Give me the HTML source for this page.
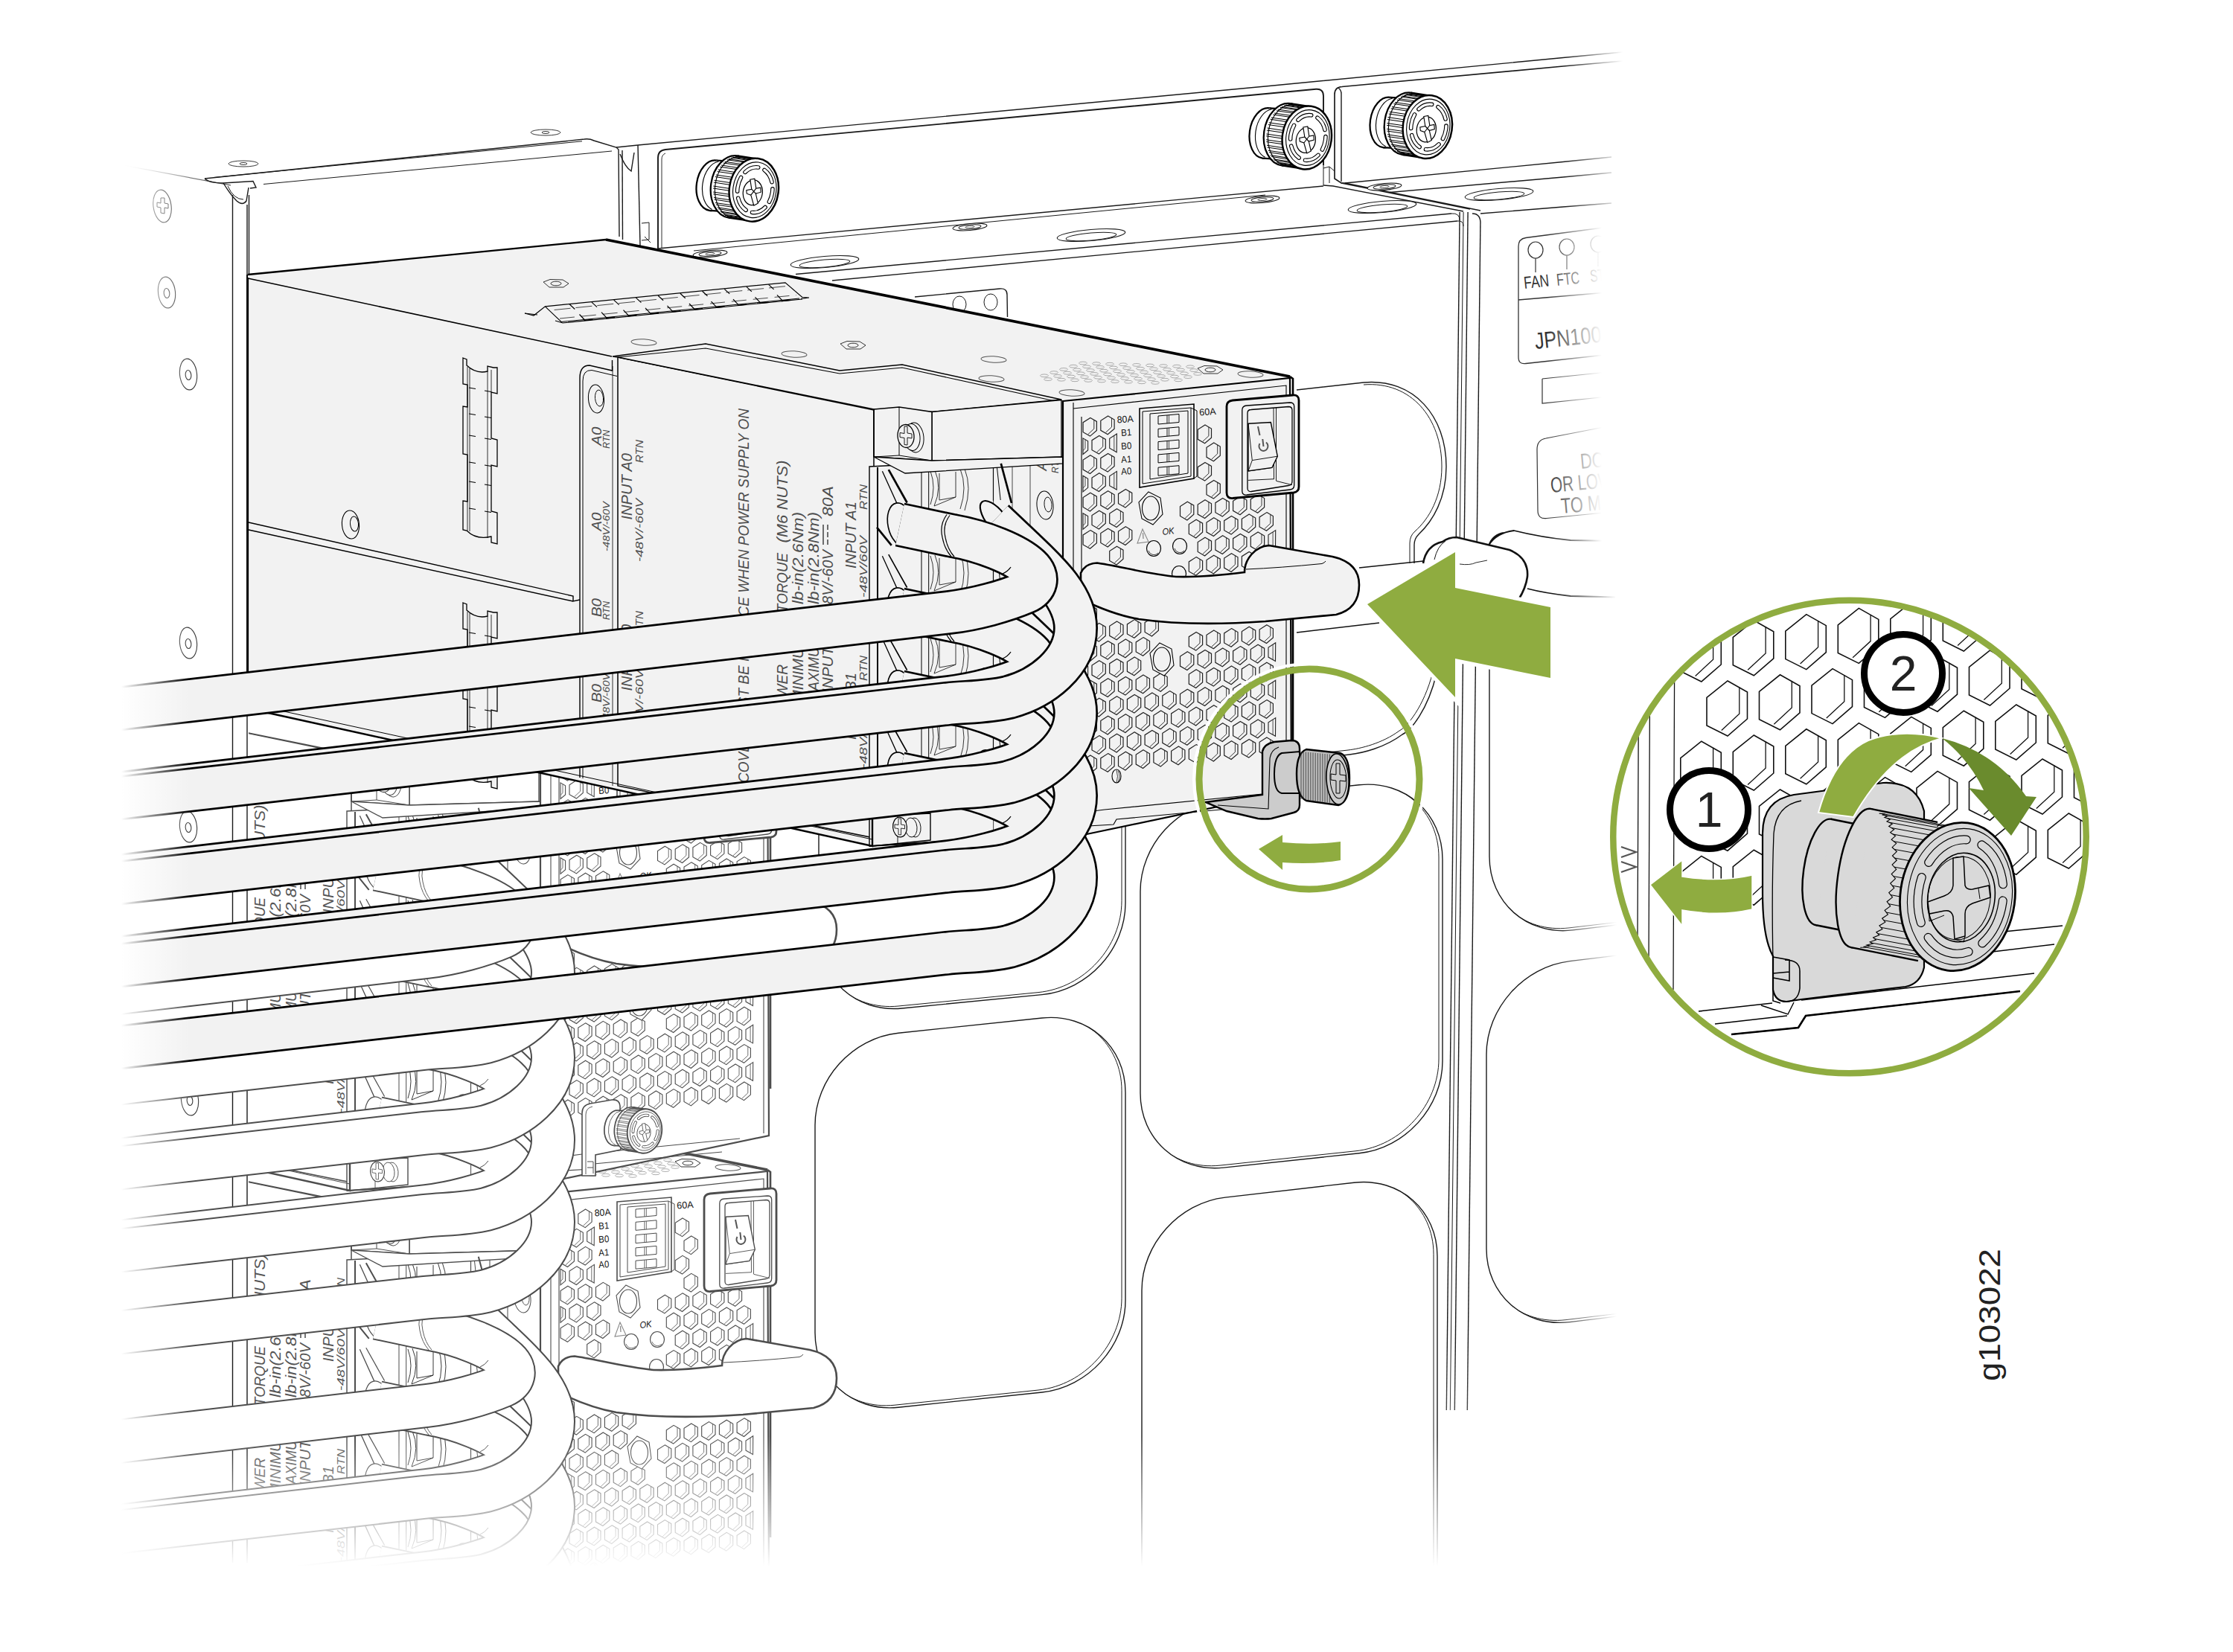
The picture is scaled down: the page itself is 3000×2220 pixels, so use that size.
<!DOCTYPE html>
<html><head><meta charset="utf-8"><title>g103022</title>
<style>html,body{margin:0;padding:0;background:#fff}svg{display:block}</style></head>
<body><svg width="3000" height="2220" viewBox="0 0 3000 2220">
<defs>
<linearGradient id="fadeR" gradientUnits="userSpaceOnUse" x1="2100" y1="0" x2="2180" y2="0"><stop offset="0" stop-color="#1a1a1a"/><stop offset="1" stop-color="#1a1a1a" stop-opacity="0"/></linearGradient>
<linearGradient id="fadeL2" gradientUnits="userSpaceOnUse" x1="160" y1="0" x2="310" y2="0"><stop offset="0" stop-color="#333" stop-opacity="0"/><stop offset="1" stop-color="#333"/></linearGradient>
<linearGradient id="fadeB2" gradientUnits="userSpaceOnUse" x1="0" y1="1800" x2="0" y2="1895"><stop offset="0" stop-color="#1a1a1a"/><stop offset="1" stop-color="#1a1a1a" stop-opacity="0.8"/></linearGradient>
<linearGradient id="wL" gradientUnits="userSpaceOnUse" x1="163" y1="0" x2="256" y2="0"><stop offset="0" stop-color="#fff"/><stop offset="1" stop-color="#fff" stop-opacity="0"/></linearGradient>
<linearGradient id="wR" gradientUnits="userSpaceOnUse" x1="2085" y1="0" x2="2172" y2="0"><stop offset="0" stop-color="#fff" stop-opacity="0"/><stop offset="1" stop-color="#fff"/></linearGradient>
<linearGradient id="wR2" gradientUnits="userSpaceOnUse" x1="2078" y1="0" x2="2152" y2="0"><stop offset="0" stop-color="#fff" stop-opacity="0"/><stop offset="1" stop-color="#fff"/></linearGradient>
<linearGradient id="wB" gradientUnits="userSpaceOnUse" x1="0" y1="1930" x2="0" y2="2105"><stop offset="0" stop-color="#fff" stop-opacity="0"/><stop offset="1" stop-color="#fff"/></linearGradient>
</defs>
<rect width="3000" height="2220" fill="#fff"/>
<g id="hxR"><path d="M2.6,-11.3 L9.2,-7.4 L9.2,4.7 L2.6,10.3 Z" fill="#f2f2f2" stroke="#222" stroke-width="1.1"/><path d="M5.6,-9.5 L5.6,2.4 L2.6,5.2" fill="none" stroke="#222" stroke-width="0.8"/></g><g id="hxL"><path d="M0.6,-12.4 L-9.1,-6.1 L-9.1,6.9 L0.4,12.3 Z" fill="#f2f2f2" stroke="#222" stroke-width="1.1"/><path d="M-3,-10 L-3,10.2" fill="none" stroke="#222" stroke-width="0.8"/></g><g id="hxRg"><path d="M2.6,-11.3 L9.2,-7.4 L9.2,4.7 L2.6,10.3 Z" fill="#fff" stroke="#4d4d4d" stroke-width="1.1"/><path d="M5.6,-9.5 L5.6,2.4 L2.6,5.2" fill="none" stroke="#4d4d4d" stroke-width="0.8"/></g><g id="hxLg"><path d="M0.6,-12.4 L-9.1,-6.1 L-9.1,6.9 L0.4,12.3 Z" fill="#fff" stroke="#4d4d4d" stroke-width="1.1"/><path d="M-3,-10 L-3,10.2" fill="none" stroke="#4d4d4d" stroke-width="0.8"/></g><g id="hx"><path d="M0.7,-12.4 L9.2,-7.4 L9.2,4.7 L0.3,12.3 L-9.1,6.9 L-9.1,-6.1 Z" fill="#f2f2f2" stroke="#222" stroke-width="1.2"/><path d="M5.6,-9.5 L5.6,2.4 L-2.4,9.8" fill="none" stroke="#222" stroke-width="0.9"/></g><g id="hxg"><path d="M0.7,-12.4 L9.2,-7.4 L9.2,4.7 L0.3,12.3 L-9.1,6.9 L-9.1,-6.1 Z" fill="#fff" stroke="#4d4d4d" stroke-width="1.1"/><path d="M5.6,-9.5 L5.6,2.4 L-2.4,9.8" fill="none" stroke="#4d4d4d" stroke-width="0.8"/></g>
<path d="M160,221 L310,249" stroke="url(#fadeL2)" stroke-width="1.2" fill="none"/>
<path d="M312.5,262.0L312.5,2100.0" fill="none" stroke="#1a1a1a" stroke-width="1.4" />
<path d="M332.0,275.0L332.0,2100.0" fill="none" stroke="#1a1a1a" stroke-width="1.4" />
<path d="M334.5,262.0L334.5,372.0" fill="none" stroke="#1a1a1a" stroke-width="1.4" />
<ellipse cx="218.0" cy="277.0" rx="12.0" ry="22.0" fill="#fff" stroke="#3a3a3a" stroke-width="1.1" transform="rotate(-8 218.0 277.0)" />
<path d="M216,266 l5,0 l0,7 l5,1 l0,6 l-5,-1 l0,8 l-5,-1 l0,-7 l-5,-1 l0,-6 l5,1 z" fill="none" stroke="#3a3a3a" stroke-width="1"/>
<ellipse cx="224.0" cy="393.0" rx="11.5" ry="21.0" fill="#fff" stroke="#3a3a3a" stroke-width="1.1" transform="rotate(-6 224.0 393.0)" />
<ellipse cx="224.0" cy="394.0" rx="3.8" ry="6.5" fill="#fff" stroke="#3a3a3a" stroke-width="1.1" transform="rotate(-6 224.0 394.0)" />
<ellipse cx="253.0" cy="503.0" rx="11.5" ry="21.0" fill="#fff" stroke="#3a3a3a" stroke-width="1.1" transform="rotate(-6 253.0 503.0)" />
<ellipse cx="253.0" cy="504.0" rx="3.8" ry="6.5" fill="#fff" stroke="#3a3a3a" stroke-width="1.1" transform="rotate(-6 253.0 504.0)" />
<ellipse cx="253.0" cy="864.0" rx="11.5" ry="21.0" fill="#fff" stroke="#3a3a3a" stroke-width="1.1" transform="rotate(-6 253.0 864.0)" />
<ellipse cx="253.0" cy="865.0" rx="3.8" ry="6.5" fill="#fff" stroke="#3a3a3a" stroke-width="1.1" transform="rotate(-6 253.0 865.0)" />
<ellipse cx="253.0" cy="1111.0" rx="11.5" ry="21.0" fill="#fff" stroke="#3a3a3a" stroke-width="1.1" transform="rotate(-6 253.0 1111.0)" />
<ellipse cx="253.0" cy="1112.0" rx="3.8" ry="6.5" fill="#fff" stroke="#3a3a3a" stroke-width="1.1" transform="rotate(-6 253.0 1112.0)" />
<ellipse cx="255.0" cy="1478.0" rx="11.5" ry="21.0" fill="#fff" stroke="#3a3a3a" stroke-width="1.1" transform="rotate(-6 255.0 1478.0)" />
<ellipse cx="255.0" cy="1479.0" rx="3.8" ry="6.5" fill="#fff" stroke="#3a3a3a" stroke-width="1.1" transform="rotate(-6 255.0 1479.0)" />
<path d="M275,240 L785,187 Q792,186 798,189 L828,198 L831,201 L832,318" fill="none" stroke="#1a1a1a" stroke-width="1.4" />
<path d="M287,238.5 L782,189.8" fill="none" stroke="#1a1a1a" stroke-width="1" />
<path d="M354,247.5 L822,203" fill="none" stroke="#1a1a1a" stroke-width="1" />
<path d="M275,240 Q281,246 300,246 L340,243.5 L344,252 L336,253" fill="none" stroke="#1a1a1a" stroke-width="1.4" />
<path d="M300,246 Q310,262 318,270 Q326,277 331,270 L334,252" fill="none" stroke="#1a1a1a" stroke-width="1.4" />
<path d="M306,250 Q314,268 327,268" fill="none" stroke="#1a1a1a" stroke-width="1" />
<ellipse cx="327.0" cy="220.0" rx="20.0" ry="4.0" fill="#fff" stroke="#3a3a3a" stroke-width="1" />
<ellipse cx="327.0" cy="220.0" rx="5.0" ry="1.5" fill="#fff" stroke="#3a3a3a" stroke-width="1" />
<ellipse cx="733.0" cy="178.0" rx="20.0" ry="4.0" fill="#fff" stroke="#3a3a3a" stroke-width="1" />
<ellipse cx="733.0" cy="178.0" rx="5.0" ry="1.5" fill="#fff" stroke="#3a3a3a" stroke-width="1" />
<path d="M828,198 L857,195" fill="none" stroke="#1a1a1a" stroke-width="1.4" />
<path d="M833,207 Q840,225 848,230 L852,205" fill="none" stroke="#1a1a1a" stroke-width="1.4" />
<path d="M836,202 L836.5,322" fill="none" stroke="#1a1a1a" stroke-width="1.4" />
<path d="M857,195 L860,330" fill="none" stroke="#1a1a1a" stroke-width="1.4" />
<path d="M857,195 L1700,116 L2100,77.5" fill="none" stroke="#1a1a1a" stroke-width="1.4" />
<path d="M2100,77.5 L2180,70" fill="none" stroke="url(#fadeR)" stroke-width="1.4" />
<path d="M884,334 L884,212 Q884,202 894,201 L1768,119.8 Q1778,119 1778,129 L1778,222" fill="none" stroke="#1a1a1a" stroke-width="1.9" />
<path d="M889,333 L889,214 Q889,208 894,206" fill="none" stroke="#1a1a1a" stroke-width="0.9" />
<path d="M884,334 L1778,250" fill="none" stroke="#1a1a1a" stroke-width="1.4" />
<path d="M862,300 L872,299 L872,322 L862,323 M866,318 l8,8" fill="none" stroke="#1a1a1a" stroke-width="1" />
<path d="M1807,246 L1802,246 L1793,240 L1793,127 Q1793,117 1803,116.5 L2100,89" fill="none" stroke="#1a1a1a" stroke-width="1.68" />
<path d="M2100,89 L2180,82" fill="none" stroke="url(#fadeR)" stroke-width="1.4" />
<path d="M1802,244 L1802,126 Q1802,121 1798,118" fill="none" stroke="#1a1a1a" stroke-width="1.4" />
<path d="M1807,246 L2100,217.5" fill="none" stroke="#1a1a1a" stroke-width="1.4" />
<path d="M2100,217.5 L2165,211" fill="none" stroke="url(#fadeR)" stroke-width="1.4" />
<path d="M1778,222 L1778,249 M1778,226 L1786,224 L1793,230 M1786,224 L1786,246" fill="none" stroke="#1a1a1a" stroke-width="1" />
<path d="M932,337 L1700,262" fill="none" stroke="#1a1a1a" stroke-width="1" />
<path d="M1069,368.5 L1950,287" fill="none" stroke="#1a1a1a" stroke-width="1.4" />
<path d="M1118,377 L1958,297" fill="none" stroke="#1a1a1a" stroke-width="1.4" />
<path d="M1778,249 L1791,250 L1966,284 M1802,246 L1975,281 M1807,246 L1989,283" fill="none" stroke="#1a1a1a" stroke-width="1.4" />
<path d="M1867,258.5 L2100,238" fill="none" stroke="#1a1a1a" stroke-width="1.4" />
<path d="M2100,238 L2165,232" fill="none" stroke="url(#fadeR)" stroke-width="1.4" />
<path d="M1989,287 L2100,278" fill="none" stroke="#1a1a1a" stroke-width="1.4" />
<path d="M2100,278 L2165,273" fill="none" stroke="url(#fadeR)" stroke-width="1.4" />
<ellipse cx="1108.0" cy="352.0" rx="46.0" ry="7.5" fill="#fff" stroke="#1a1a1a" stroke-width="1.1" transform="rotate(-5 1108.0 352.0)" />
<ellipse cx="1108.0" cy="354.0" rx="34.0" ry="5.0" fill="#fff" stroke="#1a1a1a" stroke-width="1" transform="rotate(-5 1108.0 354.0)" />
<ellipse cx="1466.0" cy="316.0" rx="46.0" ry="7.5" fill="#fff" stroke="#1a1a1a" stroke-width="1.1" transform="rotate(-5 1466.0 316.0)" />
<ellipse cx="1466.0" cy="318.0" rx="34.0" ry="5.0" fill="#fff" stroke="#1a1a1a" stroke-width="1" transform="rotate(-5 1466.0 318.0)" />
<ellipse cx="1857.0" cy="278.0" rx="46.0" ry="7.5" fill="#fff" stroke="#1a1a1a" stroke-width="1.1" transform="rotate(-5 1857.0 278.0)" />
<ellipse cx="1857.0" cy="280.0" rx="34.0" ry="5.0" fill="#fff" stroke="#1a1a1a" stroke-width="1" transform="rotate(-5 1857.0 280.0)" />
<ellipse cx="2014.0" cy="261.0" rx="46.0" ry="7.5" fill="#fff" stroke="#1a1a1a" stroke-width="1.1" transform="rotate(-5 2014.0 261.0)" />
<ellipse cx="2014.0" cy="263.0" rx="34.0" ry="5.0" fill="#fff" stroke="#1a1a1a" stroke-width="1" transform="rotate(-5 2014.0 263.0)" />
<ellipse cx="954.0" cy="341.0" rx="23.0" ry="4.5" fill="#fff" stroke="#1a1a1a" stroke-width="1.1" transform="rotate(-5 954.0 341.0)" />
<ellipse cx="954.0" cy="341.0" rx="15.0" ry="3.0" fill="#fff" stroke="#1a1a1a" stroke-width="1" transform="rotate(-5 954.0 341.0)" />
<ellipse cx="954.0" cy="341.0" rx="6.0" ry="1.5" fill="#fff" stroke="#1a1a1a" stroke-width="0.8" transform="rotate(-5 954.0 341.0)" />
<ellipse cx="1303.0" cy="305.0" rx="23.0" ry="4.5" fill="#fff" stroke="#1a1a1a" stroke-width="1.1" transform="rotate(-5 1303.0 305.0)" />
<ellipse cx="1303.0" cy="305.0" rx="15.0" ry="3.0" fill="#fff" stroke="#1a1a1a" stroke-width="1" transform="rotate(-5 1303.0 305.0)" />
<ellipse cx="1303.0" cy="305.0" rx="6.0" ry="1.5" fill="#fff" stroke="#1a1a1a" stroke-width="0.8" transform="rotate(-5 1303.0 305.0)" />
<ellipse cx="1696.0" cy="268.0" rx="23.0" ry="4.5" fill="#fff" stroke="#1a1a1a" stroke-width="1.1" transform="rotate(-5 1696.0 268.0)" />
<ellipse cx="1696.0" cy="268.0" rx="15.0" ry="3.0" fill="#fff" stroke="#1a1a1a" stroke-width="1" transform="rotate(-5 1696.0 268.0)" />
<ellipse cx="1696.0" cy="268.0" rx="6.0" ry="1.5" fill="#fff" stroke="#1a1a1a" stroke-width="0.8" transform="rotate(-5 1696.0 268.0)" />
<ellipse cx="1860.0" cy="251.0" rx="23.0" ry="4.5" fill="#fff" stroke="#1a1a1a" stroke-width="1.1" transform="rotate(-5 1860.0 251.0)" />
<ellipse cx="1860.0" cy="251.0" rx="15.0" ry="3.0" fill="#fff" stroke="#1a1a1a" stroke-width="1" transform="rotate(-5 1860.0 251.0)" />
<ellipse cx="1860.0" cy="251.0" rx="6.0" ry="1.5" fill="#fff" stroke="#1a1a1a" stroke-width="0.8" transform="rotate(-5 1860.0 251.0)" />
<path d="M1229,399 L1343,388 Q1353,387 1353,396 L1353.5,426" fill="none" stroke="#1a1a1a" stroke-width="1.4" />
<ellipse cx="1289.0" cy="409.0" rx="9.0" ry="11.0" fill="#fff" stroke="#1a1a1a" stroke-width="1" />
<ellipse cx="1331.0" cy="406.0" rx="9.0" ry="11.0" fill="#fff" stroke="#1a1a1a" stroke-width="1" />
<g transform="translate(1012.8,255.2) scale(1.0)"><ellipse cx="-55.0" cy="-6.0" rx="22.0" ry="34.0" fill="#fff" stroke="#000" stroke-width="2.25" transform="rotate(8 -55.0 -6.0)" /><path d="M-50.3,-39.7 L-25.3,-38.2 L-34.7,29.2 L-59.7,27.7Z" fill="#fff" stroke="none" stroke-width="0" /><path d="M-50.3,-39.7 L-25.3,-38.2" fill="none" stroke="#000" stroke-width="2.25" /><path d="M-59.7,27.7 L-34.7,29.2" fill="none" stroke="#000" stroke-width="2.25" /><path d="M-47.1,-38.2 A21,33 8 0 0 -56.1,26.2" fill="none" stroke="#000" stroke-width="1.125"/><ellipse cx="-27.8" cy="-4.2" rx="30.0" ry="42.0" fill="#fff" stroke="#000" stroke-width="2.25" transform="rotate(8 -27.8 -4.2)" /><path d="M-22.0,-45.8 L3.8,-41.9 L-7.8,41.3 L-33.6,37.4Z" fill="#fff" stroke="none" stroke-width="0" /><path d="M-22.0,-45.8 L3.8,-41.9" fill="none" stroke="#000" stroke-width="2.25" /><path d="M-33.6,37.4 L-7.8,41.3" fill="none" stroke="#000" stroke-width="2.25" /><path d="M-18.8,-44.3 A29,41 8 0 0 -30.2,36.8" fill="none" stroke="#000" stroke-width="1.125"/><path d="M-22.8,-44.7 L11.2,-39.6" fill="none" stroke="#000" stroke-width="1.0125" /><path d="M-24.9,-44.6 L9.1,-39.5" fill="none" stroke="#000" stroke-width="1.0125" /><path d="M-28.4,-43.9 L5.6,-38.8" fill="none" stroke="#000" stroke-width="1.0125" /><path d="M-30.5,-43.3 L3.5,-38.2" fill="none" stroke="#000" stroke-width="1.0125" /><path d="M-33.9,-41.6 L0.1,-36.5" fill="none" stroke="#000" stroke-width="1.0125" /><path d="M-35.9,-40.5 L-1.9,-35.4" fill="none" stroke="#000" stroke-width="1.0125" /><path d="M-39.1,-38.0 L-5.1,-32.9" fill="none" stroke="#000" stroke-width="1.0125" /><path d="M-40.9,-36.3 L-6.9,-31.2" fill="none" stroke="#000" stroke-width="1.0125" /><path d="M-43.8,-33.1 L-9.8,-28.0" fill="none" stroke="#000" stroke-width="1.0125" /><path d="M-45.4,-31.0 L-11.4,-25.9" fill="none" stroke="#000" stroke-width="1.0125" /><path d="M-47.9,-27.1 L-13.9,-22.0" fill="none" stroke="#000" stroke-width="1.0125" /><path d="M-49.1,-24.7 L-15.1,-19.6" fill="none" stroke="#000" stroke-width="1.0125" /><path d="M-51.0,-20.3 L-17.0,-15.2" fill="none" stroke="#000" stroke-width="1.0125" /><path d="M-52.0,-17.6 L-18.0,-12.5" fill="none" stroke="#000" stroke-width="1.0125" /><path d="M-53.3,-12.9 L-19.3,-7.8" fill="none" stroke="#000" stroke-width="1.0125" /><path d="M-53.9,-10.1 L-19.9,-5.0" fill="none" stroke="#000" stroke-width="1.0125" /><path d="M-54.5,-5.1 L-20.5,0.0" fill="none" stroke="#000" stroke-width="1.0125" /><path d="M-54.7,-2.2 L-20.7,2.9" fill="none" stroke="#000" stroke-width="1.0125" /><path d="M-54.7,2.7 L-20.7,7.8" fill="none" stroke="#000" stroke-width="1.0125" /><path d="M-54.5,5.5 L-20.5,10.6" fill="none" stroke="#000" stroke-width="1.0125" /><path d="M-53.8,10.3 L-19.8,15.4" fill="none" stroke="#000" stroke-width="1.0125" /><path d="M-53.2,12.9 L-19.2,18.0" fill="none" stroke="#000" stroke-width="1.0125" /><path d="M-51.9,17.3 L-17.9,22.4" fill="none" stroke="#000" stroke-width="1.0125" /><path d="M-50.9,19.7 L-16.9,24.8" fill="none" stroke="#000" stroke-width="1.0125" /><path d="M-49.0,23.6 L-15.0,28.7" fill="none" stroke="#000" stroke-width="1.0125" /><path d="M-47.7,25.6 L-13.7,30.7" fill="none" stroke="#000" stroke-width="1.0125" /><path d="M-45.2,28.8 L-11.2,33.9" fill="none" stroke="#000" stroke-width="1.0125" /><path d="M-43.6,30.4 L-9.6,35.5" fill="none" stroke="#000" stroke-width="1.0125" /><path d="M-40.7,32.9 L-6.7,38.0" fill="none" stroke="#000" stroke-width="1.0125" /><path d="M-38.9,34.0 L-4.9,39.1" fill="none" stroke="#000" stroke-width="1.0125" /><path d="M-35.6,35.6 L-1.6,40.7" fill="none" stroke="#000" stroke-width="1.0125" /><path d="M-33.7,36.2 L0.3,41.3" fill="none" stroke="#000" stroke-width="1.0125" /><ellipse cx="0.0" cy="0.0" rx="33.0" ry="42.6" fill="#fff" stroke="#000" stroke-width="2.475" transform="rotate(8 0.0 0.0)" /><ellipse cx="1.0" cy="0.0" rx="29.0" ry="37.5" fill="none" stroke="#000" stroke-width="1.125" transform="rotate(8 1.0 0.0)" /><ellipse cx="1.5" cy="0" rx="23.5" ry="30.5" fill="none" stroke="#000" stroke-width="5.6" stroke-dasharray="19.5 9" stroke-dashoffset="6" stroke-linecap="round" transform="rotate(8 1.5 0)"/><ellipse cx="1.5" cy="0" rx="23.5" ry="30.5" fill="none" stroke="#fff" stroke-width="3.3499999999999996" stroke-dasharray="19.5 9" stroke-dashoffset="6" stroke-linecap="round" transform="rotate(8 1.5 0)"/><ellipse cx="-1.5" cy="3.5" rx="13.0" ry="17.0" fill="#fff" stroke="#000" stroke-width="1.2375" transform="rotate(8 -1.5 3.5)" /><path d="M-5,-14 L1,-15 L3,-2 L9,-3 L9.5,3 L2.5,5 L5.5,18 L0,21 L-4,7 L-9.5,5 L-10,0.5 L-3,-1 Z M-3,-1 L2.5,5 M3,-2 L-4,7" fill="#fff" stroke="#000" stroke-width="1.125"/></g>
<g transform="translate(1755.8,185) scale(1.0)"><ellipse cx="-55.0" cy="-6.0" rx="22.0" ry="34.0" fill="#fff" stroke="#000" stroke-width="2.25" transform="rotate(8 -55.0 -6.0)" /><path d="M-50.3,-39.7 L-25.3,-38.2 L-34.7,29.2 L-59.7,27.7Z" fill="#fff" stroke="none" stroke-width="0" /><path d="M-50.3,-39.7 L-25.3,-38.2" fill="none" stroke="#000" stroke-width="2.25" /><path d="M-59.7,27.7 L-34.7,29.2" fill="none" stroke="#000" stroke-width="2.25" /><path d="M-47.1,-38.2 A21,33 8 0 0 -56.1,26.2" fill="none" stroke="#000" stroke-width="1.125"/><ellipse cx="-27.8" cy="-4.2" rx="30.0" ry="42.0" fill="#fff" stroke="#000" stroke-width="2.25" transform="rotate(8 -27.8 -4.2)" /><path d="M-22.0,-45.8 L3.8,-41.9 L-7.8,41.3 L-33.6,37.4Z" fill="#fff" stroke="none" stroke-width="0" /><path d="M-22.0,-45.8 L3.8,-41.9" fill="none" stroke="#000" stroke-width="2.25" /><path d="M-33.6,37.4 L-7.8,41.3" fill="none" stroke="#000" stroke-width="2.25" /><path d="M-18.8,-44.3 A29,41 8 0 0 -30.2,36.8" fill="none" stroke="#000" stroke-width="1.125"/><path d="M-22.8,-44.7 L11.2,-39.6" fill="none" stroke="#000" stroke-width="1.0125" /><path d="M-24.9,-44.6 L9.1,-39.5" fill="none" stroke="#000" stroke-width="1.0125" /><path d="M-28.4,-43.9 L5.6,-38.8" fill="none" stroke="#000" stroke-width="1.0125" /><path d="M-30.5,-43.3 L3.5,-38.2" fill="none" stroke="#000" stroke-width="1.0125" /><path d="M-33.9,-41.6 L0.1,-36.5" fill="none" stroke="#000" stroke-width="1.0125" /><path d="M-35.9,-40.5 L-1.9,-35.4" fill="none" stroke="#000" stroke-width="1.0125" /><path d="M-39.1,-38.0 L-5.1,-32.9" fill="none" stroke="#000" stroke-width="1.0125" /><path d="M-40.9,-36.3 L-6.9,-31.2" fill="none" stroke="#000" stroke-width="1.0125" /><path d="M-43.8,-33.1 L-9.8,-28.0" fill="none" stroke="#000" stroke-width="1.0125" /><path d="M-45.4,-31.0 L-11.4,-25.9" fill="none" stroke="#000" stroke-width="1.0125" /><path d="M-47.9,-27.1 L-13.9,-22.0" fill="none" stroke="#000" stroke-width="1.0125" /><path d="M-49.1,-24.7 L-15.1,-19.6" fill="none" stroke="#000" stroke-width="1.0125" /><path d="M-51.0,-20.3 L-17.0,-15.2" fill="none" stroke="#000" stroke-width="1.0125" /><path d="M-52.0,-17.6 L-18.0,-12.5" fill="none" stroke="#000" stroke-width="1.0125" /><path d="M-53.3,-12.9 L-19.3,-7.8" fill="none" stroke="#000" stroke-width="1.0125" /><path d="M-53.9,-10.1 L-19.9,-5.0" fill="none" stroke="#000" stroke-width="1.0125" /><path d="M-54.5,-5.1 L-20.5,0.0" fill="none" stroke="#000" stroke-width="1.0125" /><path d="M-54.7,-2.2 L-20.7,2.9" fill="none" stroke="#000" stroke-width="1.0125" /><path d="M-54.7,2.7 L-20.7,7.8" fill="none" stroke="#000" stroke-width="1.0125" /><path d="M-54.5,5.5 L-20.5,10.6" fill="none" stroke="#000" stroke-width="1.0125" /><path d="M-53.8,10.3 L-19.8,15.4" fill="none" stroke="#000" stroke-width="1.0125" /><path d="M-53.2,12.9 L-19.2,18.0" fill="none" stroke="#000" stroke-width="1.0125" /><path d="M-51.9,17.3 L-17.9,22.4" fill="none" stroke="#000" stroke-width="1.0125" /><path d="M-50.9,19.7 L-16.9,24.8" fill="none" stroke="#000" stroke-width="1.0125" /><path d="M-49.0,23.6 L-15.0,28.7" fill="none" stroke="#000" stroke-width="1.0125" /><path d="M-47.7,25.6 L-13.7,30.7" fill="none" stroke="#000" stroke-width="1.0125" /><path d="M-45.2,28.8 L-11.2,33.9" fill="none" stroke="#000" stroke-width="1.0125" /><path d="M-43.6,30.4 L-9.6,35.5" fill="none" stroke="#000" stroke-width="1.0125" /><path d="M-40.7,32.9 L-6.7,38.0" fill="none" stroke="#000" stroke-width="1.0125" /><path d="M-38.9,34.0 L-4.9,39.1" fill="none" stroke="#000" stroke-width="1.0125" /><path d="M-35.6,35.6 L-1.6,40.7" fill="none" stroke="#000" stroke-width="1.0125" /><path d="M-33.7,36.2 L0.3,41.3" fill="none" stroke="#000" stroke-width="1.0125" /><ellipse cx="0.0" cy="0.0" rx="33.0" ry="42.6" fill="#fff" stroke="#000" stroke-width="2.475" transform="rotate(8 0.0 0.0)" /><ellipse cx="1.0" cy="0.0" rx="29.0" ry="37.5" fill="none" stroke="#000" stroke-width="1.125" transform="rotate(8 1.0 0.0)" /><ellipse cx="1.5" cy="0" rx="23.5" ry="30.5" fill="none" stroke="#000" stroke-width="5.6" stroke-dasharray="19.5 9" stroke-dashoffset="6" stroke-linecap="round" transform="rotate(8 1.5 0)"/><ellipse cx="1.5" cy="0" rx="23.5" ry="30.5" fill="none" stroke="#fff" stroke-width="3.3499999999999996" stroke-dasharray="19.5 9" stroke-dashoffset="6" stroke-linecap="round" transform="rotate(8 1.5 0)"/><ellipse cx="-1.5" cy="3.5" rx="13.0" ry="17.0" fill="#fff" stroke="#000" stroke-width="1.2375" transform="rotate(8 -1.5 3.5)" /><path d="M-5,-14 L1,-15 L3,-2 L9,-3 L9.5,3 L2.5,5 L5.5,18 L0,21 L-4,7 L-9.5,5 L-10,0.5 L-3,-1 Z M-3,-1 L2.5,5 M3,-2 L-4,7" fill="#fff" stroke="#000" stroke-width="1.125"/></g>
<g transform="translate(1917.8,170.5) scale(1.0)"><ellipse cx="-55.0" cy="-6.0" rx="22.0" ry="34.0" fill="#fff" stroke="#000" stroke-width="2.25" transform="rotate(8 -55.0 -6.0)" /><path d="M-50.3,-39.7 L-25.3,-38.2 L-34.7,29.2 L-59.7,27.7Z" fill="#fff" stroke="none" stroke-width="0" /><path d="M-50.3,-39.7 L-25.3,-38.2" fill="none" stroke="#000" stroke-width="2.25" /><path d="M-59.7,27.7 L-34.7,29.2" fill="none" stroke="#000" stroke-width="2.25" /><path d="M-47.1,-38.2 A21,33 8 0 0 -56.1,26.2" fill="none" stroke="#000" stroke-width="1.125"/><ellipse cx="-27.8" cy="-4.2" rx="30.0" ry="42.0" fill="#fff" stroke="#000" stroke-width="2.25" transform="rotate(8 -27.8 -4.2)" /><path d="M-22.0,-45.8 L3.8,-41.9 L-7.8,41.3 L-33.6,37.4Z" fill="#fff" stroke="none" stroke-width="0" /><path d="M-22.0,-45.8 L3.8,-41.9" fill="none" stroke="#000" stroke-width="2.25" /><path d="M-33.6,37.4 L-7.8,41.3" fill="none" stroke="#000" stroke-width="2.25" /><path d="M-18.8,-44.3 A29,41 8 0 0 -30.2,36.8" fill="none" stroke="#000" stroke-width="1.125"/><path d="M-22.8,-44.7 L11.2,-39.6" fill="none" stroke="#000" stroke-width="1.0125" /><path d="M-24.9,-44.6 L9.1,-39.5" fill="none" stroke="#000" stroke-width="1.0125" /><path d="M-28.4,-43.9 L5.6,-38.8" fill="none" stroke="#000" stroke-width="1.0125" /><path d="M-30.5,-43.3 L3.5,-38.2" fill="none" stroke="#000" stroke-width="1.0125" /><path d="M-33.9,-41.6 L0.1,-36.5" fill="none" stroke="#000" stroke-width="1.0125" /><path d="M-35.9,-40.5 L-1.9,-35.4" fill="none" stroke="#000" stroke-width="1.0125" /><path d="M-39.1,-38.0 L-5.1,-32.9" fill="none" stroke="#000" stroke-width="1.0125" /><path d="M-40.9,-36.3 L-6.9,-31.2" fill="none" stroke="#000" stroke-width="1.0125" /><path d="M-43.8,-33.1 L-9.8,-28.0" fill="none" stroke="#000" stroke-width="1.0125" /><path d="M-45.4,-31.0 L-11.4,-25.9" fill="none" stroke="#000" stroke-width="1.0125" /><path d="M-47.9,-27.1 L-13.9,-22.0" fill="none" stroke="#000" stroke-width="1.0125" /><path d="M-49.1,-24.7 L-15.1,-19.6" fill="none" stroke="#000" stroke-width="1.0125" /><path d="M-51.0,-20.3 L-17.0,-15.2" fill="none" stroke="#000" stroke-width="1.0125" /><path d="M-52.0,-17.6 L-18.0,-12.5" fill="none" stroke="#000" stroke-width="1.0125" /><path d="M-53.3,-12.9 L-19.3,-7.8" fill="none" stroke="#000" stroke-width="1.0125" /><path d="M-53.9,-10.1 L-19.9,-5.0" fill="none" stroke="#000" stroke-width="1.0125" /><path d="M-54.5,-5.1 L-20.5,0.0" fill="none" stroke="#000" stroke-width="1.0125" /><path d="M-54.7,-2.2 L-20.7,2.9" fill="none" stroke="#000" stroke-width="1.0125" /><path d="M-54.7,2.7 L-20.7,7.8" fill="none" stroke="#000" stroke-width="1.0125" /><path d="M-54.5,5.5 L-20.5,10.6" fill="none" stroke="#000" stroke-width="1.0125" /><path d="M-53.8,10.3 L-19.8,15.4" fill="none" stroke="#000" stroke-width="1.0125" /><path d="M-53.2,12.9 L-19.2,18.0" fill="none" stroke="#000" stroke-width="1.0125" /><path d="M-51.9,17.3 L-17.9,22.4" fill="none" stroke="#000" stroke-width="1.0125" /><path d="M-50.9,19.7 L-16.9,24.8" fill="none" stroke="#000" stroke-width="1.0125" /><path d="M-49.0,23.6 L-15.0,28.7" fill="none" stroke="#000" stroke-width="1.0125" /><path d="M-47.7,25.6 L-13.7,30.7" fill="none" stroke="#000" stroke-width="1.0125" /><path d="M-45.2,28.8 L-11.2,33.9" fill="none" stroke="#000" stroke-width="1.0125" /><path d="M-43.6,30.4 L-9.6,35.5" fill="none" stroke="#000" stroke-width="1.0125" /><path d="M-40.7,32.9 L-6.7,38.0" fill="none" stroke="#000" stroke-width="1.0125" /><path d="M-38.9,34.0 L-4.9,39.1" fill="none" stroke="#000" stroke-width="1.0125" /><path d="M-35.6,35.6 L-1.6,40.7" fill="none" stroke="#000" stroke-width="1.0125" /><path d="M-33.7,36.2 L0.3,41.3" fill="none" stroke="#000" stroke-width="1.0125" /><ellipse cx="0.0" cy="0.0" rx="33.0" ry="42.6" fill="#fff" stroke="#000" stroke-width="2.475" transform="rotate(8 0.0 0.0)" /><ellipse cx="1.0" cy="0.0" rx="29.0" ry="37.5" fill="none" stroke="#000" stroke-width="1.125" transform="rotate(8 1.0 0.0)" /><ellipse cx="1.5" cy="0" rx="23.5" ry="30.5" fill="none" stroke="#000" stroke-width="5.6" stroke-dasharray="19.5 9" stroke-dashoffset="6" stroke-linecap="round" transform="rotate(8 1.5 0)"/><ellipse cx="1.5" cy="0" rx="23.5" ry="30.5" fill="none" stroke="#fff" stroke-width="3.3499999999999996" stroke-dasharray="19.5 9" stroke-dashoffset="6" stroke-linecap="round" transform="rotate(8 1.5 0)"/><ellipse cx="-1.5" cy="3.5" rx="13.0" ry="17.0" fill="#fff" stroke="#000" stroke-width="1.2375" transform="rotate(8 -1.5 3.5)" /><path d="M-5,-14 L1,-15 L3,-2 L9,-3 L9.5,3 L2.5,5 L5.5,18 L0,21 L-4,7 L-9.5,5 L-10,0.5 L-3,-1 Z M-3,-1 L2.5,5 M3,-2 L-4,7" fill="#fff" stroke="#000" stroke-width="1.125"/></g>
<path d="M1961.1,285.0L1944.4,1800.0" fill="none" stroke="#1a1a1a" stroke-width="1.4" />
<path d="M1944.4,1800 L1943.3,1895" stroke="url(#fadeB2)" stroke-width="1.4" fill="none"/>
<path d="M1966.1,285.0L1949.4,1800.0" fill="none" stroke="#1a1a1a" stroke-width="1" />
<path d="M1949.4,1800 L1948.3,1895" stroke="url(#fadeB2)" stroke-width="1" fill="none"/>
<path d="M1972.1,285.0L1955.4,1800.0" fill="none" stroke="#1a1a1a" stroke-width="1.4" />
<path d="M1955.4,1800 L1954.3,1895" stroke="url(#fadeB2)" stroke-width="1.4" fill="none"/>
<path d="M1988.9,300.0L1972.4,1800.0" fill="none" stroke="#1a1a1a" stroke-width="1.4" />
<path d="M1972.4,1800 L1971.3,1895" stroke="url(#fadeB2)" stroke-width="1.4" fill="none"/>
<path d="M1978,287 Q1989,287 1989,300" fill="none" stroke="#1a1a1a" stroke-width="1.4" />
<path d="M1950,287 Q1961,286 1961,296 M1958,297 Q1966,296 1966,304" fill="none" stroke="#1a1a1a" stroke-width="1" />
<clipPath id="clA"><path d="M1532,1198.0 C1532,1136.1 1582.1,1080.7 1644,1074.1 L1826,1054.8 C1887.9,1048.3 1938,1093.1 1938,1155.0 L1938,1426.0 C1938,1487.8 1887.9,1543.3 1826,1549.8 L1644,1569.1 C1582.1,1575.7 1532,1530.9 1532,1469.0 Z"/></clipPath>
<path d="M1532,1198.0 C1532,1136.1 1582.1,1080.7 1644,1074.1 L1826,1054.8 C1887.9,1048.3 1938,1093.1 1938,1155.0 L1938,1426.0 C1938,1487.8 1887.9,1543.3 1826,1549.8 L1644,1569.1 C1582.1,1575.7 1532,1530.9 1532,1469.0 Z" fill="none" stroke="#1a1a1a" stroke-width="1.4" />
<g clip-path="url(#clA)"><path d="M1532,1198.0 C1532,1136.1 1582.1,1080.7 1644,1074.1 L1826,1054.8 C1887.9,1048.3 1938,1093.1 1938,1155.0 L1938,1426.0 C1938,1487.8 1887.9,1543.3 1826,1549.8 L1644,1569.1 C1582.1,1575.7 1532,1530.9 1532,1469.0 Z" transform="translate(-5,-3)" fill="none" stroke="#1a1a1a" stroke-width="1"/></g>
<clipPath id="clB"><path d="M1534,1734.0 C1534,1672.1 1584.1,1616.2 1646,1609.1 L1819,1589.2 C1880.9,1582.1 1931,1626.5 1931,1688.3 L1931,2164.3 C1931,2226.2 1880.9,2282.1 1819,2289.2 L1646,2309.1 C1584.1,2316.2 1534,2271.9 1534,2210.0 Z"/></clipPath>
<path d="M1534,1734.0 C1534,1672.1 1584.1,1616.2 1646,1609.1 L1819,1589.2 C1880.9,1582.1 1931,1626.5 1931,1688.3 L1931,2164.3 C1931,2226.2 1880.9,2282.1 1819,2289.2 L1646,2309.1 C1584.1,2316.2 1534,2271.9 1534,2210.0 Z" fill="none" stroke="#1a1a1a" stroke-width="1.4" />
<g clip-path="url(#clB)"><path d="M1534,1734.0 C1534,1672.1 1584.1,1616.2 1646,1609.1 L1819,1589.2 C1880.9,1582.1 1931,1626.5 1931,1688.3 L1931,2164.3 C1931,2226.2 1880.9,2282.1 1819,2289.2 L1646,2309.1 C1584.1,2316.2 1534,2271.9 1534,2210.0 Z" transform="translate(-5,-3)" fill="none" stroke="#1a1a1a" stroke-width="1"/></g>
<clipPath id="clF"><path d="M1100,983.0 C1100,921.1 1150.1,866.1 1212,860.0 L1400,841.6 C1461.9,835.5 1512,880.8 1512,942.6 L1512,1213.6 C1512,1275.5 1461.9,1330.5 1400,1336.6 L1212,1355.0 C1150.1,1361.1 1100,1315.9 1100,1254.0 Z"/></clipPath>
<path d="M1100,983.0 C1100,921.1 1150.1,866.1 1212,860.0 L1400,841.6 C1461.9,835.5 1512,880.8 1512,942.6 L1512,1213.6 C1512,1275.5 1461.9,1330.5 1400,1336.6 L1212,1355.0 C1150.1,1361.1 1100,1315.9 1100,1254.0 Z" fill="none" stroke="#1a1a1a" stroke-width="1.4" />
<g clip-path="url(#clF)"><path d="M1100,983.0 C1100,921.1 1150.1,866.1 1212,860.0 L1400,841.6 C1461.9,835.5 1512,880.8 1512,942.6 L1512,1213.6 C1512,1275.5 1461.9,1330.5 1400,1336.6 L1212,1355.0 C1150.1,1361.1 1100,1315.9 1100,1254.0 Z" transform="translate(-5,-3)" fill="none" stroke="#1a1a1a" stroke-width="1"/></g>
<clipPath id="clE"><path d="M1095,1512.0 C1095,1450.1 1145.1,1394.7 1207,1388.2 L1400,1368.0 C1461.9,1361.5 1512,1406.4 1512,1468.2 L1512,1747.2 C1512,1809.1 1461.9,1864.5 1400,1871.0 L1207,1891.2 C1145.1,1897.7 1095,1852.9 1095,1791.0 Z"/></clipPath>
<path d="M1095,1512.0 C1095,1450.1 1145.1,1394.7 1207,1388.2 L1400,1368.0 C1461.9,1361.5 1512,1406.4 1512,1468.2 L1512,1747.2 C1512,1809.1 1461.9,1864.5 1400,1871.0 L1207,1891.2 C1145.1,1897.7 1095,1852.9 1095,1791.0 Z" fill="none" stroke="#1a1a1a" stroke-width="1.4" />
<g clip-path="url(#clE)"><path d="M1095,1512.0 C1095,1450.1 1145.1,1394.7 1207,1388.2 L1400,1368.0 C1461.9,1361.5 1512,1406.4 1512,1468.2 L1512,1747.2 C1512,1809.1 1461.9,1864.5 1400,1871.0 L1207,1891.2 C1145.1,1897.7 1095,1852.9 1095,1791.0 Z" transform="translate(-5,-3)" fill="none" stroke="#1a1a1a" stroke-width="1"/></g>
<clipPath id="clC"><path d="M2001,880.0 C2001,818.1 2051.1,762.1 2113,754.9 L2308,732.1 C2369.9,724.8 2420,769.1 2420,831.0 L2420,1102.0 C2420,1163.8 2369.9,1219.8 2308,1227.1 L2113,1249.9 C2051.1,1257.1 2001,1212.9 2001,1151.0 Z"/></clipPath>
<path d="M2001,880.0 C2001,818.1 2051.1,762.1 2113,754.9 L2308,732.1 C2369.9,724.8 2420,769.1 2420,831.0 L2420,1102.0 C2420,1163.8 2369.9,1219.8 2308,1227.1 L2113,1249.9 C2051.1,1257.1 2001,1212.9 2001,1151.0 Z" fill="none" stroke="#1a1a1a" stroke-width="1.4" />
<g clip-path="url(#clC)"><path d="M2001,880.0 C2001,818.1 2051.1,762.1 2113,754.9 L2308,732.1 C2369.9,724.8 2420,769.1 2420,831.0 L2420,1102.0 C2420,1163.8 2369.9,1219.8 2308,1227.1 L2113,1249.9 C2051.1,1257.1 2001,1212.9 2001,1151.0 Z" transform="translate(-5,-3)" fill="none" stroke="#1a1a1a" stroke-width="1"/></g>
<clipPath id="clD"><path d="M1997,1417.0 C1997,1355.1 2047.1,1299.0 2109,1291.6 L2308,1267.7 C2369.9,1260.3 2420,1304.4 2420,1366.2 L2420,1627.2 C2420,1689.1 2369.9,1745.3 2308,1752.7 L2109,1776.6 C2047.1,1784.0 1997,1739.9 1997,1678.0 Z"/></clipPath>
<path d="M1997,1417.0 C1997,1355.1 2047.1,1299.0 2109,1291.6 L2308,1267.7 C2369.9,1260.3 2420,1304.4 2420,1366.2 L2420,1627.2 C2420,1689.1 2369.9,1745.3 2308,1752.7 L2109,1776.6 C2047.1,1784.0 1997,1739.9 1997,1678.0 Z" fill="none" stroke="#1a1a1a" stroke-width="1.4" />
<g clip-path="url(#clD)"><path d="M1997,1417.0 C1997,1355.1 2047.1,1299.0 2109,1291.6 L2308,1267.7 C2369.9,1260.3 2420,1304.4 2420,1366.2 L2420,1627.2 C2420,1689.1 2369.9,1745.3 2308,1752.7 L2109,1776.6 C2047.1,1784.0 1997,1739.9 1997,1678.0 Z" transform="translate(-5,-3)" fill="none" stroke="#1a1a1a" stroke-width="1"/></g>
<path d="M1742,524 L1832,514 C1900,508 1943,560 1943,627 C1943,670 1925,700 1906,718 Q1900,724 1900,732 L1900,757" fill="none" stroke="#1a1a1a" stroke-width="1.4" />
<path d="M1832,517 C1896,512 1937,562 1937,627 C1937,668 1920,697 1901,714 Q1894,720 1894,730 L1894,757" fill="none" stroke="#1a1a1a" stroke-width="1" />
<path d="M1930,905 C1918,955 1895,982 1884,987 C1860,1005 1830,1012 1813,1014 L1740,1022" fill="none" stroke="#1a1a1a" stroke-width="1.4" />
<path d="M1925,903 C1913,950 1890,977 1880,982 C1857,999 1828,1006 1811,1008 L1740,1016" fill="none" stroke="#1a1a1a" stroke-width="1" />
<path d="M2040,480 L2040,331 Q2040,321 2050,319.5 L2165,304.5 M2040,480 Q2040,490 2050,488.5 L2165,476 M2040,403 L2165,392.5" fill="none" stroke="#333" stroke-width="1.3" />
<ellipse cx="2063.0" cy="336.0" rx="10.0" ry="11.0" fill="#fff" stroke="#333" stroke-width="1.2" />
<path d="M2063.0,347.0L2063.0,366.0" fill="none" stroke="#333" stroke-width="1.2" />
<ellipse cx="2105.0" cy="332.0" rx="10.0" ry="11.0" fill="#fff" stroke="#333" stroke-width="1.2" />
<path d="M2105.0,343.0L2105.0,362.0" fill="none" stroke="#333" stroke-width="1.2" />
<ellipse cx="2147.0" cy="328.0" rx="10.0" ry="11.0" fill="#fff" stroke="#333" stroke-width="1.2" />
<path d="M2147.0,339.0L2147.0,358.0" fill="none" stroke="#333" stroke-width="1.2" />
<text x="2048.0" y="388.0" font-family="Liberation Sans, sans-serif" font-size="23" fill="#333" text-anchor="start" font-weight="normal" transform="rotate(-6 2048.0 388.0)" textLength="34" lengthAdjust="spacingAndGlyphs">FAN</text>
<text x="2092.0" y="384.0" font-family="Liberation Sans, sans-serif" font-size="23" fill="#333" text-anchor="start" font-weight="normal" transform="rotate(-6 2092.0 384.0)" textLength="31" lengthAdjust="spacingAndGlyphs">FTC</text>
<text x="2137.0" y="379.0" font-family="Liberation Sans, sans-serif" font-size="23" fill="#333" text-anchor="start" font-weight="normal" transform="rotate(-6 2137.0 379.0)" textLength="30" lengthAdjust="spacingAndGlyphs">STS</text>
<text x="2063.0" y="469.0" font-family="Liberation Sans, sans-serif" font-size="31" fill="#333" text-anchor="start" font-weight="normal" transform="rotate(-6 2063.0 469.0)" textLength="118" lengthAdjust="spacingAndGlyphs">JPN10008</text>
<path d="M2072,509 L2165,499.5 M2072,509 L2072,542 L2165,532.5" fill="none" stroke="#333" stroke-width="1.2" />
<path d="M2165,572 L2077,589 Q2065,591 2065,604 L2066,686 Q2066,698 2078,696.5 L2165,688" fill="none" stroke="#333" stroke-width="1.2" />
<text x="2124.0" y="630.0" font-family="Liberation Sans, sans-serif" font-size="29" fill="#333" text-anchor="start" font-weight="normal" transform="rotate(-5 2124.0 630.0)" textLength="84" lengthAdjust="spacingAndGlyphs">DO NOT</text>
<text x="2084.0" y="662.0" font-family="Liberation Sans, sans-serif" font-size="29" fill="#333" text-anchor="start" font-weight="normal" transform="rotate(-5 2084.0 662.0)" textLength="112" lengthAdjust="spacingAndGlyphs">OR LOWER</text>
<text x="2098.0" y="690.0" font-family="Liberation Sans, sans-serif" font-size="29" fill="#333" text-anchor="start" font-weight="normal" transform="rotate(-5 2098.0 690.0)" textLength="100" lengthAdjust="spacingAndGlyphs">TO MOVE</text>
<path d="M1826,763 L1912,754 M1742,850 L1853,837" fill="none" stroke="#111" stroke-width="1.6" /><path d="M2000,733 Q2010,716 2034,713 Q2070,722 2110,726 L2175,727 L2175,803 L2110,801 Q2075,797 2052,791 L2040,760 Z" fill="#fff" stroke="none" stroke-width="0" /><path d="M2000,733 Q2006,718 2020,716 M2000,733 Q2010,716 2034,713 Q2070,722 2110,726 L2170,727 M2052,791 Q2075,797 2110,801 L2170,802.5" fill="none" stroke="#111" stroke-width="1.8" /><path d="M1912,757 Q1916,733 1938,728 Q1946,722 1957,722 L2028,739 Q2054,750 2052,775 Q2050,790 2040,806 L1930,800 Z" fill="#fff" stroke="none" stroke-width="0" /><path d="M1912,757 Q1916,733 1938,728 Q1946,722 1957,722 L2028,739 Q2054,750 2052,775 Q2050,790 2040,806" fill="none" stroke="#111" stroke-width="2.6" /><path d="M1927,752 Q1931,734 1942,727" fill="none" stroke="#111" stroke-width="1" /><path d="M1961,758 Q1975,760 1983,756 L1998,753" fill="none" stroke="#111" stroke-width="0.9" />
<clipPath id="rackclip"><rect x="334" y="0" width="2700" height="2220"/></clipPath>
<g clip-path="url(#rackclip)"><g transform="translate(-702,1066)"><path d="M333.0,373.0 L1174.0,553.0 L1174.0,1137.0 L333.0,952.0Z" fill="#fff" stroke="none" stroke-width="0" />
<path d="M332.6,369 L332.6,952" fill="none" stroke="#4d4d4d" stroke-width="3" />
<path d="M333.0,369.0 L814.0,322.0 L1733.0,506.0 L1428.0,539.0 L1174.0,553.0 L333.0,373.0Z" fill="#fff" stroke="none" stroke-width="0" />
<path d="M333,369 L814,322" fill="none" stroke="#4d4d4d" stroke-width="2.4" />
<path d="M814,322 L1733,506" fill="none" stroke="#4d4d4d" stroke-width="3.6" />
<path d="M333,374 L822,479" fill="none" stroke="#4d4d4d" stroke-width="1.6" />
<path d="M334,702 L770,801 L770,808 L779,806 M334,712 L770,808" fill="none" stroke="#4d4d4d" stroke-width="1.4" />
<path d="M622,481 L627,483 L627,491 Q640,503 655,499 L655,492 L663,494 L668,494 L668,529 L660,527 L660,589 L668,591 L668,627 L660,625 L660,687 L668,689 L668,731 L660,729 L660,721 Q640,726 627,713 L622,712 L622,673 L628,674 L628,611 L622,610 L622,546 L628,547 L628,517 L622,516 Z" fill="#fff" stroke="#4d4d4d" stroke-width="1.3" /><path d="M628,493 L628,713 M655,499 L655,723 M660,497 L660,527 M631,495 L631,714" fill="none" stroke="#4d4d4d" stroke-width="0.8" /><path d="M630,521 l9,1.5 M651,525 l9,1.5" fill="none" stroke="#4d4d4d" stroke-width="1.2" /><path d="M630,556 l9,1.5 M651,560 l9,1.5" fill="none" stroke="#4d4d4d" stroke-width="1.2" /><path d="M630,585 l9,1.5 M651,589 l9,1.5" fill="none" stroke="#4d4d4d" stroke-width="1.2" /><path d="M630,621 l9,1.5 M651,625 l9,1.5" fill="none" stroke="#4d4d4d" stroke-width="1.2" /><path d="M630,647 l9,1.5 M651,651 l9,1.5" fill="none" stroke="#4d4d4d" stroke-width="1.2" /><path d="M630,683 l9,1.5 M651,687 l9,1.5" fill="none" stroke="#4d4d4d" stroke-width="1.2" />
<path d="M622,810 L627,812 L627,820 Q640,832 655,828 L655,821 L663,823 L668,823 L668,858 L660,856 L660,918 L668,920 L668,956 L660,954 L660,1016 L668,1018 L668,1060 L660,1058 L660,1050 Q640,1055 627,1042 L622,1041 L622,1002 L628,1003 L628,940 L622,939 L622,875 L628,876 L628,846 L622,845 Z" fill="#fff" stroke="#4d4d4d" stroke-width="1.3" /><path d="M628,822 L628,1042 M655,828 L655,1052 M660,826 L660,856 M631,824 L631,1043" fill="none" stroke="#4d4d4d" stroke-width="0.8" /><path d="M630,850 l9,1.5 M651,854 l9,1.5" fill="none" stroke="#4d4d4d" stroke-width="1.2" /><path d="M630,885 l9,1.5 M651,889 l9,1.5" fill="none" stroke="#4d4d4d" stroke-width="1.2" /><path d="M630,914 l9,1.5 M651,918 l9,1.5" fill="none" stroke="#4d4d4d" stroke-width="1.2" /><path d="M630,950 l9,1.5 M651,954 l9,1.5" fill="none" stroke="#4d4d4d" stroke-width="1.2" /><path d="M630,976 l9,1.5 M651,980 l9,1.5" fill="none" stroke="#4d4d4d" stroke-width="1.2" /><path d="M630,1012 l9,1.5 M651,1016 l9,1.5" fill="none" stroke="#4d4d4d" stroke-width="1.2" />
<ellipse cx="471.0" cy="705.0" rx="11.5" ry="19.0" fill="#fff" stroke="#4d4d4d" stroke-width="1.1" transform="rotate(-5 471.0 705.0)" />
<ellipse cx="476.0" cy="704.0" rx="5.5" ry="10.0" fill="#fff" stroke="#4d4d4d" stroke-width="1" transform="rotate(-5 476.0 704.0)" />
<path d="M705,421 L717,424 L732.4,411.8 L1055,379.8 L1077.8,399.5 L1087,400 L1076,401.5" fill="none" stroke="#4d4d4d" stroke-width="1.2" />
<path d="M732.4,411.8 L754,432.5 L1074,401 M705,421 L722,423 M746,431 L756,434 L1078,402" fill="none" stroke="#4d4d4d" stroke-width="1.1" />
<path d="M744.6,416.5 L1057,384.5" fill="none" stroke="#4d4d4d" stroke-width="0.7" stroke-dasharray="22 7"/>
<path d="M752,428 L1070,396.5" fill="none" stroke="#4d4d4d" stroke-width="0.7" stroke-dasharray="20 9"/>
<path d="M765.3,409.0 l7,6.5" fill="none" stroke="#4d4d4d" stroke-width="1.2" />
<path d="M778.5,422.5 l7,7.5" fill="none" stroke="#4d4d4d" stroke-width="1.2" />
<path d="M784.5,430.5 l12,-1.2" fill="none" stroke="#4d4d4d" stroke-width="1.6" />
<path d="M795.0,406.1 l7,6.5" fill="none" stroke="#4d4d4d" stroke-width="1.2" />
<path d="M808.0,419.6 l7,7.5" fill="none" stroke="#4d4d4d" stroke-width="1.2" />
<path d="M814.0,427.6 l12,-1.2" fill="none" stroke="#4d4d4d" stroke-width="1.6" />
<path d="M824.7,403.1 l7,6.5" fill="none" stroke="#4d4d4d" stroke-width="1.2" />
<path d="M837.5,416.7 l7,7.5" fill="none" stroke="#4d4d4d" stroke-width="1.2" />
<path d="M843.5,424.7 l12,-1.2" fill="none" stroke="#4d4d4d" stroke-width="1.6" />
<path d="M854.4,400.1 l7,6.5" fill="none" stroke="#4d4d4d" stroke-width="1.2" />
<path d="M867.0,413.8 l7,7.5" fill="none" stroke="#4d4d4d" stroke-width="1.2" />
<path d="M873.0,421.8 l12,-1.2" fill="none" stroke="#4d4d4d" stroke-width="1.6" />
<path d="M884.1,397.2 l7,6.5" fill="none" stroke="#4d4d4d" stroke-width="1.2" />
<path d="M896.5,410.9 l7,7.5" fill="none" stroke="#4d4d4d" stroke-width="1.2" />
<path d="M902.5,418.9 l12,-1.2" fill="none" stroke="#4d4d4d" stroke-width="1.6" />
<path d="M913.8,394.2 l7,6.5" fill="none" stroke="#4d4d4d" stroke-width="1.2" />
<path d="M926.0,408.0 l7,7.5" fill="none" stroke="#4d4d4d" stroke-width="1.2" />
<path d="M932.0,416.0 l12,-1.2" fill="none" stroke="#4d4d4d" stroke-width="1.6" />
<path d="M943.5,391.3 l7,6.5" fill="none" stroke="#4d4d4d" stroke-width="1.2" />
<path d="M955.5,405.1 l7,7.5" fill="none" stroke="#4d4d4d" stroke-width="1.2" />
<path d="M961.5,413.1 l12,-1.2" fill="none" stroke="#4d4d4d" stroke-width="1.6" />
<path d="M973.2,388.4 l7,6.5" fill="none" stroke="#4d4d4d" stroke-width="1.2" />
<path d="M985.0,402.2 l7,7.5" fill="none" stroke="#4d4d4d" stroke-width="1.2" />
<path d="M991.0,410.2 l12,-1.2" fill="none" stroke="#4d4d4d" stroke-width="1.6" />
<path d="M1002.9,385.4 l7,6.5" fill="none" stroke="#4d4d4d" stroke-width="1.2" />
<path d="M1014.5,399.3 l7,7.5" fill="none" stroke="#4d4d4d" stroke-width="1.2" />
<path d="M1020.5,407.3 l12,-1.2" fill="none" stroke="#4d4d4d" stroke-width="1.6" />
<path d="M1032.6,382.4 l7,6.5" fill="none" stroke="#4d4d4d" stroke-width="1.2" />
<path d="M1044.0,396.4 l7,7.5" fill="none" stroke="#4d4d4d" stroke-width="1.2" />
<path d="M1050.0,404.4 l12,-1.2" fill="none" stroke="#4d4d4d" stroke-width="1.6" />
<path d="M730,379 L739,375.5 L756,376 L764,381 L757,386 L738,386 Z" fill="#fff" stroke="#333" stroke-width="1" />
<ellipse cx="747.0" cy="381.0" rx="7.0" ry="2.8" fill="#fff" stroke="#333" stroke-width="1" />
<path d="M1129,462 L1138,458.5 L1155,459 L1163,464 L1156,469 L1137,469 Z" fill="#fff" stroke="#333" stroke-width="1" />
<ellipse cx="1146.0" cy="464.0" rx="7.0" ry="2.8" fill="#fff" stroke="#333" stroke-width="1" />
<path d="M1609,495 L1618,491.5 L1635,492 L1643,497 L1636,502 L1617,502 Z" fill="#fff" stroke="#333" stroke-width="1" />
<ellipse cx="1626.0" cy="497.0" rx="7.0" ry="2.8" fill="#fff" stroke="#333" stroke-width="1" />
<ellipse cx="865.0" cy="460.0" rx="17.0" ry="4.2" fill="#fff" stroke="#555" stroke-width="1" transform="rotate(3 865.0 460.0)" />
<ellipse cx="1067.0" cy="476.0" rx="17.0" ry="4.2" fill="#fff" stroke="#555" stroke-width="1" transform="rotate(3 1067.0 476.0)" />
<ellipse cx="1332.0" cy="509.0" rx="17.0" ry="4.2" fill="#fff" stroke="#555" stroke-width="1" transform="rotate(3 1332.0 509.0)" />
<ellipse cx="1440.0" cy="528.0" rx="17.0" ry="4.2" fill="#fff" stroke="#555" stroke-width="1" transform="rotate(3 1440.0 528.0)" />
<ellipse cx="1335.0" cy="483.0" rx="17.0" ry="4.2" fill="#fff" stroke="#555" stroke-width="1" transform="rotate(3 1335.0 483.0)" />
<ellipse cx="1680.0" cy="503.0" rx="17.0" ry="4.2" fill="#fff" stroke="#555" stroke-width="1" transform="rotate(3 1680.0 503.0)" />
<ellipse cx="1408.0" cy="509.6" rx="5.5" ry="1.9" fill="#fff" stroke="#999" stroke-width="0.8" />
<ellipse cx="1426.0" cy="510.2" rx="5.5" ry="1.9" fill="#fff" stroke="#999" stroke-width="0.8" />
<ellipse cx="1444.0" cy="510.8" rx="5.5" ry="1.9" fill="#fff" stroke="#999" stroke-width="0.8" />
<ellipse cx="1462.0" cy="511.4" rx="5.5" ry="1.9" fill="#fff" stroke="#999" stroke-width="0.8" />
<ellipse cx="1480.0" cy="512.0" rx="5.5" ry="1.9" fill="#fff" stroke="#999" stroke-width="0.8" />
<ellipse cx="1498.0" cy="512.6" rx="5.5" ry="1.9" fill="#fff" stroke="#999" stroke-width="0.8" />
<ellipse cx="1516.0" cy="513.2" rx="5.5" ry="1.9" fill="#fff" stroke="#999" stroke-width="0.8" />
<ellipse cx="1534.0" cy="513.8" rx="5.5" ry="1.9" fill="#fff" stroke="#999" stroke-width="0.8" />
<ellipse cx="1552.0" cy="514.4" rx="5.5" ry="1.9" fill="#fff" stroke="#999" stroke-width="0.8" />
<ellipse cx="1403.0" cy="504.8" rx="5.5" ry="1.9" fill="#fff" stroke="#999" stroke-width="0.8" />
<ellipse cx="1421.0" cy="505.4" rx="5.5" ry="1.9" fill="#fff" stroke="#999" stroke-width="0.8" />
<ellipse cx="1439.0" cy="506.0" rx="5.5" ry="1.9" fill="#fff" stroke="#999" stroke-width="0.8" />
<ellipse cx="1457.0" cy="506.6" rx="5.5" ry="1.9" fill="#fff" stroke="#999" stroke-width="0.8" />
<ellipse cx="1475.0" cy="507.2" rx="5.5" ry="1.9" fill="#fff" stroke="#999" stroke-width="0.8" />
<ellipse cx="1493.0" cy="507.8" rx="5.5" ry="1.9" fill="#fff" stroke="#999" stroke-width="0.8" />
<ellipse cx="1511.0" cy="508.4" rx="5.5" ry="1.9" fill="#fff" stroke="#999" stroke-width="0.8" />
<ellipse cx="1529.0" cy="509.0" rx="5.5" ry="1.9" fill="#fff" stroke="#999" stroke-width="0.8" />
<ellipse cx="1547.0" cy="509.6" rx="5.5" ry="1.9" fill="#fff" stroke="#999" stroke-width="0.8" />
<ellipse cx="1565.0" cy="510.2" rx="5.5" ry="1.9" fill="#fff" stroke="#999" stroke-width="0.8" />
<ellipse cx="1583.0" cy="510.8" rx="5.5" ry="1.9" fill="#fff" stroke="#999" stroke-width="0.8" />
<ellipse cx="1416.0" cy="500.6" rx="5.5" ry="1.9" fill="#fff" stroke="#999" stroke-width="0.8" />
<ellipse cx="1434.0" cy="501.2" rx="5.5" ry="1.9" fill="#fff" stroke="#999" stroke-width="0.8" />
<ellipse cx="1452.0" cy="501.8" rx="5.5" ry="1.9" fill="#fff" stroke="#999" stroke-width="0.8" />
<ellipse cx="1470.0" cy="502.4" rx="5.5" ry="1.9" fill="#fff" stroke="#999" stroke-width="0.8" />
<ellipse cx="1488.0" cy="503.0" rx="5.5" ry="1.9" fill="#fff" stroke="#999" stroke-width="0.8" />
<ellipse cx="1506.0" cy="503.6" rx="5.5" ry="1.9" fill="#fff" stroke="#999" stroke-width="0.8" />
<ellipse cx="1524.0" cy="504.2" rx="5.5" ry="1.9" fill="#fff" stroke="#999" stroke-width="0.8" />
<ellipse cx="1542.0" cy="504.8" rx="5.5" ry="1.9" fill="#fff" stroke="#999" stroke-width="0.8" />
<ellipse cx="1560.0" cy="505.4" rx="5.5" ry="1.9" fill="#fff" stroke="#999" stroke-width="0.8" />
<ellipse cx="1578.0" cy="506.0" rx="5.5" ry="1.9" fill="#fff" stroke="#999" stroke-width="0.8" />
<ellipse cx="1596.0" cy="506.6" rx="5.5" ry="1.9" fill="#fff" stroke="#999" stroke-width="0.8" />
<ellipse cx="1429.0" cy="496.4" rx="5.5" ry="1.9" fill="#fff" stroke="#999" stroke-width="0.8" />
<ellipse cx="1447.0" cy="497.0" rx="5.5" ry="1.9" fill="#fff" stroke="#999" stroke-width="0.8" />
<ellipse cx="1465.0" cy="497.6" rx="5.5" ry="1.9" fill="#fff" stroke="#999" stroke-width="0.8" />
<ellipse cx="1483.0" cy="498.2" rx="5.5" ry="1.9" fill="#fff" stroke="#999" stroke-width="0.8" />
<ellipse cx="1501.0" cy="498.8" rx="5.5" ry="1.9" fill="#fff" stroke="#999" stroke-width="0.8" />
<ellipse cx="1519.0" cy="499.4" rx="5.5" ry="1.9" fill="#fff" stroke="#999" stroke-width="0.8" />
<ellipse cx="1537.0" cy="500.0" rx="5.5" ry="1.9" fill="#fff" stroke="#999" stroke-width="0.8" />
<ellipse cx="1555.0" cy="500.6" rx="5.5" ry="1.9" fill="#fff" stroke="#999" stroke-width="0.8" />
<ellipse cx="1573.0" cy="501.2" rx="5.5" ry="1.9" fill="#fff" stroke="#999" stroke-width="0.8" />
<ellipse cx="1591.0" cy="501.8" rx="5.5" ry="1.9" fill="#fff" stroke="#999" stroke-width="0.8" />
<ellipse cx="1609.0" cy="502.4" rx="5.5" ry="1.9" fill="#fff" stroke="#999" stroke-width="0.8" />
<ellipse cx="1442.0" cy="492.2" rx="5.5" ry="1.9" fill="#fff" stroke="#999" stroke-width="0.8" />
<ellipse cx="1460.0" cy="492.8" rx="5.5" ry="1.9" fill="#fff" stroke="#999" stroke-width="0.8" />
<ellipse cx="1478.0" cy="493.4" rx="5.5" ry="1.9" fill="#fff" stroke="#999" stroke-width="0.8" />
<ellipse cx="1496.0" cy="494.0" rx="5.5" ry="1.9" fill="#fff" stroke="#999" stroke-width="0.8" />
<ellipse cx="1514.0" cy="494.6" rx="5.5" ry="1.9" fill="#fff" stroke="#999" stroke-width="0.8" />
<ellipse cx="1532.0" cy="495.2" rx="5.5" ry="1.9" fill="#fff" stroke="#999" stroke-width="0.8" />
<ellipse cx="1550.0" cy="495.8" rx="5.5" ry="1.9" fill="#fff" stroke="#999" stroke-width="0.8" />
<ellipse cx="1568.0" cy="496.4" rx="5.5" ry="1.9" fill="#fff" stroke="#999" stroke-width="0.8" />
<ellipse cx="1586.0" cy="497.0" rx="5.5" ry="1.9" fill="#fff" stroke="#999" stroke-width="0.8" />
<ellipse cx="1604.0" cy="497.6" rx="5.5" ry="1.9" fill="#fff" stroke="#999" stroke-width="0.8" />
<ellipse cx="1455.0" cy="488.0" rx="5.5" ry="1.9" fill="#fff" stroke="#999" stroke-width="0.8" />
<ellipse cx="1473.0" cy="488.6" rx="5.5" ry="1.9" fill="#fff" stroke="#999" stroke-width="0.8" />
<ellipse cx="1491.0" cy="489.2" rx="5.5" ry="1.9" fill="#fff" stroke="#999" stroke-width="0.8" />
<ellipse cx="1509.0" cy="489.8" rx="5.5" ry="1.9" fill="#fff" stroke="#999" stroke-width="0.8" />
<ellipse cx="1527.0" cy="490.4" rx="5.5" ry="1.9" fill="#fff" stroke="#999" stroke-width="0.8" />
<ellipse cx="1545.0" cy="491.0" rx="5.5" ry="1.9" fill="#fff" stroke="#999" stroke-width="0.8" />
<ellipse cx="1563.0" cy="491.6" rx="5.5" ry="1.9" fill="#fff" stroke="#999" stroke-width="0.8" />
<ellipse cx="1581.0" cy="492.2" rx="5.5" ry="1.9" fill="#fff" stroke="#999" stroke-width="0.8" />
<ellipse cx="1599.0" cy="492.8" rx="5.5" ry="1.9" fill="#fff" stroke="#999" stroke-width="0.8" />
<path d="M779,1045 L779,508 Q779,491 792,491 L822.5,498 L822.5,484" fill="none" stroke="#4d4d4d" stroke-width="1.4" />
<path d="M783,1046 L783,512 Q783,497 795,497.5 L829,505.5" fill="none" stroke="#4d4d4d" stroke-width="1" />
<path d="M823.0,492.0L823.0,1056.0" fill="none" stroke="#4d4d4d" stroke-width="0.8" />
<ellipse cx="801.0" cy="536.0" rx="10.5" ry="19.0" fill="#fff" stroke="#4d4d4d" stroke-width="1" transform="rotate(-5 801.0 536.0)" />
<ellipse cx="805.0" cy="535.0" rx="5.5" ry="11.0" fill="#fff" stroke="#4d4d4d" stroke-width="0.9" transform="rotate(-5 805.0 535.0)" />
<text x="807.6" y="598.7" font-family="Liberation Sans, sans-serif" font-size="18.5" fill="#555" text-anchor="start" font-weight="normal" font-style="italic" transform="rotate(-90 807.6 598.7)" textLength="25" lengthAdjust="spacingAndGlyphs">A0</text>
<text x="819.3" y="602.7" font-family="Liberation Sans, sans-serif" font-size="12.3" fill="#555" text-anchor="start" font-weight="normal" font-style="italic" transform="rotate(-90 819.3 602.7)" textLength="25" lengthAdjust="spacingAndGlyphs">RTN</text>
<text x="807.6" y="713.5" font-family="Liberation Sans, sans-serif" font-size="18.5" fill="#555" text-anchor="start" font-weight="normal" font-style="italic" transform="rotate(-90 807.6 713.5)" textLength="25" lengthAdjust="spacingAndGlyphs">A0</text>
<text x="819.3" y="741.0" font-family="Liberation Sans, sans-serif" font-size="12.3" fill="#555" text-anchor="start" font-weight="normal" font-style="italic" transform="rotate(-90 819.3 741.0)" textLength="67" lengthAdjust="spacingAndGlyphs">-48V/-60V</text>
<text x="807.6" y="829.0" font-family="Liberation Sans, sans-serif" font-size="18.5" fill="#555" text-anchor="start" font-weight="normal" font-style="italic" transform="rotate(-90 807.6 829.0)" textLength="25" lengthAdjust="spacingAndGlyphs">B0</text>
<text x="819.3" y="833.0" font-family="Liberation Sans, sans-serif" font-size="12.3" fill="#555" text-anchor="start" font-weight="normal" font-style="italic" transform="rotate(-90 819.3 833.0)" textLength="25" lengthAdjust="spacingAndGlyphs">RTN</text>
<text x="807.6" y="944.0" font-family="Liberation Sans, sans-serif" font-size="18.5" fill="#555" text-anchor="start" font-weight="normal" font-style="italic" transform="rotate(-90 807.6 944.0)" textLength="25" lengthAdjust="spacingAndGlyphs">B0</text>
<text x="819.3" y="971.5" font-family="Liberation Sans, sans-serif" font-size="12.3" fill="#555" text-anchor="start" font-weight="normal" font-style="italic" transform="rotate(-90 819.3 971.5)" textLength="67" lengthAdjust="spacingAndGlyphs">-48V/-60V</text>
<path d="M830.0,480.0 L1174.0,551.0 L1174.0,1126.0 L830.0,1056.0Z" fill="#fff" stroke="#4d4d4d" stroke-width="1.5" />
<text x="849.0" y="698.5" font-family="Liberation Sans, sans-serif" font-size="20" fill="#555" text-anchor="start" font-weight="normal" font-style="italic" transform="rotate(-90 849.0 698.5)" textLength="89.5" lengthAdjust="spacingAndGlyphs">INPUT A0</text>
<text x="864.0" y="622.0" font-family="Liberation Sans, sans-serif" font-size="14.5" fill="#555" text-anchor="start" font-weight="normal" font-style="italic" transform="rotate(-90 864.0 622.0)" textLength="31" lengthAdjust="spacingAndGlyphs">RTN</text>
<text x="864.0" y="755.0" font-family="Liberation Sans, sans-serif" font-size="14.5" fill="#555" text-anchor="start" font-weight="normal" font-style="italic" transform="rotate(-90 864.0 755.0)" textLength="85" lengthAdjust="spacingAndGlyphs">-48V/-60V</text>
<text x="1150.0" y="764.0" font-family="Liberation Sans, sans-serif" font-size="20" fill="#555" text-anchor="start" font-weight="normal" font-style="italic" transform="rotate(-90 1150.0 764.0)" textLength="90" lengthAdjust="spacingAndGlyphs">INPUT A1</text>
<text x="1164.5" y="685.0" font-family="Liberation Sans, sans-serif" font-size="14.5" fill="#555" text-anchor="start" font-weight="normal" font-style="italic" transform="rotate(-90 1164.5 685.0)" textLength="34" lengthAdjust="spacingAndGlyphs">RTN</text>
<text x="1164.5" y="803.0" font-family="Liberation Sans, sans-serif" font-size="14.5" fill="#555" text-anchor="start" font-weight="normal" font-style="italic" transform="rotate(-90 1164.5 803.0)" textLength="83" lengthAdjust="spacingAndGlyphs">-48V/60V</text>
<text x="849.0" y="928.5" font-family="Liberation Sans, sans-serif" font-size="20" fill="#555" text-anchor="start" font-weight="normal" font-style="italic" transform="rotate(-90 849.0 928.5)" textLength="89.5" lengthAdjust="spacingAndGlyphs">INPUT B0</text>
<text x="864.0" y="852.0" font-family="Liberation Sans, sans-serif" font-size="14.5" fill="#555" text-anchor="start" font-weight="normal" font-style="italic" transform="rotate(-90 864.0 852.0)" textLength="31" lengthAdjust="spacingAndGlyphs">RTN</text>
<text x="864.0" y="985.0" font-family="Liberation Sans, sans-serif" font-size="14.5" fill="#555" text-anchor="start" font-weight="normal" font-style="italic" transform="rotate(-90 864.0 985.0)" textLength="85" lengthAdjust="spacingAndGlyphs">-48V/-60V</text>
<text x="1150.0" y="994.0" font-family="Liberation Sans, sans-serif" font-size="20" fill="#555" text-anchor="start" font-weight="normal" font-style="italic" transform="rotate(-90 1150.0 994.0)" textLength="90" lengthAdjust="spacingAndGlyphs">INPUT B1</text>
<text x="1164.5" y="915.0" font-family="Liberation Sans, sans-serif" font-size="14.5" fill="#555" text-anchor="start" font-weight="normal" font-style="italic" transform="rotate(-90 1164.5 915.0)" textLength="34" lengthAdjust="spacingAndGlyphs">RTN</text>
<text x="1164.5" y="1033.0" font-family="Liberation Sans, sans-serif" font-size="14.5" fill="#555" text-anchor="start" font-weight="normal" font-style="italic" transform="rotate(-90 1164.5 1033.0)" textLength="83" lengthAdjust="spacingAndGlyphs">-48V/60V</text>
<text x="1006.3" y="1052.0" font-family="Liberation Sans, sans-serif" font-size="20" fill="#555" text-anchor="start" font-weight="normal" font-style="italic" transform="rotate(-90 1006.3 1052.0)" textLength="503" lengthAdjust="spacingAndGlyphs">COVER MUST BE IN PLACE WHEN POWER SUPPLY ON</text>
<text x="1058.0" y="965.0" font-family="Liberation Sans, sans-serif" font-size="20" fill="#555" text-anchor="start" font-weight="normal" font-style="italic" transform="rotate(-90 1058.0 965.0)" textLength="72" lengthAdjust="spacingAndGlyphs">POWER</text>
<text x="1058.0" y="823.0" font-family="Liberation Sans, sans-serif" font-size="20" fill="#555" text-anchor="start" font-weight="normal" font-style="italic" transform="rotate(-90 1058.0 823.0)" textLength="80" lengthAdjust="spacingAndGlyphs">TORQUE</text>
<text x="1058.0" y="729.5" font-family="Liberation Sans, sans-serif" font-size="20" fill="#555" text-anchor="start" font-weight="normal" font-style="italic" transform="rotate(-90 1058.0 729.5)" textLength="111" lengthAdjust="spacingAndGlyphs">(M6 NUTS)</text>
<text x="1079.0" y="944.0" font-family="Liberation Sans, sans-serif" font-size="20" fill="#555" text-anchor="start" font-weight="normal" font-style="italic" transform="rotate(-90 1079.0 944.0)" textLength="90" lengthAdjust="spacingAndGlyphs">MINIMUM</text>
<text x="1079.0" y="812.0" font-family="Liberation Sans, sans-serif" font-size="20" fill="#555" text-anchor="start" font-weight="normal" font-style="italic" transform="rotate(-90 1079.0 812.0)" textLength="124" lengthAdjust="spacingAndGlyphs">lb-in(2.6Nm)</text>
<text x="1099.5" y="944.0" font-family="Liberation Sans, sans-serif" font-size="20" fill="#555" text-anchor="start" font-weight="normal" font-style="italic" transform="rotate(-90 1099.5 944.0)" textLength="90" lengthAdjust="spacingAndGlyphs">MAXIMUM</text>
<text x="1099.5" y="812.0" font-family="Liberation Sans, sans-serif" font-size="20" fill="#555" text-anchor="start" font-weight="normal" font-style="italic" transform="rotate(-90 1099.5 812.0)" textLength="124" lengthAdjust="spacingAndGlyphs">lb-in(2.8Nm)</text>
<text x="1119.0" y="931.0" font-family="Liberation Sans, sans-serif" font-size="20" fill="#555" text-anchor="start" font-weight="normal" font-style="italic" transform="rotate(-90 1119.0 931.0)" textLength="62" lengthAdjust="spacingAndGlyphs">INPUT</text>
<text x="1119.0" y="830.0" font-family="Liberation Sans, sans-serif" font-size="20" fill="#555" text-anchor="start" font-weight="normal" font-style="italic" transform="rotate(-90 1119.0 830.0)" textLength="91" lengthAdjust="spacingAndGlyphs">-48V/-60V</text>
<text x="1119.0" y="694.0" font-family="Liberation Sans, sans-serif" font-size="20" fill="#555" text-anchor="start" font-weight="normal" font-style="italic" transform="rotate(-90 1119.0 694.0)" textLength="41" lengthAdjust="spacingAndGlyphs">80A</text>
<path d="M1106,705 L1106,732 M1112,705 l0,7 m0,3 l0,7 m0,3 l0,7" fill="none" stroke="#555" stroke-width="1.6" />
<path d="M823.0,479.0 L948.0,462.0 L1128.0,498.0 L1212.0,490.0 L1426.0,537.0 L1252.0,553.5 L1174.0,550.0 L830.0,480.0Z" fill="#fff" stroke="#4d4d4d" stroke-width="1.5" />
<path d="M830,480 L948,468 L1128,502 L1212,494 L1422,540" fill="none" stroke="#4d4d4d" stroke-width="1.1" />
<path d="M1168.0,627.0 L1428.0,614.0 L1428.0,1121.0 L1168.0,1137.0Z" fill="#fff" stroke="#4d4d4d" stroke-width="1.4" />
<path d="M1179,628 L1179,1136" fill="none" stroke="#4d4d4d" stroke-width="2" />
<path d="M1238.0,624.0L1238.0,1130.0" fill="none" stroke="#4d4d4d" stroke-width="1" />
<path d="M1247.7,624.0L1247.7,1130.0" fill="none" stroke="#4d4d4d" stroke-width="1" />
<path d="M1334.6,618.0L1334.6,1124.0" fill="none" stroke="#333" stroke-width="0.9" />
<path d="M1360.0,618.0L1360.0,1124.0" fill="none" stroke="#333" stroke-width="0.9" />
<path d="M1384.0,618.0L1384.0,1124.0" fill="none" stroke="#333" stroke-width="0.9" />
<ellipse cx="1404.0" cy="679.0" rx="11.0" ry="19.0" fill="#fff" stroke="#4d4d4d" stroke-width="1" transform="rotate(-5 1404.0 679.0)" />
<ellipse cx="1408.0" cy="678.0" rx="5.0" ry="10.0" fill="#fff" stroke="#4d4d4d" stroke-width="0.9" transform="rotate(-5 1408.0 678.0)" />
<text x="1406.0" y="632.5" font-family="Liberation Sans, sans-serif" font-size="20" fill="#555" text-anchor="start" font-weight="normal" font-style="italic" transform="rotate(-90 1406.0 632.5)" textLength="24" lengthAdjust="spacingAndGlyphs">A1</text>
<text x="1421.6" y="636.0" font-family="Liberation Sans, sans-serif" font-size="12.3" fill="#555" text-anchor="start" font-weight="normal" font-style="italic" transform="rotate(-90 1421.6 636.0)" textLength="25" lengthAdjust="spacingAndGlyphs">RTN</text>
<path d="M1185.4,633.2 L1206,678.7 L1197.7,686.4" fill="none" stroke="#4d4d4d" stroke-width="1.3" />
<path d="M1250,633 Q1258,655 1250,678 M1256,632 Q1266,655 1255,680 L1284,668 L1284,634 M1262,636 L1262,672 L1284,668 M1290,630 Q1300,655 1290,684 M1296,630 Q1306,655 1296,686" fill="none" stroke="#222" stroke-width="0.9" />
<path d="M1334.4,624.7 L1334.4,672.9 M1339,624 L1344.2,672" fill="none" stroke="#4d4d4d" stroke-width="1" />
<path d="M1185.4,747.2 L1206,792.7 L1197.7,800.4" fill="none" stroke="#4d4d4d" stroke-width="1.3" />
<path d="M1250,747 Q1258,769 1250,792 M1256,746 Q1266,769 1255,794 L1284,782 L1284,748 M1262,750 L1262,786 L1284,782 M1290,744 Q1300,769 1290,798 M1296,744 Q1306,769 1296,800" fill="none" stroke="#222" stroke-width="0.9" />
<path d="M1334.4,738.7 L1334.4,786.9 M1339,738 L1344.2,786" fill="none" stroke="#4d4d4d" stroke-width="1" />
<path d="M1185.4,858.2 L1206,903.7 L1197.7,911.4" fill="none" stroke="#4d4d4d" stroke-width="1.3" />
<path d="M1250,858 Q1258,880 1250,903 M1256,857 Q1266,880 1255,905 L1284,893 L1284,859 M1262,861 L1262,897 L1284,893 M1290,855 Q1300,880 1290,909 M1296,855 Q1306,880 1296,911" fill="none" stroke="#222" stroke-width="0.9" />
<path d="M1334.4,849.7 L1334.4,897.9 M1339,849 L1344.2,897" fill="none" stroke="#4d4d4d" stroke-width="1" />
<path d="M1185.4,968.2 L1206,1013.7 L1197.7,1021.4" fill="none" stroke="#4d4d4d" stroke-width="1.3" />
<path d="M1250,968 Q1258,990 1250,1013 M1256,967 Q1266,990 1255,1015 L1284,1003 L1284,969 M1262,971 L1262,1007 L1284,1003 M1290,965 Q1300,990 1290,1019 M1296,965 Q1306,990 1296,1021" fill="none" stroke="#222" stroke-width="0.9" />
<path d="M1334.4,959.7 L1334.4,1007.9 M1339,959 L1344.2,1007" fill="none" stroke="#4d4d4d" stroke-width="1" />
<path d="M1252.0,553.5 L1426.0,537.5 L1426.0,614.0 L1252.0,619.0Z" fill="#fff" stroke="#4d4d4d" stroke-width="1.4" />
<path d="M1174.0,550.0 L1208.0,547.0 L1252.0,553.5 L1252.0,619.0 L1174.0,614.0Z" fill="#fff" stroke="#4d4d4d" stroke-width="1.5" />
<path d="M1208,547 L1208,612 L1174,614 M1208,612 L1252,619" fill="none" stroke="#4d4d4d" stroke-width="1" />
<path d="M1174.0,614.0 L1216.0,636.0 L1428.0,623.0 L1428.0,614.0 L1252.0,619.0Z" fill="#fff" stroke="#4d4d4d" stroke-width="1.3" />
<path d="M1174,614 L1174,550" fill="none" stroke="#4d4d4d" stroke-width="1.5" />
<ellipse cx="1229.0" cy="588.0" rx="12.0" ry="20.0" fill="#fff" stroke="#4d4d4d" stroke-width="1" transform="rotate(-5 1229.0 588.0)" />
<ellipse cx="1225.0" cy="587.5" rx="11.0" ry="18.0" fill="#fff" stroke="#4d4d4d" stroke-width="1" transform="rotate(-5 1225.0 587.5)" />
<ellipse cx="1217.0" cy="586.0" rx="11.0" ry="15.5" fill="#fff" stroke="#4d4d4d" stroke-width="1.3" transform="rotate(-5 1217.0 586.0)" />
<path d="M1215,573 l4,0 l0,9 l6,1 l0,6 l-6,-1 l0,10 l-4,-0.5 l0,-9 l-6,-1 l0,-6 l6,1 z" fill="none" stroke="#4d4d4d" stroke-width="0.9" />
<path d="M1172.0,1097.0 L1250.0,1093.0 L1250.0,1129.0 L1172.0,1137.0Z" fill="#fff" stroke="#4d4d4d" stroke-width="1.4" />
<path d="M1206,1095 L1206,1133" fill="none" stroke="#4d4d4d" stroke-width="0.9" />
<ellipse cx="1229.0" cy="1112.0" rx="8.0" ry="13.0" fill="#fff" stroke="#4d4d4d" stroke-width="0.9" transform="rotate(-5 1229.0 1112.0)" />
<ellipse cx="1224.0" cy="1112.0" rx="8.0" ry="13.0" fill="#fff" stroke="#4d4d4d" stroke-width="0.9" transform="rotate(-5 1224.0 1112.0)" />
<ellipse cx="1209.0" cy="1111.5" rx="9.4" ry="13.4" fill="#fff" stroke="#4d4d4d" stroke-width="1.2" transform="rotate(-5 1209.0 1111.5)" />
<path d="M1207,1100 l3.5,0 l0,8 l5,0.8 l0,5 l-5,-0.8 l0,9 l-3.5,-0.4 l0,-8 l-5,-0.8 l0,-5 l5,0.8 z" fill="none" stroke="#4d4d4d" stroke-width="0.8" />
<path d="M1428.0,539.0 L1733.0,508.0 L1735.0,1063.0 L1460.0,1121.0 L1428.0,1121.0Z" fill="#fff" stroke="#4d4d4d" stroke-width="2.2" /><path d="M1442,541 L1442,1118 M1453,560 L1453,1090" fill="none" stroke="#4d4d4d" stroke-width="1.1" /><path d="M1442,549 L1728,518 L1728,1060" fill="none" stroke="#4d4d4d" stroke-width="1.1" /><path d="M1484,1088 L1696,1067 M1453,1092 L1484,1088 M1462,1110 L1496,1108 L1500,1101 L1672,1085" fill="none" stroke="#4d4d4d" stroke-width="1.2" /><use href="#hxg" x="1464.2" y="573.8"/><use href="#hxg" x="1487.9" y="571.4"/><use href="#hxg" x="1476.1" y="597.8"/><use href="#hxg" x="1618.3" y="583.4"/><use href="#hxg" x="1464.2" y="624.2"/><use href="#hxg" x="1487.9" y="621.8"/><use href="#hxg" x="1630.1" y="607.4"/><use href="#hxg" x="1476.1" y="648.2"/><use href="#hxg" x="1618.3" y="633.8"/><use href="#hxg" x="1464.2" y="674.6"/><use href="#hxg" x="1487.9" y="672.2"/><use href="#hxg" x="1511.6" y="669.8"/><use href="#hxg" x="1630.1" y="657.8"/><use href="#hxg" x="1476.1" y="698.6"/><use href="#hxg" x="1499.8" y="696.2"/><use href="#hxg" x="1594.6" y="686.6"/><use href="#hxg" x="1618.3" y="684.2"/><use href="#hxg" x="1642.0" y="681.8"/><use href="#hxg" x="1665.7" y="679.4"/><use href="#hxg" x="1689.4" y="677.0"/><use href="#hxg" x="1464.2" y="725.0"/><use href="#hxg" x="1487.9" y="722.6"/><use href="#hxg" x="1511.6" y="720.2"/><use href="#hxg" x="1606.4" y="710.6"/><use href="#hxg" x="1630.1" y="708.2"/><use href="#hxg" x="1653.8" y="705.8"/><use href="#hxg" x="1677.5" y="703.4"/><use href="#hxg" x="1701.2" y="701.0"/><use href="#hxg" x="1499.8" y="746.6"/><use href="#hxg" x="1618.3" y="734.6"/><use href="#hxg" x="1642.0" y="732.2"/><use href="#hxg" x="1665.7" y="729.8"/><use href="#hxg" x="1689.4" y="727.4"/><use href="#hxg" x="1606.4" y="761.0"/><use href="#hxg" x="1630.1" y="758.6"/><use href="#hxg" x="1653.8" y="756.2"/><use href="#hxg" x="1677.5" y="753.8"/><use href="#hxg" x="1464.2" y="825.8"/><use href="#hxg" x="1476.1" y="849.8"/><use href="#hxg" x="1499.8" y="847.4"/><use href="#hxg" x="1523.5" y="845.0"/><use href="#hxg" x="1547.2" y="842.6"/><use href="#hxg" x="1464.2" y="876.2"/><use href="#hxg" x="1487.9" y="873.8"/><use href="#hxg" x="1511.6" y="871.4"/><use href="#hxg" x="1535.3" y="869.0"/><use href="#hxg" x="1606.4" y="861.8"/><use href="#hxg" x="1630.1" y="859.4"/><use href="#hxg" x="1653.8" y="857.0"/><use href="#hxg" x="1677.5" y="854.6"/><use href="#hxg" x="1701.2" y="852.2"/><use href="#hxg" x="1476.1" y="900.2"/><use href="#hxg" x="1499.8" y="897.8"/><use href="#hxg" x="1523.5" y="895.4"/><use href="#hxg" x="1594.6" y="888.2"/><use href="#hxg" x="1618.3" y="885.8"/><use href="#hxg" x="1642.0" y="883.4"/><use href="#hxg" x="1665.7" y="881.0"/><use href="#hxg" x="1689.4" y="878.6"/><use href="#hxg" x="1464.2" y="926.6"/><use href="#hxg" x="1487.9" y="924.2"/><use href="#hxg" x="1511.6" y="921.8"/><use href="#hxg" x="1535.3" y="919.4"/><use href="#hxg" x="1559.0" y="917.0"/><use href="#hxg" x="1606.4" y="912.2"/><use href="#hxg" x="1630.1" y="909.8"/><use href="#hxg" x="1653.8" y="907.4"/><use href="#hxg" x="1677.5" y="905.0"/><use href="#hxg" x="1701.2" y="902.6"/><use href="#hxg" x="1476.1" y="950.6"/><use href="#hxg" x="1499.8" y="948.2"/><use href="#hxg" x="1523.5" y="945.8"/><use href="#hxg" x="1547.2" y="943.4"/><use href="#hxg" x="1570.9" y="941.0"/><use href="#hxg" x="1594.6" y="938.6"/><use href="#hxg" x="1618.3" y="936.2"/><use href="#hxg" x="1642.0" y="933.8"/><use href="#hxg" x="1665.7" y="931.4"/><use href="#hxg" x="1689.4" y="929.0"/><use href="#hxg" x="1464.2" y="977.0"/><use href="#hxg" x="1487.9" y="974.6"/><use href="#hxg" x="1511.6" y="972.2"/><use href="#hxg" x="1535.3" y="969.8"/><use href="#hxg" x="1559.0" y="967.4"/><use href="#hxg" x="1582.7" y="965.0"/><use href="#hxg" x="1606.4" y="962.6"/><use href="#hxg" x="1630.1" y="960.2"/><use href="#hxg" x="1653.8" y="957.8"/><use href="#hxg" x="1677.5" y="955.4"/><use href="#hxg" x="1701.2" y="953.0"/><use href="#hxg" x="1476.1" y="1001.0"/><use href="#hxg" x="1499.8" y="998.6"/><use href="#hxg" x="1523.5" y="996.2"/><use href="#hxg" x="1547.2" y="993.8"/><use href="#hxg" x="1570.9" y="991.4"/><use href="#hxg" x="1594.6" y="989.0"/><use href="#hxg" x="1618.3" y="986.6"/><use href="#hxg" x="1642.0" y="984.2"/><use href="#hxg" x="1665.7" y="981.8"/><use href="#hxg" x="1689.4" y="979.4"/><use href="#hxg" x="1464.2" y="1027.4"/><use href="#hxg" x="1487.9" y="1025.0"/><use href="#hxg" x="1511.6" y="1022.6"/><use href="#hxg" x="1535.3" y="1020.2"/><use href="#hxg" x="1559.0" y="1017.8"/><use href="#hxg" x="1582.7" y="1015.4"/><use href="#hxg" x="1606.4" y="1013.0"/><use href="#hxg" x="1630.1" y="1010.6"/><use href="#hxg" x="1653.8" y="1008.2"/><use href="#hxg" x="1677.5" y="1005.8"/><use href="#hxg" x="1701.2" y="1003.4"/><use href="#hxRg" x="1452.4" y="600.2"/><use href="#hxLg" x="1499.8" y="595.4"/><use href="#hxRg" x="1452.4" y="650.6"/><use href="#hxLg" x="1499.8" y="645.8"/><use href="#hxRg" x="1452.4" y="701.0"/><use href="#hxLg" x="1713.1" y="725.0"/><use href="#hxRg" x="1452.4" y="852.2"/><use href="#hxRg" x="1452.4" y="902.6"/><use href="#hxLg" x="1713.1" y="876.2"/><use href="#hxRg" x="1452.4" y="953.0"/><use href="#hxLg" x="1713.1" y="926.6"/><use href="#hxRg" x="1452.4" y="1003.4"/><use href="#hxLg" x="1713.1" y="977.0"/><path d="M1531.0,549.0 L1604.0,543.0 L1604.0,643.0 L1531.0,655.0Z" fill="#fff" stroke="#4d4d4d" stroke-width="1.6" /><path d="M1535.0,553.0 L1600.0,548.0 L1600.0,640.0 L1535.0,650.0Z" fill="#fff" stroke="#4d4d4d" stroke-width="1" /><path d="M1545.0,556.0 L1596.0,552.0 L1596.0,636.0 L1545.0,644.0Z" fill="#fff" stroke="#4d4d4d" stroke-width="1" /><path d="M1600,548 L1608,552 L1608,640 L1604,643" fill="none" stroke="#4d4d4d" stroke-width="1" /><path d="M1556.0,559.0 L1584.0,556.5 L1584.0,567.5 L1556.0,570.0Z" fill="#fff" stroke="#4d4d4d" stroke-width="1" /><path d="M1568.0,558.0L1568.0,569.0" fill="none" stroke="#4d4d4d" stroke-width="0.9" /><path d="M1570.5,557.8L1570.5,568.8" fill="none" stroke="#4d4d4d" stroke-width="0.7" /><path d="M1556.0,576.3 L1584.0,573.8 L1584.0,584.8 L1556.0,587.3Z" fill="#fff" stroke="#4d4d4d" stroke-width="1" /><path d="M1568.0,575.3L1568.0,586.3" fill="none" stroke="#4d4d4d" stroke-width="0.9" /><path d="M1570.5,575.1L1570.5,586.1" fill="none" stroke="#4d4d4d" stroke-width="0.7" /><path d="M1556.0,593.6 L1584.0,591.1 L1584.0,602.1 L1556.0,604.6Z" fill="#fff" stroke="#4d4d4d" stroke-width="1" /><path d="M1568.0,592.6L1568.0,603.6" fill="none" stroke="#4d4d4d" stroke-width="0.9" /><path d="M1570.5,592.4L1570.5,603.4" fill="none" stroke="#4d4d4d" stroke-width="0.7" /><path d="M1556.0,610.9 L1584.0,608.4 L1584.0,619.4 L1556.0,621.9Z" fill="#fff" stroke="#4d4d4d" stroke-width="1" /><path d="M1568.0,609.9L1568.0,620.9" fill="none" stroke="#4d4d4d" stroke-width="0.9" /><path d="M1570.5,609.7L1570.5,620.7" fill="none" stroke="#4d4d4d" stroke-width="0.7" /><path d="M1556.0,628.2 L1584.0,625.7 L1584.0,636.7 L1556.0,639.2Z" fill="#fff" stroke="#4d4d4d" stroke-width="1" /><path d="M1568.0,627.2L1568.0,638.2" fill="none" stroke="#4d4d4d" stroke-width="0.9" /><path d="M1570.5,627.0L1570.5,638.0" fill="none" stroke="#4d4d4d" stroke-width="0.7" /><text x="1501.0" y="568.4" font-family="Liberation Sans, sans-serif" font-size="12.8" fill="#111" text-anchor="start" font-weight="normal" transform="rotate(-4 1501.0 568.4)" textLength="22" lengthAdjust="spacingAndGlyphs">80A</text><text x="1506.6" y="586.0" font-family="Liberation Sans, sans-serif" font-size="12.8" fill="#111" text-anchor="start" font-weight="normal" transform="rotate(-4 1506.6 586.0)" textLength="14" lengthAdjust="spacingAndGlyphs">B1</text><text x="1506.6" y="604.0" font-family="Liberation Sans, sans-serif" font-size="12.8" fill="#111" text-anchor="start" font-weight="normal" transform="rotate(-4 1506.6 604.0)" textLength="14" lengthAdjust="spacingAndGlyphs">B0</text><text x="1506.6" y="622.0" font-family="Liberation Sans, sans-serif" font-size="12.8" fill="#111" text-anchor="start" font-weight="normal" transform="rotate(-4 1506.6 622.0)" textLength="14" lengthAdjust="spacingAndGlyphs">A1</text><text x="1506.6" y="638.0" font-family="Liberation Sans, sans-serif" font-size="12.8" fill="#111" text-anchor="start" font-weight="normal" transform="rotate(-4 1506.6 638.0)" textLength="14" lengthAdjust="spacingAndGlyphs">A0</text><text x="1611.5" y="558.5" font-family="Liberation Sans, sans-serif" font-size="12.8" fill="#111" text-anchor="start" font-weight="normal" transform="rotate(-4 1611.5 558.5)" textLength="22.5" lengthAdjust="spacingAndGlyphs">60A</text><path d="M1733,506 L1737,509 L1737,1000" fill="none" stroke="#4d4d4d" stroke-width="2.6" /><path d="M1656,538 L1737,531 Q1745,530.5 1745,538 L1745,654 Q1745,661 1738,662 L1656,669.5 Q1648,670 1648,662 L1648,546 Q1648,539 1656,538 Z" fill="#fff" stroke="#4d4d4d" stroke-width="2.8" /><path d="M1675,545 L1733,541 Q1738.7,541 1738.7,546 L1738.7,652 Q1738.7,657.5 1733,658 L1675,665 Q1668.8,665.5 1668.8,660 L1668.8,551 Q1668.8,545.5 1675,545Z" fill="#fff" stroke="#4d4d4d" stroke-width="1.3" /><path d="M1681,550.5 L1731,546.5 Q1736,546.5 1736,551 L1736,647 Q1736,652 1731,652.5 L1681,660.5 Q1676,661 1676,656 L1676,555 Q1676,550.5 1681,550.5Z" fill="#fff" stroke="#4d4d4d" stroke-width="1.3" /><path d="M1711,548 L1711.5,643.7 M1714.5,548 L1714.5,646 M1677,645.4 L1711.8,643.7 M1714.5,646.3 L1736,651.7 M1677,633 L1709,628.4" fill="none" stroke="#4d4d4d" stroke-width="0.9" /><path d="M1677.0,569.3 L1707.3,567.5 L1716.3,613.2 L1709.0,628.4 L1677.0,633.0Z" fill="#fff" stroke="#4d4d4d" stroke-width="1.4" /><path d="M1677,569.3 L1682.3,618.6 L1716.3,613.2 M1682.3,618.6 L1677,633" fill="none" stroke="#4d4d4d" stroke-width="0.9" /><path d="M1690,573 L1692.5,585" fill="none" stroke="#555" stroke-width="2" /><path d="M1692.5,596 A6,6.3 0 1 0 1701,594.5 M1696.3,590 L1697.5,600" fill="none" stroke="#555" stroke-width="2"/><path d="M1543,661 L1559,669 L1562,691 L1549,705 L1534,697 L1530,675 Z" fill="#fff" stroke="#4d4d4d" stroke-width="1.1" /><ellipse cx="1546.0" cy="683.0" rx="11.5" ry="16.0" fill="#fff" stroke="#4d4d4d" stroke-width="1.1" /><path d="M1558,864 L1574,872 L1577,894 L1564,908 L1549,900 L1545,878 Z" fill="#fff" stroke="#4d4d4d" stroke-width="1.1" /><ellipse cx="1561.0" cy="886.0" rx="11.5" ry="16.0" fill="#fff" stroke="#4d4d4d" stroke-width="1.1" /><path d="M1535,711 L1543,728 L1528,730 Z" fill="none" stroke="#888" stroke-width="1.1" /><path d="M1535.5,716.0L1536.0,724.0" fill="none" stroke="#888" stroke-width="1.2" /><text x="1562.0" y="719.0" font-family="Liberation Sans, sans-serif" font-size="12.5" fill="#111" text-anchor="start" font-weight="normal" font-style="italic" transform="rotate(-6 1562.0 719.0)" textLength="16" lengthAdjust="spacingAndGlyphs">OK</text><ellipse cx="1550.0" cy="737.0" rx="9.5" ry="10.5" fill="#fff" stroke="#4d4d4d" stroke-width="1.2" /><path d="M1543,740 A8,9 0 0 0 1556,743" fill="none" stroke="#4d4d4d" stroke-width="0.8" /><ellipse cx="1585.0" cy="734.0" rx="9.5" ry="10.5" fill="#fff" stroke="#4d4d4d" stroke-width="1.2" /><path d="M1578,737 A8,9 0 0 0 1591,740" fill="none" stroke="#4d4d4d" stroke-width="0.8" /><ellipse cx="1584.0" cy="771.0" rx="9.5" ry="10.5" fill="#fff" stroke="#4d4d4d" stroke-width="1.2" /><ellipse cx="1500.0" cy="1043.0" rx="6.0" ry="9.0" fill="#fff" stroke="#4d4d4d" stroke-width="1.1" /><path d="M1502,1036 Q1506,1043 1502,1051 M1500,1035 Q1503,1043 1500,1052" fill="none" stroke="#4d4d4d" stroke-width="0.7" /><path d="M1452,770 Q1458,757 1474,756.5 C1500,760 1540,771 1580,775 C1610,776 1640,773 1672,769 C1672,752 1686,734 1705,733 L1790,748 Q1826,756 1826,786 Q1826,818 1795,826 L1700,835 Q1600,842 1530,832 Q1495,826 1452,805 Z" fill="#fff" stroke="#4d4d4d" stroke-width="2.6" /><path d="M1674,765 Q1720,763 1776,757.5 Q1780,756 1781,754" fill="none" stroke="#4d4d4d" stroke-width="1" />
<path d="M345,948 L1172,1128" fill="none" stroke="#4d4d4d" stroke-width="1" />
<path d="M333,952 L1172,1137 L1172,1091" fill="none" stroke="#4d4d4d" stroke-width="2.4" />
<path d="M1168,1137 L1428,1121" fill="none" stroke="#4d4d4d" stroke-width="2" /></g></g>
<g transform="translate(-702,1066)"><g transform="translate(0,335)"><ellipse cx="1338.0" cy="698.0" rx="13.0" ry="30.0" fill="#fff" stroke="#4d4d4d" stroke-width="1.6" transform="rotate(-38 1338.0 698.0)" /><path d="M1335,700 L1372,735 C1400,762 1445,800 1445,844 C1445,890 1400,925 1355,937 C1325,944 1298,943 1271,946 L120,1077" fill="none" stroke="#4d4d4d" stroke-width="60" stroke-linecap="butt" stroke-linejoin="round"/><path d="M1335,700 L1372,735 C1400,762 1445,800 1445,844 C1445,890 1400,925 1355,937 C1325,944 1298,943 1271,946 L120,1077" fill="none" stroke="#fff" stroke-width="56.0" stroke-linecap="butt" stroke-linejoin="round"/><ellipse cx="1210.0" cy="705.0" rx="17.0" ry="29.5" fill="#fff" stroke="#4d4d4d" stroke-width="1.2" transform="rotate(-12 1210.0 705.0)" /><path d="M1193.8,631.2 L1218.6,675.5" fill="none" stroke="#4d4d4d" stroke-width="1.2" /><path d="M1178,708.7 L1197.7,732.8" fill="none" stroke="#4d4d4d" stroke-width="2.0" /><path d="M1344.8,622.8 L1359,676" fill="none" stroke="#4d4d4d" stroke-width="2.0" /><path d="M1209,705 L1280,720 C1320,727 1365,745 1383,762 C1398,776 1392,790 1378,796 C1350,808 1310,819 1275,823 L120,957" fill="none" stroke="#4d4d4d" stroke-width="60" stroke-linecap="butt" stroke-linejoin="round"/><path d="M1209,705 L1280,720 C1320,727 1365,745 1383,762 C1398,776 1392,790 1378,796 C1350,808 1310,819 1275,823 L120,957" fill="none" stroke="#fff" stroke-width="56.0" stroke-linecap="butt" stroke-linejoin="round"/><path d="M1272,691.5 Q1262,705 1266,722 Q1269,738 1278,748" fill="none" stroke="#4d4d4d" stroke-width="0.9" /><path d="M1276,692.5 Q1266,706 1270,722 Q1273,738 1282,748" fill="none" stroke="#4d4d4d" stroke-width="0.9" /><path d="M1347,771 Q1354,768 1358,762" fill="none" stroke="#4d4d4d" stroke-width="1.0" /></g><g transform="translate(0,225)"><ellipse cx="1338.0" cy="698.0" rx="13.0" ry="30.0" fill="#fff" stroke="#4d4d4d" stroke-width="1.6" transform="rotate(-38 1338.0 698.0)" /><path d="M1335,700 L1372,735 C1400,762 1445,800 1445,844 C1445,890 1400,925 1355,937 C1325,944 1298,943 1271,946 L120,1077" fill="none" stroke="#4d4d4d" stroke-width="60" stroke-linecap="butt" stroke-linejoin="round"/><path d="M1335,700 L1372,735 C1400,762 1445,800 1445,844 C1445,890 1400,925 1355,937 C1325,944 1298,943 1271,946 L120,1077" fill="none" stroke="#fff" stroke-width="56.0" stroke-linecap="butt" stroke-linejoin="round"/><ellipse cx="1210.0" cy="705.0" rx="17.0" ry="29.5" fill="#fff" stroke="#4d4d4d" stroke-width="1.2" transform="rotate(-12 1210.0 705.0)" /><path d="M1193.8,631.2 L1218.6,675.5" fill="none" stroke="#4d4d4d" stroke-width="1.2" /><path d="M1178,708.7 L1197.7,732.8" fill="none" stroke="#4d4d4d" stroke-width="2.0" /><path d="M1344.8,622.8 L1359,676" fill="none" stroke="#4d4d4d" stroke-width="2.0" /><path d="M1209,705 L1280,720 C1320,727 1365,745 1383,762 C1398,776 1392,790 1378,796 C1350,808 1310,819 1275,823 L120,957" fill="none" stroke="#4d4d4d" stroke-width="60" stroke-linecap="butt" stroke-linejoin="round"/><path d="M1209,705 L1280,720 C1320,727 1365,745 1383,762 C1398,776 1392,790 1378,796 C1350,808 1310,819 1275,823 L120,957" fill="none" stroke="#fff" stroke-width="56.0" stroke-linecap="butt" stroke-linejoin="round"/><path d="M1272,691.5 Q1262,705 1266,722 Q1269,738 1278,748" fill="none" stroke="#4d4d4d" stroke-width="0.9" /><path d="M1276,692.5 Q1266,706 1270,722 Q1273,738 1282,748" fill="none" stroke="#4d4d4d" stroke-width="0.9" /><path d="M1347,771 Q1354,768 1358,762" fill="none" stroke="#4d4d4d" stroke-width="1.0" /></g><g transform="translate(0,114)"><ellipse cx="1338.0" cy="698.0" rx="13.0" ry="30.0" fill="#fff" stroke="#4d4d4d" stroke-width="1.6" transform="rotate(-38 1338.0 698.0)" /><path d="M1335,700 L1372,735 C1400,762 1445,800 1445,844 C1445,890 1400,925 1355,937 C1325,944 1298,943 1271,946 L120,1077" fill="none" stroke="#4d4d4d" stroke-width="60" stroke-linecap="butt" stroke-linejoin="round"/><path d="M1335,700 L1372,735 C1400,762 1445,800 1445,844 C1445,890 1400,925 1355,937 C1325,944 1298,943 1271,946 L120,1077" fill="none" stroke="#fff" stroke-width="56.0" stroke-linecap="butt" stroke-linejoin="round"/><ellipse cx="1210.0" cy="705.0" rx="17.0" ry="29.5" fill="#fff" stroke="#4d4d4d" stroke-width="1.2" transform="rotate(-12 1210.0 705.0)" /><path d="M1193.8,631.2 L1218.6,675.5" fill="none" stroke="#4d4d4d" stroke-width="1.2" /><path d="M1178,708.7 L1197.7,732.8" fill="none" stroke="#4d4d4d" stroke-width="2.0" /><path d="M1344.8,622.8 L1359,676" fill="none" stroke="#4d4d4d" stroke-width="2.0" /><path d="M1209,705 L1280,720 C1320,727 1365,745 1383,762 C1398,776 1392,790 1378,796 C1350,808 1310,819 1275,823 L120,957" fill="none" stroke="#4d4d4d" stroke-width="60" stroke-linecap="butt" stroke-linejoin="round"/><path d="M1209,705 L1280,720 C1320,727 1365,745 1383,762 C1398,776 1392,790 1378,796 C1350,808 1310,819 1275,823 L120,957" fill="none" stroke="#fff" stroke-width="56.0" stroke-linecap="butt" stroke-linejoin="round"/><path d="M1272,691.5 Q1262,705 1266,722 Q1269,738 1278,748" fill="none" stroke="#4d4d4d" stroke-width="0.9" /><path d="M1276,692.5 Q1266,706 1270,722 Q1273,738 1282,748" fill="none" stroke="#4d4d4d" stroke-width="0.9" /><path d="M1347,771 Q1354,768 1358,762" fill="none" stroke="#4d4d4d" stroke-width="1.0" /></g><g transform="translate(0,0)"><ellipse cx="1338.0" cy="698.0" rx="13.0" ry="30.0" fill="#fff" stroke="#4d4d4d" stroke-width="1.6" transform="rotate(-38 1338.0 698.0)" /><path d="M1335,700 L1372,735 C1400,762 1445,800 1445,844 C1445,890 1400,925 1355,937 C1325,944 1298,943 1271,946 L120,1077" fill="none" stroke="#4d4d4d" stroke-width="60" stroke-linecap="butt" stroke-linejoin="round"/><path d="M1335,700 L1372,735 C1400,762 1445,800 1445,844 C1445,890 1400,925 1355,937 C1325,944 1298,943 1271,946 L120,1077" fill="none" stroke="#fff" stroke-width="56.0" stroke-linecap="butt" stroke-linejoin="round"/><ellipse cx="1210.0" cy="705.0" rx="17.0" ry="29.5" fill="#fff" stroke="#4d4d4d" stroke-width="1.2" transform="rotate(-12 1210.0 705.0)" /><path d="M1193.8,631.2 L1218.6,675.5" fill="none" stroke="#4d4d4d" stroke-width="2.0" /><path d="M1178,708.7 L1197.7,732.8" fill="none" stroke="#4d4d4d" stroke-width="2.0" /><path d="M1344.8,622.8 L1359,676" fill="none" stroke="#4d4d4d" stroke-width="2.0" /><path d="M1209,705 L1280,720 C1320,727 1365,745 1383,762 C1398,776 1392,790 1378,796 C1350,808 1310,819 1275,823 L120,957" fill="none" stroke="#4d4d4d" stroke-width="60" stroke-linecap="butt" stroke-linejoin="round"/><path d="M1209,705 L1280,720 C1320,727 1365,745 1383,762 C1398,776 1392,790 1378,796 C1350,808 1310,819 1275,823 L120,957" fill="none" stroke="#fff" stroke-width="56.0" stroke-linecap="butt" stroke-linejoin="round"/><path d="M1272,691.5 Q1262,705 1266,722 Q1269,738 1278,748" fill="none" stroke="#4d4d4d" stroke-width="0.9" /><path d="M1276,692.5 Q1266,706 1270,722 Q1273,738 1282,748" fill="none" stroke="#4d4d4d" stroke-width="0.9" /><path d="M1347,771 Q1354,768 1358,762" fill="none" stroke="#4d4d4d" stroke-width="1.0" /></g></g>
<g clip-path="url(#rackclip)"><g transform="translate(-702,463)"><path d="M333.0,373.0 L1174.0,553.0 L1174.0,1137.0 L333.0,952.0Z" fill="#fff" stroke="none" stroke-width="0" />
<path d="M332.6,369 L332.6,952" fill="none" stroke="#4d4d4d" stroke-width="3" />
<path d="M333.0,369.0 L814.0,322.0 L1733.0,506.0 L1428.0,539.0 L1174.0,553.0 L333.0,373.0Z" fill="#fff" stroke="none" stroke-width="0" />
<path d="M333,369 L814,322" fill="none" stroke="#4d4d4d" stroke-width="2.4" />
<path d="M814,322 L1733,506" fill="none" stroke="#4d4d4d" stroke-width="3.6" />
<path d="M333,374 L822,479" fill="none" stroke="#4d4d4d" stroke-width="1.6" />
<path d="M334,702 L770,801 L770,808 L779,806 M334,712 L770,808" fill="none" stroke="#4d4d4d" stroke-width="1.4" />
<path d="M622,481 L627,483 L627,491 Q640,503 655,499 L655,492 L663,494 L668,494 L668,529 L660,527 L660,589 L668,591 L668,627 L660,625 L660,687 L668,689 L668,731 L660,729 L660,721 Q640,726 627,713 L622,712 L622,673 L628,674 L628,611 L622,610 L622,546 L628,547 L628,517 L622,516 Z" fill="#fff" stroke="#4d4d4d" stroke-width="1.3" /><path d="M628,493 L628,713 M655,499 L655,723 M660,497 L660,527 M631,495 L631,714" fill="none" stroke="#4d4d4d" stroke-width="0.8" /><path d="M630,521 l9,1.5 M651,525 l9,1.5" fill="none" stroke="#4d4d4d" stroke-width="1.2" /><path d="M630,556 l9,1.5 M651,560 l9,1.5" fill="none" stroke="#4d4d4d" stroke-width="1.2" /><path d="M630,585 l9,1.5 M651,589 l9,1.5" fill="none" stroke="#4d4d4d" stroke-width="1.2" /><path d="M630,621 l9,1.5 M651,625 l9,1.5" fill="none" stroke="#4d4d4d" stroke-width="1.2" /><path d="M630,647 l9,1.5 M651,651 l9,1.5" fill="none" stroke="#4d4d4d" stroke-width="1.2" /><path d="M630,683 l9,1.5 M651,687 l9,1.5" fill="none" stroke="#4d4d4d" stroke-width="1.2" />
<path d="M622,810 L627,812 L627,820 Q640,832 655,828 L655,821 L663,823 L668,823 L668,858 L660,856 L660,918 L668,920 L668,956 L660,954 L660,1016 L668,1018 L668,1060 L660,1058 L660,1050 Q640,1055 627,1042 L622,1041 L622,1002 L628,1003 L628,940 L622,939 L622,875 L628,876 L628,846 L622,845 Z" fill="#fff" stroke="#4d4d4d" stroke-width="1.3" /><path d="M628,822 L628,1042 M655,828 L655,1052 M660,826 L660,856 M631,824 L631,1043" fill="none" stroke="#4d4d4d" stroke-width="0.8" /><path d="M630,850 l9,1.5 M651,854 l9,1.5" fill="none" stroke="#4d4d4d" stroke-width="1.2" /><path d="M630,885 l9,1.5 M651,889 l9,1.5" fill="none" stroke="#4d4d4d" stroke-width="1.2" /><path d="M630,914 l9,1.5 M651,918 l9,1.5" fill="none" stroke="#4d4d4d" stroke-width="1.2" /><path d="M630,950 l9,1.5 M651,954 l9,1.5" fill="none" stroke="#4d4d4d" stroke-width="1.2" /><path d="M630,976 l9,1.5 M651,980 l9,1.5" fill="none" stroke="#4d4d4d" stroke-width="1.2" /><path d="M630,1012 l9,1.5 M651,1016 l9,1.5" fill="none" stroke="#4d4d4d" stroke-width="1.2" />
<ellipse cx="471.0" cy="705.0" rx="11.5" ry="19.0" fill="#fff" stroke="#4d4d4d" stroke-width="1.1" transform="rotate(-5 471.0 705.0)" />
<ellipse cx="476.0" cy="704.0" rx="5.5" ry="10.0" fill="#fff" stroke="#4d4d4d" stroke-width="1" transform="rotate(-5 476.0 704.0)" />
<path d="M705,421 L717,424 L732.4,411.8 L1055,379.8 L1077.8,399.5 L1087,400 L1076,401.5" fill="none" stroke="#4d4d4d" stroke-width="1.2" />
<path d="M732.4,411.8 L754,432.5 L1074,401 M705,421 L722,423 M746,431 L756,434 L1078,402" fill="none" stroke="#4d4d4d" stroke-width="1.1" />
<path d="M744.6,416.5 L1057,384.5" fill="none" stroke="#4d4d4d" stroke-width="0.7" stroke-dasharray="22 7"/>
<path d="M752,428 L1070,396.5" fill="none" stroke="#4d4d4d" stroke-width="0.7" stroke-dasharray="20 9"/>
<path d="M765.3,409.0 l7,6.5" fill="none" stroke="#4d4d4d" stroke-width="1.2" />
<path d="M778.5,422.5 l7,7.5" fill="none" stroke="#4d4d4d" stroke-width="1.2" />
<path d="M784.5,430.5 l12,-1.2" fill="none" stroke="#4d4d4d" stroke-width="1.6" />
<path d="M795.0,406.1 l7,6.5" fill="none" stroke="#4d4d4d" stroke-width="1.2" />
<path d="M808.0,419.6 l7,7.5" fill="none" stroke="#4d4d4d" stroke-width="1.2" />
<path d="M814.0,427.6 l12,-1.2" fill="none" stroke="#4d4d4d" stroke-width="1.6" />
<path d="M824.7,403.1 l7,6.5" fill="none" stroke="#4d4d4d" stroke-width="1.2" />
<path d="M837.5,416.7 l7,7.5" fill="none" stroke="#4d4d4d" stroke-width="1.2" />
<path d="M843.5,424.7 l12,-1.2" fill="none" stroke="#4d4d4d" stroke-width="1.6" />
<path d="M854.4,400.1 l7,6.5" fill="none" stroke="#4d4d4d" stroke-width="1.2" />
<path d="M867.0,413.8 l7,7.5" fill="none" stroke="#4d4d4d" stroke-width="1.2" />
<path d="M873.0,421.8 l12,-1.2" fill="none" stroke="#4d4d4d" stroke-width="1.6" />
<path d="M884.1,397.2 l7,6.5" fill="none" stroke="#4d4d4d" stroke-width="1.2" />
<path d="M896.5,410.9 l7,7.5" fill="none" stroke="#4d4d4d" stroke-width="1.2" />
<path d="M902.5,418.9 l12,-1.2" fill="none" stroke="#4d4d4d" stroke-width="1.6" />
<path d="M913.8,394.2 l7,6.5" fill="none" stroke="#4d4d4d" stroke-width="1.2" />
<path d="M926.0,408.0 l7,7.5" fill="none" stroke="#4d4d4d" stroke-width="1.2" />
<path d="M932.0,416.0 l12,-1.2" fill="none" stroke="#4d4d4d" stroke-width="1.6" />
<path d="M943.5,391.3 l7,6.5" fill="none" stroke="#4d4d4d" stroke-width="1.2" />
<path d="M955.5,405.1 l7,7.5" fill="none" stroke="#4d4d4d" stroke-width="1.2" />
<path d="M961.5,413.1 l12,-1.2" fill="none" stroke="#4d4d4d" stroke-width="1.6" />
<path d="M973.2,388.4 l7,6.5" fill="none" stroke="#4d4d4d" stroke-width="1.2" />
<path d="M985.0,402.2 l7,7.5" fill="none" stroke="#4d4d4d" stroke-width="1.2" />
<path d="M991.0,410.2 l12,-1.2" fill="none" stroke="#4d4d4d" stroke-width="1.6" />
<path d="M1002.9,385.4 l7,6.5" fill="none" stroke="#4d4d4d" stroke-width="1.2" />
<path d="M1014.5,399.3 l7,7.5" fill="none" stroke="#4d4d4d" stroke-width="1.2" />
<path d="M1020.5,407.3 l12,-1.2" fill="none" stroke="#4d4d4d" stroke-width="1.6" />
<path d="M1032.6,382.4 l7,6.5" fill="none" stroke="#4d4d4d" stroke-width="1.2" />
<path d="M1044.0,396.4 l7,7.5" fill="none" stroke="#4d4d4d" stroke-width="1.2" />
<path d="M1050.0,404.4 l12,-1.2" fill="none" stroke="#4d4d4d" stroke-width="1.6" />
<path d="M730,379 L739,375.5 L756,376 L764,381 L757,386 L738,386 Z" fill="#fff" stroke="#333" stroke-width="1" />
<ellipse cx="747.0" cy="381.0" rx="7.0" ry="2.8" fill="#fff" stroke="#333" stroke-width="1" />
<path d="M1129,462 L1138,458.5 L1155,459 L1163,464 L1156,469 L1137,469 Z" fill="#fff" stroke="#333" stroke-width="1" />
<ellipse cx="1146.0" cy="464.0" rx="7.0" ry="2.8" fill="#fff" stroke="#333" stroke-width="1" />
<path d="M1609,495 L1618,491.5 L1635,492 L1643,497 L1636,502 L1617,502 Z" fill="#fff" stroke="#333" stroke-width="1" />
<ellipse cx="1626.0" cy="497.0" rx="7.0" ry="2.8" fill="#fff" stroke="#333" stroke-width="1" />
<ellipse cx="865.0" cy="460.0" rx="17.0" ry="4.2" fill="#fff" stroke="#555" stroke-width="1" transform="rotate(3 865.0 460.0)" />
<ellipse cx="1067.0" cy="476.0" rx="17.0" ry="4.2" fill="#fff" stroke="#555" stroke-width="1" transform="rotate(3 1067.0 476.0)" />
<ellipse cx="1332.0" cy="509.0" rx="17.0" ry="4.2" fill="#fff" stroke="#555" stroke-width="1" transform="rotate(3 1332.0 509.0)" />
<ellipse cx="1440.0" cy="528.0" rx="17.0" ry="4.2" fill="#fff" stroke="#555" stroke-width="1" transform="rotate(3 1440.0 528.0)" />
<ellipse cx="1335.0" cy="483.0" rx="17.0" ry="4.2" fill="#fff" stroke="#555" stroke-width="1" transform="rotate(3 1335.0 483.0)" />
<ellipse cx="1680.0" cy="503.0" rx="17.0" ry="4.2" fill="#fff" stroke="#555" stroke-width="1" transform="rotate(3 1680.0 503.0)" />
<ellipse cx="1408.0" cy="509.6" rx="5.5" ry="1.9" fill="#fff" stroke="#999" stroke-width="0.8" />
<ellipse cx="1426.0" cy="510.2" rx="5.5" ry="1.9" fill="#fff" stroke="#999" stroke-width="0.8" />
<ellipse cx="1444.0" cy="510.8" rx="5.5" ry="1.9" fill="#fff" stroke="#999" stroke-width="0.8" />
<ellipse cx="1462.0" cy="511.4" rx="5.5" ry="1.9" fill="#fff" stroke="#999" stroke-width="0.8" />
<ellipse cx="1480.0" cy="512.0" rx="5.5" ry="1.9" fill="#fff" stroke="#999" stroke-width="0.8" />
<ellipse cx="1498.0" cy="512.6" rx="5.5" ry="1.9" fill="#fff" stroke="#999" stroke-width="0.8" />
<ellipse cx="1516.0" cy="513.2" rx="5.5" ry="1.9" fill="#fff" stroke="#999" stroke-width="0.8" />
<ellipse cx="1534.0" cy="513.8" rx="5.5" ry="1.9" fill="#fff" stroke="#999" stroke-width="0.8" />
<ellipse cx="1552.0" cy="514.4" rx="5.5" ry="1.9" fill="#fff" stroke="#999" stroke-width="0.8" />
<ellipse cx="1403.0" cy="504.8" rx="5.5" ry="1.9" fill="#fff" stroke="#999" stroke-width="0.8" />
<ellipse cx="1421.0" cy="505.4" rx="5.5" ry="1.9" fill="#fff" stroke="#999" stroke-width="0.8" />
<ellipse cx="1439.0" cy="506.0" rx="5.5" ry="1.9" fill="#fff" stroke="#999" stroke-width="0.8" />
<ellipse cx="1457.0" cy="506.6" rx="5.5" ry="1.9" fill="#fff" stroke="#999" stroke-width="0.8" />
<ellipse cx="1475.0" cy="507.2" rx="5.5" ry="1.9" fill="#fff" stroke="#999" stroke-width="0.8" />
<ellipse cx="1493.0" cy="507.8" rx="5.5" ry="1.9" fill="#fff" stroke="#999" stroke-width="0.8" />
<ellipse cx="1511.0" cy="508.4" rx="5.5" ry="1.9" fill="#fff" stroke="#999" stroke-width="0.8" />
<ellipse cx="1529.0" cy="509.0" rx="5.5" ry="1.9" fill="#fff" stroke="#999" stroke-width="0.8" />
<ellipse cx="1547.0" cy="509.6" rx="5.5" ry="1.9" fill="#fff" stroke="#999" stroke-width="0.8" />
<ellipse cx="1565.0" cy="510.2" rx="5.5" ry="1.9" fill="#fff" stroke="#999" stroke-width="0.8" />
<ellipse cx="1583.0" cy="510.8" rx="5.5" ry="1.9" fill="#fff" stroke="#999" stroke-width="0.8" />
<ellipse cx="1416.0" cy="500.6" rx="5.5" ry="1.9" fill="#fff" stroke="#999" stroke-width="0.8" />
<ellipse cx="1434.0" cy="501.2" rx="5.5" ry="1.9" fill="#fff" stroke="#999" stroke-width="0.8" />
<ellipse cx="1452.0" cy="501.8" rx="5.5" ry="1.9" fill="#fff" stroke="#999" stroke-width="0.8" />
<ellipse cx="1470.0" cy="502.4" rx="5.5" ry="1.9" fill="#fff" stroke="#999" stroke-width="0.8" />
<ellipse cx="1488.0" cy="503.0" rx="5.5" ry="1.9" fill="#fff" stroke="#999" stroke-width="0.8" />
<ellipse cx="1506.0" cy="503.6" rx="5.5" ry="1.9" fill="#fff" stroke="#999" stroke-width="0.8" />
<ellipse cx="1524.0" cy="504.2" rx="5.5" ry="1.9" fill="#fff" stroke="#999" stroke-width="0.8" />
<ellipse cx="1542.0" cy="504.8" rx="5.5" ry="1.9" fill="#fff" stroke="#999" stroke-width="0.8" />
<ellipse cx="1560.0" cy="505.4" rx="5.5" ry="1.9" fill="#fff" stroke="#999" stroke-width="0.8" />
<ellipse cx="1578.0" cy="506.0" rx="5.5" ry="1.9" fill="#fff" stroke="#999" stroke-width="0.8" />
<ellipse cx="1596.0" cy="506.6" rx="5.5" ry="1.9" fill="#fff" stroke="#999" stroke-width="0.8" />
<ellipse cx="1429.0" cy="496.4" rx="5.5" ry="1.9" fill="#fff" stroke="#999" stroke-width="0.8" />
<ellipse cx="1447.0" cy="497.0" rx="5.5" ry="1.9" fill="#fff" stroke="#999" stroke-width="0.8" />
<ellipse cx="1465.0" cy="497.6" rx="5.5" ry="1.9" fill="#fff" stroke="#999" stroke-width="0.8" />
<ellipse cx="1483.0" cy="498.2" rx="5.5" ry="1.9" fill="#fff" stroke="#999" stroke-width="0.8" />
<ellipse cx="1501.0" cy="498.8" rx="5.5" ry="1.9" fill="#fff" stroke="#999" stroke-width="0.8" />
<ellipse cx="1519.0" cy="499.4" rx="5.5" ry="1.9" fill="#fff" stroke="#999" stroke-width="0.8" />
<ellipse cx="1537.0" cy="500.0" rx="5.5" ry="1.9" fill="#fff" stroke="#999" stroke-width="0.8" />
<ellipse cx="1555.0" cy="500.6" rx="5.5" ry="1.9" fill="#fff" stroke="#999" stroke-width="0.8" />
<ellipse cx="1573.0" cy="501.2" rx="5.5" ry="1.9" fill="#fff" stroke="#999" stroke-width="0.8" />
<ellipse cx="1591.0" cy="501.8" rx="5.5" ry="1.9" fill="#fff" stroke="#999" stroke-width="0.8" />
<ellipse cx="1609.0" cy="502.4" rx="5.5" ry="1.9" fill="#fff" stroke="#999" stroke-width="0.8" />
<ellipse cx="1442.0" cy="492.2" rx="5.5" ry="1.9" fill="#fff" stroke="#999" stroke-width="0.8" />
<ellipse cx="1460.0" cy="492.8" rx="5.5" ry="1.9" fill="#fff" stroke="#999" stroke-width="0.8" />
<ellipse cx="1478.0" cy="493.4" rx="5.5" ry="1.9" fill="#fff" stroke="#999" stroke-width="0.8" />
<ellipse cx="1496.0" cy="494.0" rx="5.5" ry="1.9" fill="#fff" stroke="#999" stroke-width="0.8" />
<ellipse cx="1514.0" cy="494.6" rx="5.5" ry="1.9" fill="#fff" stroke="#999" stroke-width="0.8" />
<ellipse cx="1532.0" cy="495.2" rx="5.5" ry="1.9" fill="#fff" stroke="#999" stroke-width="0.8" />
<ellipse cx="1550.0" cy="495.8" rx="5.5" ry="1.9" fill="#fff" stroke="#999" stroke-width="0.8" />
<ellipse cx="1568.0" cy="496.4" rx="5.5" ry="1.9" fill="#fff" stroke="#999" stroke-width="0.8" />
<ellipse cx="1586.0" cy="497.0" rx="5.5" ry="1.9" fill="#fff" stroke="#999" stroke-width="0.8" />
<ellipse cx="1604.0" cy="497.6" rx="5.5" ry="1.9" fill="#fff" stroke="#999" stroke-width="0.8" />
<ellipse cx="1455.0" cy="488.0" rx="5.5" ry="1.9" fill="#fff" stroke="#999" stroke-width="0.8" />
<ellipse cx="1473.0" cy="488.6" rx="5.5" ry="1.9" fill="#fff" stroke="#999" stroke-width="0.8" />
<ellipse cx="1491.0" cy="489.2" rx="5.5" ry="1.9" fill="#fff" stroke="#999" stroke-width="0.8" />
<ellipse cx="1509.0" cy="489.8" rx="5.5" ry="1.9" fill="#fff" stroke="#999" stroke-width="0.8" />
<ellipse cx="1527.0" cy="490.4" rx="5.5" ry="1.9" fill="#fff" stroke="#999" stroke-width="0.8" />
<ellipse cx="1545.0" cy="491.0" rx="5.5" ry="1.9" fill="#fff" stroke="#999" stroke-width="0.8" />
<ellipse cx="1563.0" cy="491.6" rx="5.5" ry="1.9" fill="#fff" stroke="#999" stroke-width="0.8" />
<ellipse cx="1581.0" cy="492.2" rx="5.5" ry="1.9" fill="#fff" stroke="#999" stroke-width="0.8" />
<ellipse cx="1599.0" cy="492.8" rx="5.5" ry="1.9" fill="#fff" stroke="#999" stroke-width="0.8" />
<path d="M779,1045 L779,508 Q779,491 792,491 L822.5,498 L822.5,484" fill="none" stroke="#4d4d4d" stroke-width="1.4" />
<path d="M783,1046 L783,512 Q783,497 795,497.5 L829,505.5" fill="none" stroke="#4d4d4d" stroke-width="1" />
<path d="M823.0,492.0L823.0,1056.0" fill="none" stroke="#4d4d4d" stroke-width="0.8" />
<ellipse cx="801.0" cy="536.0" rx="10.5" ry="19.0" fill="#fff" stroke="#4d4d4d" stroke-width="1" transform="rotate(-5 801.0 536.0)" />
<ellipse cx="805.0" cy="535.0" rx="5.5" ry="11.0" fill="#fff" stroke="#4d4d4d" stroke-width="0.9" transform="rotate(-5 805.0 535.0)" />
<text x="807.6" y="598.7" font-family="Liberation Sans, sans-serif" font-size="18.5" fill="#555" text-anchor="start" font-weight="normal" font-style="italic" transform="rotate(-90 807.6 598.7)" textLength="25" lengthAdjust="spacingAndGlyphs">A0</text>
<text x="819.3" y="602.7" font-family="Liberation Sans, sans-serif" font-size="12.3" fill="#555" text-anchor="start" font-weight="normal" font-style="italic" transform="rotate(-90 819.3 602.7)" textLength="25" lengthAdjust="spacingAndGlyphs">RTN</text>
<text x="807.6" y="713.5" font-family="Liberation Sans, sans-serif" font-size="18.5" fill="#555" text-anchor="start" font-weight="normal" font-style="italic" transform="rotate(-90 807.6 713.5)" textLength="25" lengthAdjust="spacingAndGlyphs">A0</text>
<text x="819.3" y="741.0" font-family="Liberation Sans, sans-serif" font-size="12.3" fill="#555" text-anchor="start" font-weight="normal" font-style="italic" transform="rotate(-90 819.3 741.0)" textLength="67" lengthAdjust="spacingAndGlyphs">-48V/-60V</text>
<text x="807.6" y="829.0" font-family="Liberation Sans, sans-serif" font-size="18.5" fill="#555" text-anchor="start" font-weight="normal" font-style="italic" transform="rotate(-90 807.6 829.0)" textLength="25" lengthAdjust="spacingAndGlyphs">B0</text>
<text x="819.3" y="833.0" font-family="Liberation Sans, sans-serif" font-size="12.3" fill="#555" text-anchor="start" font-weight="normal" font-style="italic" transform="rotate(-90 819.3 833.0)" textLength="25" lengthAdjust="spacingAndGlyphs">RTN</text>
<text x="807.6" y="944.0" font-family="Liberation Sans, sans-serif" font-size="18.5" fill="#555" text-anchor="start" font-weight="normal" font-style="italic" transform="rotate(-90 807.6 944.0)" textLength="25" lengthAdjust="spacingAndGlyphs">B0</text>
<text x="819.3" y="971.5" font-family="Liberation Sans, sans-serif" font-size="12.3" fill="#555" text-anchor="start" font-weight="normal" font-style="italic" transform="rotate(-90 819.3 971.5)" textLength="67" lengthAdjust="spacingAndGlyphs">-48V/-60V</text>
<path d="M830.0,480.0 L1174.0,551.0 L1174.0,1126.0 L830.0,1056.0Z" fill="#fff" stroke="#4d4d4d" stroke-width="1.5" />
<text x="849.0" y="698.5" font-family="Liberation Sans, sans-serif" font-size="20" fill="#555" text-anchor="start" font-weight="normal" font-style="italic" transform="rotate(-90 849.0 698.5)" textLength="89.5" lengthAdjust="spacingAndGlyphs">INPUT A0</text>
<text x="864.0" y="622.0" font-family="Liberation Sans, sans-serif" font-size="14.5" fill="#555" text-anchor="start" font-weight="normal" font-style="italic" transform="rotate(-90 864.0 622.0)" textLength="31" lengthAdjust="spacingAndGlyphs">RTN</text>
<text x="864.0" y="755.0" font-family="Liberation Sans, sans-serif" font-size="14.5" fill="#555" text-anchor="start" font-weight="normal" font-style="italic" transform="rotate(-90 864.0 755.0)" textLength="85" lengthAdjust="spacingAndGlyphs">-48V/-60V</text>
<text x="1150.0" y="764.0" font-family="Liberation Sans, sans-serif" font-size="20" fill="#555" text-anchor="start" font-weight="normal" font-style="italic" transform="rotate(-90 1150.0 764.0)" textLength="90" lengthAdjust="spacingAndGlyphs">INPUT A1</text>
<text x="1164.5" y="685.0" font-family="Liberation Sans, sans-serif" font-size="14.5" fill="#555" text-anchor="start" font-weight="normal" font-style="italic" transform="rotate(-90 1164.5 685.0)" textLength="34" lengthAdjust="spacingAndGlyphs">RTN</text>
<text x="1164.5" y="803.0" font-family="Liberation Sans, sans-serif" font-size="14.5" fill="#555" text-anchor="start" font-weight="normal" font-style="italic" transform="rotate(-90 1164.5 803.0)" textLength="83" lengthAdjust="spacingAndGlyphs">-48V/60V</text>
<text x="849.0" y="928.5" font-family="Liberation Sans, sans-serif" font-size="20" fill="#555" text-anchor="start" font-weight="normal" font-style="italic" transform="rotate(-90 849.0 928.5)" textLength="89.5" lengthAdjust="spacingAndGlyphs">INPUT B0</text>
<text x="864.0" y="852.0" font-family="Liberation Sans, sans-serif" font-size="14.5" fill="#555" text-anchor="start" font-weight="normal" font-style="italic" transform="rotate(-90 864.0 852.0)" textLength="31" lengthAdjust="spacingAndGlyphs">RTN</text>
<text x="864.0" y="985.0" font-family="Liberation Sans, sans-serif" font-size="14.5" fill="#555" text-anchor="start" font-weight="normal" font-style="italic" transform="rotate(-90 864.0 985.0)" textLength="85" lengthAdjust="spacingAndGlyphs">-48V/-60V</text>
<text x="1150.0" y="994.0" font-family="Liberation Sans, sans-serif" font-size="20" fill="#555" text-anchor="start" font-weight="normal" font-style="italic" transform="rotate(-90 1150.0 994.0)" textLength="90" lengthAdjust="spacingAndGlyphs">INPUT B1</text>
<text x="1164.5" y="915.0" font-family="Liberation Sans, sans-serif" font-size="14.5" fill="#555" text-anchor="start" font-weight="normal" font-style="italic" transform="rotate(-90 1164.5 915.0)" textLength="34" lengthAdjust="spacingAndGlyphs">RTN</text>
<text x="1164.5" y="1033.0" font-family="Liberation Sans, sans-serif" font-size="14.5" fill="#555" text-anchor="start" font-weight="normal" font-style="italic" transform="rotate(-90 1164.5 1033.0)" textLength="83" lengthAdjust="spacingAndGlyphs">-48V/60V</text>
<text x="1006.3" y="1052.0" font-family="Liberation Sans, sans-serif" font-size="20" fill="#555" text-anchor="start" font-weight="normal" font-style="italic" transform="rotate(-90 1006.3 1052.0)" textLength="503" lengthAdjust="spacingAndGlyphs">COVER MUST BE IN PLACE WHEN POWER SUPPLY ON</text>
<text x="1058.0" y="965.0" font-family="Liberation Sans, sans-serif" font-size="20" fill="#555" text-anchor="start" font-weight="normal" font-style="italic" transform="rotate(-90 1058.0 965.0)" textLength="72" lengthAdjust="spacingAndGlyphs">POWER</text>
<text x="1058.0" y="823.0" font-family="Liberation Sans, sans-serif" font-size="20" fill="#555" text-anchor="start" font-weight="normal" font-style="italic" transform="rotate(-90 1058.0 823.0)" textLength="80" lengthAdjust="spacingAndGlyphs">TORQUE</text>
<text x="1058.0" y="729.5" font-family="Liberation Sans, sans-serif" font-size="20" fill="#555" text-anchor="start" font-weight="normal" font-style="italic" transform="rotate(-90 1058.0 729.5)" textLength="111" lengthAdjust="spacingAndGlyphs">(M6 NUTS)</text>
<text x="1079.0" y="944.0" font-family="Liberation Sans, sans-serif" font-size="20" fill="#555" text-anchor="start" font-weight="normal" font-style="italic" transform="rotate(-90 1079.0 944.0)" textLength="90" lengthAdjust="spacingAndGlyphs">MINIMUM</text>
<text x="1079.0" y="812.0" font-family="Liberation Sans, sans-serif" font-size="20" fill="#555" text-anchor="start" font-weight="normal" font-style="italic" transform="rotate(-90 1079.0 812.0)" textLength="124" lengthAdjust="spacingAndGlyphs">lb-in(2.6Nm)</text>
<text x="1099.5" y="944.0" font-family="Liberation Sans, sans-serif" font-size="20" fill="#555" text-anchor="start" font-weight="normal" font-style="italic" transform="rotate(-90 1099.5 944.0)" textLength="90" lengthAdjust="spacingAndGlyphs">MAXIMUM</text>
<text x="1099.5" y="812.0" font-family="Liberation Sans, sans-serif" font-size="20" fill="#555" text-anchor="start" font-weight="normal" font-style="italic" transform="rotate(-90 1099.5 812.0)" textLength="124" lengthAdjust="spacingAndGlyphs">lb-in(2.8Nm)</text>
<text x="1119.0" y="931.0" font-family="Liberation Sans, sans-serif" font-size="20" fill="#555" text-anchor="start" font-weight="normal" font-style="italic" transform="rotate(-90 1119.0 931.0)" textLength="62" lengthAdjust="spacingAndGlyphs">INPUT</text>
<text x="1119.0" y="830.0" font-family="Liberation Sans, sans-serif" font-size="20" fill="#555" text-anchor="start" font-weight="normal" font-style="italic" transform="rotate(-90 1119.0 830.0)" textLength="91" lengthAdjust="spacingAndGlyphs">-48V/-60V</text>
<text x="1119.0" y="694.0" font-family="Liberation Sans, sans-serif" font-size="20" fill="#555" text-anchor="start" font-weight="normal" font-style="italic" transform="rotate(-90 1119.0 694.0)" textLength="41" lengthAdjust="spacingAndGlyphs">80A</text>
<path d="M1106,705 L1106,732 M1112,705 l0,7 m0,3 l0,7 m0,3 l0,7" fill="none" stroke="#555" stroke-width="1.6" />
<path d="M823.0,479.0 L948.0,462.0 L1128.0,498.0 L1212.0,490.0 L1426.0,537.0 L1252.0,553.5 L1174.0,550.0 L830.0,480.0Z" fill="#fff" stroke="#4d4d4d" stroke-width="1.5" />
<path d="M830,480 L948,468 L1128,502 L1212,494 L1422,540" fill="none" stroke="#4d4d4d" stroke-width="1.1" />
<path d="M1168.0,627.0 L1428.0,614.0 L1428.0,1121.0 L1168.0,1137.0Z" fill="#fff" stroke="#4d4d4d" stroke-width="1.4" />
<path d="M1179,628 L1179,1136" fill="none" stroke="#4d4d4d" stroke-width="2" />
<path d="M1238.0,624.0L1238.0,1130.0" fill="none" stroke="#4d4d4d" stroke-width="1" />
<path d="M1247.7,624.0L1247.7,1130.0" fill="none" stroke="#4d4d4d" stroke-width="1" />
<path d="M1334.6,618.0L1334.6,1124.0" fill="none" stroke="#333" stroke-width="0.9" />
<path d="M1360.0,618.0L1360.0,1124.0" fill="none" stroke="#333" stroke-width="0.9" />
<path d="M1384.0,618.0L1384.0,1124.0" fill="none" stroke="#333" stroke-width="0.9" />
<ellipse cx="1404.0" cy="679.0" rx="11.0" ry="19.0" fill="#fff" stroke="#4d4d4d" stroke-width="1" transform="rotate(-5 1404.0 679.0)" />
<ellipse cx="1408.0" cy="678.0" rx="5.0" ry="10.0" fill="#fff" stroke="#4d4d4d" stroke-width="0.9" transform="rotate(-5 1408.0 678.0)" />
<text x="1406.0" y="632.5" font-family="Liberation Sans, sans-serif" font-size="20" fill="#555" text-anchor="start" font-weight="normal" font-style="italic" transform="rotate(-90 1406.0 632.5)" textLength="24" lengthAdjust="spacingAndGlyphs">A1</text>
<text x="1421.6" y="636.0" font-family="Liberation Sans, sans-serif" font-size="12.3" fill="#555" text-anchor="start" font-weight="normal" font-style="italic" transform="rotate(-90 1421.6 636.0)" textLength="25" lengthAdjust="spacingAndGlyphs">RTN</text>
<path d="M1185.4,633.2 L1206,678.7 L1197.7,686.4" fill="none" stroke="#4d4d4d" stroke-width="1.3" />
<path d="M1250,633 Q1258,655 1250,678 M1256,632 Q1266,655 1255,680 L1284,668 L1284,634 M1262,636 L1262,672 L1284,668 M1290,630 Q1300,655 1290,684 M1296,630 Q1306,655 1296,686" fill="none" stroke="#222" stroke-width="0.9" />
<path d="M1334.4,624.7 L1334.4,672.9 M1339,624 L1344.2,672" fill="none" stroke="#4d4d4d" stroke-width="1" />
<path d="M1185.4,747.2 L1206,792.7 L1197.7,800.4" fill="none" stroke="#4d4d4d" stroke-width="1.3" />
<path d="M1250,747 Q1258,769 1250,792 M1256,746 Q1266,769 1255,794 L1284,782 L1284,748 M1262,750 L1262,786 L1284,782 M1290,744 Q1300,769 1290,798 M1296,744 Q1306,769 1296,800" fill="none" stroke="#222" stroke-width="0.9" />
<path d="M1334.4,738.7 L1334.4,786.9 M1339,738 L1344.2,786" fill="none" stroke="#4d4d4d" stroke-width="1" />
<path d="M1185.4,858.2 L1206,903.7 L1197.7,911.4" fill="none" stroke="#4d4d4d" stroke-width="1.3" />
<path d="M1250,858 Q1258,880 1250,903 M1256,857 Q1266,880 1255,905 L1284,893 L1284,859 M1262,861 L1262,897 L1284,893 M1290,855 Q1300,880 1290,909 M1296,855 Q1306,880 1296,911" fill="none" stroke="#222" stroke-width="0.9" />
<path d="M1334.4,849.7 L1334.4,897.9 M1339,849 L1344.2,897" fill="none" stroke="#4d4d4d" stroke-width="1" />
<path d="M1185.4,968.2 L1206,1013.7 L1197.7,1021.4" fill="none" stroke="#4d4d4d" stroke-width="1.3" />
<path d="M1250,968 Q1258,990 1250,1013 M1256,967 Q1266,990 1255,1015 L1284,1003 L1284,969 M1262,971 L1262,1007 L1284,1003 M1290,965 Q1300,990 1290,1019 M1296,965 Q1306,990 1296,1021" fill="none" stroke="#222" stroke-width="0.9" />
<path d="M1334.4,959.7 L1334.4,1007.9 M1339,959 L1344.2,1007" fill="none" stroke="#4d4d4d" stroke-width="1" />
<path d="M1252.0,553.5 L1426.0,537.5 L1426.0,614.0 L1252.0,619.0Z" fill="#fff" stroke="#4d4d4d" stroke-width="1.4" />
<path d="M1174.0,550.0 L1208.0,547.0 L1252.0,553.5 L1252.0,619.0 L1174.0,614.0Z" fill="#fff" stroke="#4d4d4d" stroke-width="1.5" />
<path d="M1208,547 L1208,612 L1174,614 M1208,612 L1252,619" fill="none" stroke="#4d4d4d" stroke-width="1" />
<path d="M1174.0,614.0 L1216.0,636.0 L1428.0,623.0 L1428.0,614.0 L1252.0,619.0Z" fill="#fff" stroke="#4d4d4d" stroke-width="1.3" />
<path d="M1174,614 L1174,550" fill="none" stroke="#4d4d4d" stroke-width="1.5" />
<ellipse cx="1229.0" cy="588.0" rx="12.0" ry="20.0" fill="#fff" stroke="#4d4d4d" stroke-width="1" transform="rotate(-5 1229.0 588.0)" />
<ellipse cx="1225.0" cy="587.5" rx="11.0" ry="18.0" fill="#fff" stroke="#4d4d4d" stroke-width="1" transform="rotate(-5 1225.0 587.5)" />
<ellipse cx="1217.0" cy="586.0" rx="11.0" ry="15.5" fill="#fff" stroke="#4d4d4d" stroke-width="1.3" transform="rotate(-5 1217.0 586.0)" />
<path d="M1215,573 l4,0 l0,9 l6,1 l0,6 l-6,-1 l0,10 l-4,-0.5 l0,-9 l-6,-1 l0,-6 l6,1 z" fill="none" stroke="#4d4d4d" stroke-width="0.9" />
<path d="M1172.0,1097.0 L1250.0,1093.0 L1250.0,1129.0 L1172.0,1137.0Z" fill="#fff" stroke="#4d4d4d" stroke-width="1.4" />
<path d="M1206,1095 L1206,1133" fill="none" stroke="#4d4d4d" stroke-width="0.9" />
<ellipse cx="1229.0" cy="1112.0" rx="8.0" ry="13.0" fill="#fff" stroke="#4d4d4d" stroke-width="0.9" transform="rotate(-5 1229.0 1112.0)" />
<ellipse cx="1224.0" cy="1112.0" rx="8.0" ry="13.0" fill="#fff" stroke="#4d4d4d" stroke-width="0.9" transform="rotate(-5 1224.0 1112.0)" />
<ellipse cx="1209.0" cy="1111.5" rx="9.4" ry="13.4" fill="#fff" stroke="#4d4d4d" stroke-width="1.2" transform="rotate(-5 1209.0 1111.5)" />
<path d="M1207,1100 l3.5,0 l0,8 l5,0.8 l0,5 l-5,-0.8 l0,9 l-3.5,-0.4 l0,-8 l-5,-0.8 l0,-5 l5,0.8 z" fill="none" stroke="#4d4d4d" stroke-width="0.8" />
<path d="M1428.0,539.0 L1733.0,508.0 L1735.0,1063.0 L1460.0,1121.0 L1428.0,1121.0Z" fill="#fff" stroke="#4d4d4d" stroke-width="2.2" /><path d="M1442,541 L1442,1118 M1453,560 L1453,1090" fill="none" stroke="#4d4d4d" stroke-width="1.1" /><path d="M1442,549 L1728,518 L1728,1060" fill="none" stroke="#4d4d4d" stroke-width="1.1" /><path d="M1484,1088 L1696,1067 M1453,1092 L1484,1088 M1462,1110 L1496,1108 L1500,1101 L1672,1085" fill="none" stroke="#4d4d4d" stroke-width="1.2" /><use href="#hxg" x="1464.2" y="573.8"/><use href="#hxg" x="1487.9" y="571.4"/><use href="#hxg" x="1476.1" y="597.8"/><use href="#hxg" x="1618.3" y="583.4"/><use href="#hxg" x="1464.2" y="624.2"/><use href="#hxg" x="1487.9" y="621.8"/><use href="#hxg" x="1630.1" y="607.4"/><use href="#hxg" x="1476.1" y="648.2"/><use href="#hxg" x="1618.3" y="633.8"/><use href="#hxg" x="1464.2" y="674.6"/><use href="#hxg" x="1487.9" y="672.2"/><use href="#hxg" x="1511.6" y="669.8"/><use href="#hxg" x="1630.1" y="657.8"/><use href="#hxg" x="1476.1" y="698.6"/><use href="#hxg" x="1499.8" y="696.2"/><use href="#hxg" x="1594.6" y="686.6"/><use href="#hxg" x="1618.3" y="684.2"/><use href="#hxg" x="1642.0" y="681.8"/><use href="#hxg" x="1665.7" y="679.4"/><use href="#hxg" x="1689.4" y="677.0"/><use href="#hxg" x="1464.2" y="725.0"/><use href="#hxg" x="1487.9" y="722.6"/><use href="#hxg" x="1511.6" y="720.2"/><use href="#hxg" x="1606.4" y="710.6"/><use href="#hxg" x="1630.1" y="708.2"/><use href="#hxg" x="1653.8" y="705.8"/><use href="#hxg" x="1677.5" y="703.4"/><use href="#hxg" x="1701.2" y="701.0"/><use href="#hxg" x="1499.8" y="746.6"/><use href="#hxg" x="1618.3" y="734.6"/><use href="#hxg" x="1642.0" y="732.2"/><use href="#hxg" x="1665.7" y="729.8"/><use href="#hxg" x="1689.4" y="727.4"/><use href="#hxg" x="1606.4" y="761.0"/><use href="#hxg" x="1630.1" y="758.6"/><use href="#hxg" x="1653.8" y="756.2"/><use href="#hxg" x="1677.5" y="753.8"/><use href="#hxg" x="1464.2" y="825.8"/><use href="#hxg" x="1476.1" y="849.8"/><use href="#hxg" x="1499.8" y="847.4"/><use href="#hxg" x="1523.5" y="845.0"/><use href="#hxg" x="1547.2" y="842.6"/><use href="#hxg" x="1464.2" y="876.2"/><use href="#hxg" x="1487.9" y="873.8"/><use href="#hxg" x="1511.6" y="871.4"/><use href="#hxg" x="1535.3" y="869.0"/><use href="#hxg" x="1606.4" y="861.8"/><use href="#hxg" x="1630.1" y="859.4"/><use href="#hxg" x="1653.8" y="857.0"/><use href="#hxg" x="1677.5" y="854.6"/><use href="#hxg" x="1701.2" y="852.2"/><use href="#hxg" x="1476.1" y="900.2"/><use href="#hxg" x="1499.8" y="897.8"/><use href="#hxg" x="1523.5" y="895.4"/><use href="#hxg" x="1594.6" y="888.2"/><use href="#hxg" x="1618.3" y="885.8"/><use href="#hxg" x="1642.0" y="883.4"/><use href="#hxg" x="1665.7" y="881.0"/><use href="#hxg" x="1689.4" y="878.6"/><use href="#hxg" x="1464.2" y="926.6"/><use href="#hxg" x="1487.9" y="924.2"/><use href="#hxg" x="1511.6" y="921.8"/><use href="#hxg" x="1535.3" y="919.4"/><use href="#hxg" x="1559.0" y="917.0"/><use href="#hxg" x="1606.4" y="912.2"/><use href="#hxg" x="1630.1" y="909.8"/><use href="#hxg" x="1653.8" y="907.4"/><use href="#hxg" x="1677.5" y="905.0"/><use href="#hxg" x="1701.2" y="902.6"/><use href="#hxg" x="1476.1" y="950.6"/><use href="#hxg" x="1499.8" y="948.2"/><use href="#hxg" x="1523.5" y="945.8"/><use href="#hxg" x="1547.2" y="943.4"/><use href="#hxg" x="1570.9" y="941.0"/><use href="#hxg" x="1594.6" y="938.6"/><use href="#hxg" x="1618.3" y="936.2"/><use href="#hxg" x="1642.0" y="933.8"/><use href="#hxg" x="1665.7" y="931.4"/><use href="#hxg" x="1689.4" y="929.0"/><use href="#hxg" x="1464.2" y="977.0"/><use href="#hxg" x="1487.9" y="974.6"/><use href="#hxg" x="1511.6" y="972.2"/><use href="#hxg" x="1535.3" y="969.8"/><use href="#hxg" x="1559.0" y="967.4"/><use href="#hxg" x="1582.7" y="965.0"/><use href="#hxg" x="1606.4" y="962.6"/><use href="#hxg" x="1630.1" y="960.2"/><use href="#hxg" x="1653.8" y="957.8"/><use href="#hxg" x="1677.5" y="955.4"/><use href="#hxg" x="1701.2" y="953.0"/><use href="#hxg" x="1476.1" y="1001.0"/><use href="#hxg" x="1499.8" y="998.6"/><use href="#hxg" x="1523.5" y="996.2"/><use href="#hxg" x="1547.2" y="993.8"/><use href="#hxg" x="1570.9" y="991.4"/><use href="#hxg" x="1594.6" y="989.0"/><use href="#hxg" x="1618.3" y="986.6"/><use href="#hxg" x="1642.0" y="984.2"/><use href="#hxg" x="1665.7" y="981.8"/><use href="#hxg" x="1689.4" y="979.4"/><use href="#hxg" x="1464.2" y="1027.4"/><use href="#hxg" x="1487.9" y="1025.0"/><use href="#hxg" x="1511.6" y="1022.6"/><use href="#hxg" x="1535.3" y="1020.2"/><use href="#hxg" x="1559.0" y="1017.8"/><use href="#hxg" x="1582.7" y="1015.4"/><use href="#hxg" x="1606.4" y="1013.0"/><use href="#hxg" x="1630.1" y="1010.6"/><use href="#hxg" x="1653.8" y="1008.2"/><use href="#hxg" x="1677.5" y="1005.8"/><use href="#hxg" x="1701.2" y="1003.4"/><use href="#hxRg" x="1452.4" y="600.2"/><use href="#hxLg" x="1499.8" y="595.4"/><use href="#hxRg" x="1452.4" y="650.6"/><use href="#hxLg" x="1499.8" y="645.8"/><use href="#hxRg" x="1452.4" y="701.0"/><use href="#hxLg" x="1713.1" y="725.0"/><use href="#hxRg" x="1452.4" y="852.2"/><use href="#hxRg" x="1452.4" y="902.6"/><use href="#hxLg" x="1713.1" y="876.2"/><use href="#hxRg" x="1452.4" y="953.0"/><use href="#hxLg" x="1713.1" y="926.6"/><use href="#hxRg" x="1452.4" y="1003.4"/><use href="#hxLg" x="1713.1" y="977.0"/><path d="M1531.0,549.0 L1604.0,543.0 L1604.0,643.0 L1531.0,655.0Z" fill="#fff" stroke="#4d4d4d" stroke-width="1.6" /><path d="M1535.0,553.0 L1600.0,548.0 L1600.0,640.0 L1535.0,650.0Z" fill="#fff" stroke="#4d4d4d" stroke-width="1" /><path d="M1545.0,556.0 L1596.0,552.0 L1596.0,636.0 L1545.0,644.0Z" fill="#fff" stroke="#4d4d4d" stroke-width="1" /><path d="M1600,548 L1608,552 L1608,640 L1604,643" fill="none" stroke="#4d4d4d" stroke-width="1" /><path d="M1556.0,559.0 L1584.0,556.5 L1584.0,567.5 L1556.0,570.0Z" fill="#fff" stroke="#4d4d4d" stroke-width="1" /><path d="M1568.0,558.0L1568.0,569.0" fill="none" stroke="#4d4d4d" stroke-width="0.9" /><path d="M1570.5,557.8L1570.5,568.8" fill="none" stroke="#4d4d4d" stroke-width="0.7" /><path d="M1556.0,576.3 L1584.0,573.8 L1584.0,584.8 L1556.0,587.3Z" fill="#fff" stroke="#4d4d4d" stroke-width="1" /><path d="M1568.0,575.3L1568.0,586.3" fill="none" stroke="#4d4d4d" stroke-width="0.9" /><path d="M1570.5,575.1L1570.5,586.1" fill="none" stroke="#4d4d4d" stroke-width="0.7" /><path d="M1556.0,593.6 L1584.0,591.1 L1584.0,602.1 L1556.0,604.6Z" fill="#fff" stroke="#4d4d4d" stroke-width="1" /><path d="M1568.0,592.6L1568.0,603.6" fill="none" stroke="#4d4d4d" stroke-width="0.9" /><path d="M1570.5,592.4L1570.5,603.4" fill="none" stroke="#4d4d4d" stroke-width="0.7" /><path d="M1556.0,610.9 L1584.0,608.4 L1584.0,619.4 L1556.0,621.9Z" fill="#fff" stroke="#4d4d4d" stroke-width="1" /><path d="M1568.0,609.9L1568.0,620.9" fill="none" stroke="#4d4d4d" stroke-width="0.9" /><path d="M1570.5,609.7L1570.5,620.7" fill="none" stroke="#4d4d4d" stroke-width="0.7" /><path d="M1556.0,628.2 L1584.0,625.7 L1584.0,636.7 L1556.0,639.2Z" fill="#fff" stroke="#4d4d4d" stroke-width="1" /><path d="M1568.0,627.2L1568.0,638.2" fill="none" stroke="#4d4d4d" stroke-width="0.9" /><path d="M1570.5,627.0L1570.5,638.0" fill="none" stroke="#4d4d4d" stroke-width="0.7" /><text x="1501.0" y="568.4" font-family="Liberation Sans, sans-serif" font-size="12.8" fill="#111" text-anchor="start" font-weight="normal" transform="rotate(-4 1501.0 568.4)" textLength="22" lengthAdjust="spacingAndGlyphs">80A</text><text x="1506.6" y="586.0" font-family="Liberation Sans, sans-serif" font-size="12.8" fill="#111" text-anchor="start" font-weight="normal" transform="rotate(-4 1506.6 586.0)" textLength="14" lengthAdjust="spacingAndGlyphs">B1</text><text x="1506.6" y="604.0" font-family="Liberation Sans, sans-serif" font-size="12.8" fill="#111" text-anchor="start" font-weight="normal" transform="rotate(-4 1506.6 604.0)" textLength="14" lengthAdjust="spacingAndGlyphs">B0</text><text x="1506.6" y="622.0" font-family="Liberation Sans, sans-serif" font-size="12.8" fill="#111" text-anchor="start" font-weight="normal" transform="rotate(-4 1506.6 622.0)" textLength="14" lengthAdjust="spacingAndGlyphs">A1</text><text x="1506.6" y="638.0" font-family="Liberation Sans, sans-serif" font-size="12.8" fill="#111" text-anchor="start" font-weight="normal" transform="rotate(-4 1506.6 638.0)" textLength="14" lengthAdjust="spacingAndGlyphs">A0</text><text x="1611.5" y="558.5" font-family="Liberation Sans, sans-serif" font-size="12.8" fill="#111" text-anchor="start" font-weight="normal" transform="rotate(-4 1611.5 558.5)" textLength="22.5" lengthAdjust="spacingAndGlyphs">60A</text><path d="M1733,506 L1737,509 L1737,1000" fill="none" stroke="#4d4d4d" stroke-width="2.6" /><path d="M1656,538 L1737,531 Q1745,530.5 1745,538 L1745,654 Q1745,661 1738,662 L1656,669.5 Q1648,670 1648,662 L1648,546 Q1648,539 1656,538 Z" fill="#fff" stroke="#4d4d4d" stroke-width="2.8" /><path d="M1675,545 L1733,541 Q1738.7,541 1738.7,546 L1738.7,652 Q1738.7,657.5 1733,658 L1675,665 Q1668.8,665.5 1668.8,660 L1668.8,551 Q1668.8,545.5 1675,545Z" fill="#fff" stroke="#4d4d4d" stroke-width="1.3" /><path d="M1681,550.5 L1731,546.5 Q1736,546.5 1736,551 L1736,647 Q1736,652 1731,652.5 L1681,660.5 Q1676,661 1676,656 L1676,555 Q1676,550.5 1681,550.5Z" fill="#fff" stroke="#4d4d4d" stroke-width="1.3" /><path d="M1711,548 L1711.5,643.7 M1714.5,548 L1714.5,646 M1677,645.4 L1711.8,643.7 M1714.5,646.3 L1736,651.7 M1677,633 L1709,628.4" fill="none" stroke="#4d4d4d" stroke-width="0.9" /><path d="M1677.0,569.3 L1707.3,567.5 L1716.3,613.2 L1709.0,628.4 L1677.0,633.0Z" fill="#fff" stroke="#4d4d4d" stroke-width="1.4" /><path d="M1677,569.3 L1682.3,618.6 L1716.3,613.2 M1682.3,618.6 L1677,633" fill="none" stroke="#4d4d4d" stroke-width="0.9" /><path d="M1690,573 L1692.5,585" fill="none" stroke="#555" stroke-width="2" /><path d="M1692.5,596 A6,6.3 0 1 0 1701,594.5 M1696.3,590 L1697.5,600" fill="none" stroke="#555" stroke-width="2"/><path d="M1543,661 L1559,669 L1562,691 L1549,705 L1534,697 L1530,675 Z" fill="#fff" stroke="#4d4d4d" stroke-width="1.1" /><ellipse cx="1546.0" cy="683.0" rx="11.5" ry="16.0" fill="#fff" stroke="#4d4d4d" stroke-width="1.1" /><path d="M1558,864 L1574,872 L1577,894 L1564,908 L1549,900 L1545,878 Z" fill="#fff" stroke="#4d4d4d" stroke-width="1.1" /><ellipse cx="1561.0" cy="886.0" rx="11.5" ry="16.0" fill="#fff" stroke="#4d4d4d" stroke-width="1.1" /><path d="M1535,711 L1543,728 L1528,730 Z" fill="none" stroke="#888" stroke-width="1.1" /><path d="M1535.5,716.0L1536.0,724.0" fill="none" stroke="#888" stroke-width="1.2" /><text x="1562.0" y="719.0" font-family="Liberation Sans, sans-serif" font-size="12.5" fill="#111" text-anchor="start" font-weight="normal" font-style="italic" transform="rotate(-6 1562.0 719.0)" textLength="16" lengthAdjust="spacingAndGlyphs">OK</text><ellipse cx="1550.0" cy="737.0" rx="9.5" ry="10.5" fill="#fff" stroke="#4d4d4d" stroke-width="1.2" /><path d="M1543,740 A8,9 0 0 0 1556,743" fill="none" stroke="#4d4d4d" stroke-width="0.8" /><ellipse cx="1585.0" cy="734.0" rx="9.5" ry="10.5" fill="#fff" stroke="#4d4d4d" stroke-width="1.2" /><path d="M1578,737 A8,9 0 0 0 1591,740" fill="none" stroke="#4d4d4d" stroke-width="0.8" /><ellipse cx="1584.0" cy="771.0" rx="9.5" ry="10.5" fill="#fff" stroke="#4d4d4d" stroke-width="1.2" /><ellipse cx="1500.0" cy="1043.0" rx="6.0" ry="9.0" fill="#fff" stroke="#4d4d4d" stroke-width="1.1" /><path d="M1502,1036 Q1506,1043 1502,1051 M1500,1035 Q1503,1043 1500,1052" fill="none" stroke="#4d4d4d" stroke-width="0.7" /><path d="M1452,770 Q1458,757 1474,756.5 C1500,760 1540,771 1580,775 C1610,776 1640,773 1672,769 C1672,752 1686,734 1705,733 L1790,748 Q1826,756 1826,786 Q1826,818 1795,826 L1700,835 Q1600,842 1530,832 Q1495,826 1452,805 Z" fill="#fff" stroke="#4d4d4d" stroke-width="2.6" /><path d="M1674,765 Q1720,763 1776,757.5 Q1780,756 1781,754" fill="none" stroke="#4d4d4d" stroke-width="1" />
<path d="M345,948 L1172,1128" fill="none" stroke="#4d4d4d" stroke-width="1" />
<path d="M333,952 L1172,1137 L1172,1091" fill="none" stroke="#4d4d4d" stroke-width="2.4" />
<path d="M1168,1137 L1428,1121" fill="none" stroke="#4d4d4d" stroke-width="2" /></g></g>
<g transform="translate(-702,463)"><g transform="translate(0,335)"><ellipse cx="1338.0" cy="698.0" rx="13.0" ry="30.0" fill="#fff" stroke="#4d4d4d" stroke-width="1.6" transform="rotate(-38 1338.0 698.0)" /><path d="M1335,700 L1372,735 C1400,762 1445,800 1445,844 C1445,890 1400,925 1355,937 C1325,944 1298,943 1271,946 L120,1077" fill="none" stroke="#4d4d4d" stroke-width="60" stroke-linecap="butt" stroke-linejoin="round"/><path d="M1335,700 L1372,735 C1400,762 1445,800 1445,844 C1445,890 1400,925 1355,937 C1325,944 1298,943 1271,946 L120,1077" fill="none" stroke="#fff" stroke-width="56.0" stroke-linecap="butt" stroke-linejoin="round"/><ellipse cx="1210.0" cy="705.0" rx="17.0" ry="29.5" fill="#fff" stroke="#4d4d4d" stroke-width="1.2" transform="rotate(-12 1210.0 705.0)" /><path d="M1193.8,631.2 L1218.6,675.5" fill="none" stroke="#4d4d4d" stroke-width="1.2" /><path d="M1178,708.7 L1197.7,732.8" fill="none" stroke="#4d4d4d" stroke-width="2.0" /><path d="M1344.8,622.8 L1359,676" fill="none" stroke="#4d4d4d" stroke-width="2.0" /><path d="M1209,705 L1280,720 C1320,727 1365,745 1383,762 C1398,776 1392,790 1378,796 C1350,808 1310,819 1275,823 L120,957" fill="none" stroke="#4d4d4d" stroke-width="60" stroke-linecap="butt" stroke-linejoin="round"/><path d="M1209,705 L1280,720 C1320,727 1365,745 1383,762 C1398,776 1392,790 1378,796 C1350,808 1310,819 1275,823 L120,957" fill="none" stroke="#fff" stroke-width="56.0" stroke-linecap="butt" stroke-linejoin="round"/><path d="M1272,691.5 Q1262,705 1266,722 Q1269,738 1278,748" fill="none" stroke="#4d4d4d" stroke-width="0.9" /><path d="M1276,692.5 Q1266,706 1270,722 Q1273,738 1282,748" fill="none" stroke="#4d4d4d" stroke-width="0.9" /><path d="M1347,771 Q1354,768 1358,762" fill="none" stroke="#4d4d4d" stroke-width="1.0" /></g><g transform="translate(0,225)"><ellipse cx="1338.0" cy="698.0" rx="13.0" ry="30.0" fill="#fff" stroke="#4d4d4d" stroke-width="1.6" transform="rotate(-38 1338.0 698.0)" /><path d="M1335,700 L1372,735 C1400,762 1445,800 1445,844 C1445,890 1400,925 1355,937 C1325,944 1298,943 1271,946 L120,1077" fill="none" stroke="#4d4d4d" stroke-width="60" stroke-linecap="butt" stroke-linejoin="round"/><path d="M1335,700 L1372,735 C1400,762 1445,800 1445,844 C1445,890 1400,925 1355,937 C1325,944 1298,943 1271,946 L120,1077" fill="none" stroke="#fff" stroke-width="56.0" stroke-linecap="butt" stroke-linejoin="round"/><ellipse cx="1210.0" cy="705.0" rx="17.0" ry="29.5" fill="#fff" stroke="#4d4d4d" stroke-width="1.2" transform="rotate(-12 1210.0 705.0)" /><path d="M1193.8,631.2 L1218.6,675.5" fill="none" stroke="#4d4d4d" stroke-width="1.2" /><path d="M1178,708.7 L1197.7,732.8" fill="none" stroke="#4d4d4d" stroke-width="2.0" /><path d="M1344.8,622.8 L1359,676" fill="none" stroke="#4d4d4d" stroke-width="2.0" /><path d="M1209,705 L1280,720 C1320,727 1365,745 1383,762 C1398,776 1392,790 1378,796 C1350,808 1310,819 1275,823 L120,957" fill="none" stroke="#4d4d4d" stroke-width="60" stroke-linecap="butt" stroke-linejoin="round"/><path d="M1209,705 L1280,720 C1320,727 1365,745 1383,762 C1398,776 1392,790 1378,796 C1350,808 1310,819 1275,823 L120,957" fill="none" stroke="#fff" stroke-width="56.0" stroke-linecap="butt" stroke-linejoin="round"/><path d="M1272,691.5 Q1262,705 1266,722 Q1269,738 1278,748" fill="none" stroke="#4d4d4d" stroke-width="0.9" /><path d="M1276,692.5 Q1266,706 1270,722 Q1273,738 1282,748" fill="none" stroke="#4d4d4d" stroke-width="0.9" /><path d="M1347,771 Q1354,768 1358,762" fill="none" stroke="#4d4d4d" stroke-width="1.0" /></g><g transform="translate(0,114)"><ellipse cx="1338.0" cy="698.0" rx="13.0" ry="30.0" fill="#fff" stroke="#4d4d4d" stroke-width="1.6" transform="rotate(-38 1338.0 698.0)" /><path d="M1335,700 L1372,735 C1400,762 1445,800 1445,844 C1445,890 1400,925 1355,937 C1325,944 1298,943 1271,946 L120,1077" fill="none" stroke="#4d4d4d" stroke-width="60" stroke-linecap="butt" stroke-linejoin="round"/><path d="M1335,700 L1372,735 C1400,762 1445,800 1445,844 C1445,890 1400,925 1355,937 C1325,944 1298,943 1271,946 L120,1077" fill="none" stroke="#fff" stroke-width="56.0" stroke-linecap="butt" stroke-linejoin="round"/><ellipse cx="1210.0" cy="705.0" rx="17.0" ry="29.5" fill="#fff" stroke="#4d4d4d" stroke-width="1.2" transform="rotate(-12 1210.0 705.0)" /><path d="M1193.8,631.2 L1218.6,675.5" fill="none" stroke="#4d4d4d" stroke-width="1.2" /><path d="M1178,708.7 L1197.7,732.8" fill="none" stroke="#4d4d4d" stroke-width="2.0" /><path d="M1344.8,622.8 L1359,676" fill="none" stroke="#4d4d4d" stroke-width="2.0" /><path d="M1209,705 L1280,720 C1320,727 1365,745 1383,762 C1398,776 1392,790 1378,796 C1350,808 1310,819 1275,823 L120,957" fill="none" stroke="#4d4d4d" stroke-width="60" stroke-linecap="butt" stroke-linejoin="round"/><path d="M1209,705 L1280,720 C1320,727 1365,745 1383,762 C1398,776 1392,790 1378,796 C1350,808 1310,819 1275,823 L120,957" fill="none" stroke="#fff" stroke-width="56.0" stroke-linecap="butt" stroke-linejoin="round"/><path d="M1272,691.5 Q1262,705 1266,722 Q1269,738 1278,748" fill="none" stroke="#4d4d4d" stroke-width="0.9" /><path d="M1276,692.5 Q1266,706 1270,722 Q1273,738 1282,748" fill="none" stroke="#4d4d4d" stroke-width="0.9" /><path d="M1347,771 Q1354,768 1358,762" fill="none" stroke="#4d4d4d" stroke-width="1.0" /></g><g transform="translate(0,0)"><ellipse cx="1338.0" cy="698.0" rx="13.0" ry="30.0" fill="#fff" stroke="#4d4d4d" stroke-width="1.6" transform="rotate(-38 1338.0 698.0)" /><path d="M1335,700 L1372,735 C1400,762 1445,800 1445,844 C1445,890 1400,925 1355,937 C1325,944 1298,943 1271,946 L120,1077" fill="none" stroke="#4d4d4d" stroke-width="60" stroke-linecap="butt" stroke-linejoin="round"/><path d="M1335,700 L1372,735 C1400,762 1445,800 1445,844 C1445,890 1400,925 1355,937 C1325,944 1298,943 1271,946 L120,1077" fill="none" stroke="#fff" stroke-width="56.0" stroke-linecap="butt" stroke-linejoin="round"/><ellipse cx="1210.0" cy="705.0" rx="17.0" ry="29.5" fill="#fff" stroke="#4d4d4d" stroke-width="1.2" transform="rotate(-12 1210.0 705.0)" /><path d="M1193.8,631.2 L1218.6,675.5" fill="none" stroke="#4d4d4d" stroke-width="2.0" /><path d="M1178,708.7 L1197.7,732.8" fill="none" stroke="#4d4d4d" stroke-width="2.0" /><path d="M1344.8,622.8 L1359,676" fill="none" stroke="#4d4d4d" stroke-width="2.0" /><path d="M1209,705 L1280,720 C1320,727 1365,745 1383,762 C1398,776 1392,790 1378,796 C1350,808 1310,819 1275,823 L120,957" fill="none" stroke="#4d4d4d" stroke-width="60" stroke-linecap="butt" stroke-linejoin="round"/><path d="M1209,705 L1280,720 C1320,727 1365,745 1383,762 C1398,776 1392,790 1378,796 C1350,808 1310,819 1275,823 L120,957" fill="none" stroke="#fff" stroke-width="56.0" stroke-linecap="butt" stroke-linejoin="round"/><path d="M1272,691.5 Q1262,705 1266,722 Q1269,738 1278,748" fill="none" stroke="#4d4d4d" stroke-width="0.9" /><path d="M1276,692.5 Q1266,706 1270,722 Q1273,738 1282,748" fill="none" stroke="#4d4d4d" stroke-width="0.9" /><path d="M1347,771 Q1354,768 1358,762" fill="none" stroke="#4d4d4d" stroke-width="1.0" /></g></g>
<path d="M782,1580 L782,1496 Q782,1485 793,1483 L822,1478 Q832,1477 833,1486 L834,1545 L800,1552 L800,1580 Z" fill="#fff" stroke="#4d4d4d" stroke-width="1.6" />
<path d="M787,1578 L787,1498 Q787,1489 796,1487" fill="none" stroke="#4d4d4d" stroke-width="0.9" />
<path d="M789,1561 l8,0 l0,16 M789,1569 l8,0" fill="none" stroke="#4d4d4d" stroke-width="1" />
<g transform="translate(866,1520) scale(0.7)"><ellipse cx="-55.0" cy="-6.0" rx="22.0" ry="34.0" fill="#fff" stroke="#4d4d4d" stroke-width="2.4000000000000004" transform="rotate(8 -55.0 -6.0)" /><path d="M-50.3,-39.7 L-25.3,-38.2 L-34.7,29.2 L-59.7,27.7Z" fill="#fff" stroke="none" stroke-width="0" /><path d="M-50.3,-39.7 L-25.3,-38.2" fill="none" stroke="#4d4d4d" stroke-width="2.4000000000000004" /><path d="M-59.7,27.7 L-34.7,29.2" fill="none" stroke="#4d4d4d" stroke-width="2.4000000000000004" /><path d="M-47.1,-38.2 A21,33 8 0 0 -56.1,26.2" fill="none" stroke="#4d4d4d" stroke-width="1.2000000000000002"/><ellipse cx="-27.8" cy="-4.2" rx="30.0" ry="42.0" fill="#fff" stroke="#4d4d4d" stroke-width="2.4000000000000004" transform="rotate(8 -27.8 -4.2)" /><path d="M-22.0,-45.8 L3.8,-41.9 L-7.8,41.3 L-33.6,37.4Z" fill="#fff" stroke="none" stroke-width="0" /><path d="M-22.0,-45.8 L3.8,-41.9" fill="none" stroke="#4d4d4d" stroke-width="2.4000000000000004" /><path d="M-33.6,37.4 L-7.8,41.3" fill="none" stroke="#4d4d4d" stroke-width="2.4000000000000004" /><path d="M-18.8,-44.3 A29,41 8 0 0 -30.2,36.8" fill="none" stroke="#4d4d4d" stroke-width="1.2000000000000002"/><path d="M-22.8,-44.7 L11.2,-39.6" fill="none" stroke="#4d4d4d" stroke-width="1.0800000000000003" /><path d="M-24.9,-44.6 L9.1,-39.5" fill="none" stroke="#4d4d4d" stroke-width="1.0800000000000003" /><path d="M-28.4,-43.9 L5.6,-38.8" fill="none" stroke="#4d4d4d" stroke-width="1.0800000000000003" /><path d="M-30.5,-43.3 L3.5,-38.2" fill="none" stroke="#4d4d4d" stroke-width="1.0800000000000003" /><path d="M-33.9,-41.6 L0.1,-36.5" fill="none" stroke="#4d4d4d" stroke-width="1.0800000000000003" /><path d="M-35.9,-40.5 L-1.9,-35.4" fill="none" stroke="#4d4d4d" stroke-width="1.0800000000000003" /><path d="M-39.1,-38.0 L-5.1,-32.9" fill="none" stroke="#4d4d4d" stroke-width="1.0800000000000003" /><path d="M-40.9,-36.3 L-6.9,-31.2" fill="none" stroke="#4d4d4d" stroke-width="1.0800000000000003" /><path d="M-43.8,-33.1 L-9.8,-28.0" fill="none" stroke="#4d4d4d" stroke-width="1.0800000000000003" /><path d="M-45.4,-31.0 L-11.4,-25.9" fill="none" stroke="#4d4d4d" stroke-width="1.0800000000000003" /><path d="M-47.9,-27.1 L-13.9,-22.0" fill="none" stroke="#4d4d4d" stroke-width="1.0800000000000003" /><path d="M-49.1,-24.7 L-15.1,-19.6" fill="none" stroke="#4d4d4d" stroke-width="1.0800000000000003" /><path d="M-51.0,-20.3 L-17.0,-15.2" fill="none" stroke="#4d4d4d" stroke-width="1.0800000000000003" /><path d="M-52.0,-17.6 L-18.0,-12.5" fill="none" stroke="#4d4d4d" stroke-width="1.0800000000000003" /><path d="M-53.3,-12.9 L-19.3,-7.8" fill="none" stroke="#4d4d4d" stroke-width="1.0800000000000003" /><path d="M-53.9,-10.1 L-19.9,-5.0" fill="none" stroke="#4d4d4d" stroke-width="1.0800000000000003" /><path d="M-54.5,-5.1 L-20.5,0.0" fill="none" stroke="#4d4d4d" stroke-width="1.0800000000000003" /><path d="M-54.7,-2.2 L-20.7,2.9" fill="none" stroke="#4d4d4d" stroke-width="1.0800000000000003" /><path d="M-54.7,2.7 L-20.7,7.8" fill="none" stroke="#4d4d4d" stroke-width="1.0800000000000003" /><path d="M-54.5,5.5 L-20.5,10.6" fill="none" stroke="#4d4d4d" stroke-width="1.0800000000000003" /><path d="M-53.8,10.3 L-19.8,15.4" fill="none" stroke="#4d4d4d" stroke-width="1.0800000000000003" /><path d="M-53.2,12.9 L-19.2,18.0" fill="none" stroke="#4d4d4d" stroke-width="1.0800000000000003" /><path d="M-51.9,17.3 L-17.9,22.4" fill="none" stroke="#4d4d4d" stroke-width="1.0800000000000003" /><path d="M-50.9,19.7 L-16.9,24.8" fill="none" stroke="#4d4d4d" stroke-width="1.0800000000000003" /><path d="M-49.0,23.6 L-15.0,28.7" fill="none" stroke="#4d4d4d" stroke-width="1.0800000000000003" /><path d="M-47.7,25.6 L-13.7,30.7" fill="none" stroke="#4d4d4d" stroke-width="1.0800000000000003" /><path d="M-45.2,28.8 L-11.2,33.9" fill="none" stroke="#4d4d4d" stroke-width="1.0800000000000003" /><path d="M-43.6,30.4 L-9.6,35.5" fill="none" stroke="#4d4d4d" stroke-width="1.0800000000000003" /><path d="M-40.7,32.9 L-6.7,38.0" fill="none" stroke="#4d4d4d" stroke-width="1.0800000000000003" /><path d="M-38.9,34.0 L-4.9,39.1" fill="none" stroke="#4d4d4d" stroke-width="1.0800000000000003" /><path d="M-35.6,35.6 L-1.6,40.7" fill="none" stroke="#4d4d4d" stroke-width="1.0800000000000003" /><path d="M-33.7,36.2 L0.3,41.3" fill="none" stroke="#4d4d4d" stroke-width="1.0800000000000003" /><ellipse cx="0.0" cy="0.0" rx="33.0" ry="42.6" fill="#fff" stroke="#4d4d4d" stroke-width="2.6400000000000006" transform="rotate(8 0.0 0.0)" /><ellipse cx="1.0" cy="0.0" rx="29.0" ry="37.5" fill="none" stroke="#4d4d4d" stroke-width="1.2000000000000002" transform="rotate(8 1.0 0.0)" /><ellipse cx="1.5" cy="0" rx="23.5" ry="30.5" fill="none" stroke="#4d4d4d" stroke-width="5.6" stroke-dasharray="19.5 9" stroke-dashoffset="6" stroke-linecap="round" transform="rotate(8 1.5 0)"/><ellipse cx="1.5" cy="0" rx="23.5" ry="30.5" fill="none" stroke="#fff" stroke-width="3.1999999999999993" stroke-dasharray="19.5 9" stroke-dashoffset="6" stroke-linecap="round" transform="rotate(8 1.5 0)"/><ellipse cx="-1.5" cy="3.5" rx="13.0" ry="17.0" fill="#fff" stroke="#4d4d4d" stroke-width="1.3200000000000003" transform="rotate(8 -1.5 3.5)" /><path d="M-5,-14 L1,-15 L3,-2 L9,-3 L9.5,3 L2.5,5 L5.5,18 L0,21 L-4,7 L-9.5,5 L-10,0.5 L-3,-1 Z M-3,-1 L2.5,5 M3,-2 L-4,7" fill="#fff" stroke="#4d4d4d" stroke-width="1.2000000000000002"/></g>
<path d="M333.0,373.0 L1174.0,553.0 L1174.0,1137.0 L333.0,952.0Z" fill="#f2f2f2" stroke="none" stroke-width="0" />
<path d="M332.6,369 L332.6,952" fill="none" stroke="#000" stroke-width="3" />
<path d="M333.0,369.0 L814.0,322.0 L1733.0,506.0 L1428.0,539.0 L1174.0,553.0 L333.0,373.0Z" fill="#f2f2f2" stroke="none" stroke-width="0" />
<path d="M333,369 L814,322" fill="none" stroke="#000" stroke-width="2.4" />
<path d="M814,322 L1733,506" fill="none" stroke="#000" stroke-width="3.6" />
<path d="M333,374 L822,479" fill="none" stroke="#000" stroke-width="1.6" />
<path d="M334,702 L770,801 L770,808 L779,806 M334,712 L770,808" fill="none" stroke="#000" stroke-width="1.4" />
<path d="M622,481 L627,483 L627,491 Q640,503 655,499 L655,492 L663,494 L668,494 L668,529 L660,527 L660,589 L668,591 L668,627 L660,625 L660,687 L668,689 L668,731 L660,729 L660,721 Q640,726 627,713 L622,712 L622,673 L628,674 L628,611 L622,610 L622,546 L628,547 L628,517 L622,516 Z" fill="#f2f2f2" stroke="#000" stroke-width="1.3" /><path d="M628,493 L628,713 M655,499 L655,723 M660,497 L660,527 M631,495 L631,714" fill="none" stroke="#000" stroke-width="0.8" /><path d="M630,521 l9,1.5 M651,525 l9,1.5" fill="none" stroke="#000" stroke-width="1.2" /><path d="M630,556 l9,1.5 M651,560 l9,1.5" fill="none" stroke="#000" stroke-width="1.2" /><path d="M630,585 l9,1.5 M651,589 l9,1.5" fill="none" stroke="#000" stroke-width="1.2" /><path d="M630,621 l9,1.5 M651,625 l9,1.5" fill="none" stroke="#000" stroke-width="1.2" /><path d="M630,647 l9,1.5 M651,651 l9,1.5" fill="none" stroke="#000" stroke-width="1.2" /><path d="M630,683 l9,1.5 M651,687 l9,1.5" fill="none" stroke="#000" stroke-width="1.2" />
<path d="M622,810 L627,812 L627,820 Q640,832 655,828 L655,821 L663,823 L668,823 L668,858 L660,856 L660,918 L668,920 L668,956 L660,954 L660,1016 L668,1018 L668,1060 L660,1058 L660,1050 Q640,1055 627,1042 L622,1041 L622,1002 L628,1003 L628,940 L622,939 L622,875 L628,876 L628,846 L622,845 Z" fill="#f2f2f2" stroke="#000" stroke-width="1.3" /><path d="M628,822 L628,1042 M655,828 L655,1052 M660,826 L660,856 M631,824 L631,1043" fill="none" stroke="#000" stroke-width="0.8" /><path d="M630,850 l9,1.5 M651,854 l9,1.5" fill="none" stroke="#000" stroke-width="1.2" /><path d="M630,885 l9,1.5 M651,889 l9,1.5" fill="none" stroke="#000" stroke-width="1.2" /><path d="M630,914 l9,1.5 M651,918 l9,1.5" fill="none" stroke="#000" stroke-width="1.2" /><path d="M630,950 l9,1.5 M651,954 l9,1.5" fill="none" stroke="#000" stroke-width="1.2" /><path d="M630,976 l9,1.5 M651,980 l9,1.5" fill="none" stroke="#000" stroke-width="1.2" /><path d="M630,1012 l9,1.5 M651,1016 l9,1.5" fill="none" stroke="#000" stroke-width="1.2" />
<ellipse cx="471.0" cy="705.0" rx="11.5" ry="19.0" fill="#f2f2f2" stroke="#000" stroke-width="1.1" transform="rotate(-5 471.0 705.0)" />
<ellipse cx="476.0" cy="704.0" rx="5.5" ry="10.0" fill="#f2f2f2" stroke="#000" stroke-width="1" transform="rotate(-5 476.0 704.0)" />
<path d="M705,421 L717,424 L732.4,411.8 L1055,379.8 L1077.8,399.5 L1087,400 L1076,401.5" fill="none" stroke="#000" stroke-width="1.2" />
<path d="M732.4,411.8 L754,432.5 L1074,401 M705,421 L722,423 M746,431 L756,434 L1078,402" fill="none" stroke="#000" stroke-width="1.1" />
<path d="M744.6,416.5 L1057,384.5" fill="none" stroke="#000" stroke-width="0.7" stroke-dasharray="22 7"/>
<path d="M752,428 L1070,396.5" fill="none" stroke="#000" stroke-width="0.7" stroke-dasharray="20 9"/>
<path d="M765.3,409.0 l7,6.5" fill="none" stroke="#000" stroke-width="1.2" />
<path d="M778.5,422.5 l7,7.5" fill="none" stroke="#000" stroke-width="1.2" />
<path d="M784.5,430.5 l12,-1.2" fill="none" stroke="#000" stroke-width="1.6" />
<path d="M795.0,406.1 l7,6.5" fill="none" stroke="#000" stroke-width="1.2" />
<path d="M808.0,419.6 l7,7.5" fill="none" stroke="#000" stroke-width="1.2" />
<path d="M814.0,427.6 l12,-1.2" fill="none" stroke="#000" stroke-width="1.6" />
<path d="M824.7,403.1 l7,6.5" fill="none" stroke="#000" stroke-width="1.2" />
<path d="M837.5,416.7 l7,7.5" fill="none" stroke="#000" stroke-width="1.2" />
<path d="M843.5,424.7 l12,-1.2" fill="none" stroke="#000" stroke-width="1.6" />
<path d="M854.4,400.1 l7,6.5" fill="none" stroke="#000" stroke-width="1.2" />
<path d="M867.0,413.8 l7,7.5" fill="none" stroke="#000" stroke-width="1.2" />
<path d="M873.0,421.8 l12,-1.2" fill="none" stroke="#000" stroke-width="1.6" />
<path d="M884.1,397.2 l7,6.5" fill="none" stroke="#000" stroke-width="1.2" />
<path d="M896.5,410.9 l7,7.5" fill="none" stroke="#000" stroke-width="1.2" />
<path d="M902.5,418.9 l12,-1.2" fill="none" stroke="#000" stroke-width="1.6" />
<path d="M913.8,394.2 l7,6.5" fill="none" stroke="#000" stroke-width="1.2" />
<path d="M926.0,408.0 l7,7.5" fill="none" stroke="#000" stroke-width="1.2" />
<path d="M932.0,416.0 l12,-1.2" fill="none" stroke="#000" stroke-width="1.6" />
<path d="M943.5,391.3 l7,6.5" fill="none" stroke="#000" stroke-width="1.2" />
<path d="M955.5,405.1 l7,7.5" fill="none" stroke="#000" stroke-width="1.2" />
<path d="M961.5,413.1 l12,-1.2" fill="none" stroke="#000" stroke-width="1.6" />
<path d="M973.2,388.4 l7,6.5" fill="none" stroke="#000" stroke-width="1.2" />
<path d="M985.0,402.2 l7,7.5" fill="none" stroke="#000" stroke-width="1.2" />
<path d="M991.0,410.2 l12,-1.2" fill="none" stroke="#000" stroke-width="1.6" />
<path d="M1002.9,385.4 l7,6.5" fill="none" stroke="#000" stroke-width="1.2" />
<path d="M1014.5,399.3 l7,7.5" fill="none" stroke="#000" stroke-width="1.2" />
<path d="M1020.5,407.3 l12,-1.2" fill="none" stroke="#000" stroke-width="1.6" />
<path d="M1032.6,382.4 l7,6.5" fill="none" stroke="#000" stroke-width="1.2" />
<path d="M1044.0,396.4 l7,7.5" fill="none" stroke="#000" stroke-width="1.2" />
<path d="M1050.0,404.4 l12,-1.2" fill="none" stroke="#000" stroke-width="1.6" />
<path d="M730,379 L739,375.5 L756,376 L764,381 L757,386 L738,386 Z" fill="#f2f2f2" stroke="#333" stroke-width="1" />
<ellipse cx="747.0" cy="381.0" rx="7.0" ry="2.8" fill="#f2f2f2" stroke="#333" stroke-width="1" />
<path d="M1129,462 L1138,458.5 L1155,459 L1163,464 L1156,469 L1137,469 Z" fill="#f2f2f2" stroke="#333" stroke-width="1" />
<ellipse cx="1146.0" cy="464.0" rx="7.0" ry="2.8" fill="#f2f2f2" stroke="#333" stroke-width="1" />
<path d="M1609,495 L1618,491.5 L1635,492 L1643,497 L1636,502 L1617,502 Z" fill="#f2f2f2" stroke="#333" stroke-width="1" />
<ellipse cx="1626.0" cy="497.0" rx="7.0" ry="2.8" fill="#f2f2f2" stroke="#333" stroke-width="1" />
<ellipse cx="865.0" cy="460.0" rx="17.0" ry="4.2" fill="#f2f2f2" stroke="#555" stroke-width="1" transform="rotate(3 865.0 460.0)" />
<ellipse cx="1067.0" cy="476.0" rx="17.0" ry="4.2" fill="#f2f2f2" stroke="#555" stroke-width="1" transform="rotate(3 1067.0 476.0)" />
<ellipse cx="1332.0" cy="509.0" rx="17.0" ry="4.2" fill="#f2f2f2" stroke="#555" stroke-width="1" transform="rotate(3 1332.0 509.0)" />
<ellipse cx="1440.0" cy="528.0" rx="17.0" ry="4.2" fill="#f2f2f2" stroke="#555" stroke-width="1" transform="rotate(3 1440.0 528.0)" />
<ellipse cx="1335.0" cy="483.0" rx="17.0" ry="4.2" fill="#f2f2f2" stroke="#555" stroke-width="1" transform="rotate(3 1335.0 483.0)" />
<ellipse cx="1680.0" cy="503.0" rx="17.0" ry="4.2" fill="#f2f2f2" stroke="#555" stroke-width="1" transform="rotate(3 1680.0 503.0)" />
<ellipse cx="1408.0" cy="509.6" rx="5.5" ry="1.9" fill="#f2f2f2" stroke="#999" stroke-width="0.8" />
<ellipse cx="1426.0" cy="510.2" rx="5.5" ry="1.9" fill="#f2f2f2" stroke="#999" stroke-width="0.8" />
<ellipse cx="1444.0" cy="510.8" rx="5.5" ry="1.9" fill="#f2f2f2" stroke="#999" stroke-width="0.8" />
<ellipse cx="1462.0" cy="511.4" rx="5.5" ry="1.9" fill="#f2f2f2" stroke="#999" stroke-width="0.8" />
<ellipse cx="1480.0" cy="512.0" rx="5.5" ry="1.9" fill="#f2f2f2" stroke="#999" stroke-width="0.8" />
<ellipse cx="1498.0" cy="512.6" rx="5.5" ry="1.9" fill="#f2f2f2" stroke="#999" stroke-width="0.8" />
<ellipse cx="1516.0" cy="513.2" rx="5.5" ry="1.9" fill="#f2f2f2" stroke="#999" stroke-width="0.8" />
<ellipse cx="1534.0" cy="513.8" rx="5.5" ry="1.9" fill="#f2f2f2" stroke="#999" stroke-width="0.8" />
<ellipse cx="1552.0" cy="514.4" rx="5.5" ry="1.9" fill="#f2f2f2" stroke="#999" stroke-width="0.8" />
<ellipse cx="1403.0" cy="504.8" rx="5.5" ry="1.9" fill="#f2f2f2" stroke="#999" stroke-width="0.8" />
<ellipse cx="1421.0" cy="505.4" rx="5.5" ry="1.9" fill="#f2f2f2" stroke="#999" stroke-width="0.8" />
<ellipse cx="1439.0" cy="506.0" rx="5.5" ry="1.9" fill="#f2f2f2" stroke="#999" stroke-width="0.8" />
<ellipse cx="1457.0" cy="506.6" rx="5.5" ry="1.9" fill="#f2f2f2" stroke="#999" stroke-width="0.8" />
<ellipse cx="1475.0" cy="507.2" rx="5.5" ry="1.9" fill="#f2f2f2" stroke="#999" stroke-width="0.8" />
<ellipse cx="1493.0" cy="507.8" rx="5.5" ry="1.9" fill="#f2f2f2" stroke="#999" stroke-width="0.8" />
<ellipse cx="1511.0" cy="508.4" rx="5.5" ry="1.9" fill="#f2f2f2" stroke="#999" stroke-width="0.8" />
<ellipse cx="1529.0" cy="509.0" rx="5.5" ry="1.9" fill="#f2f2f2" stroke="#999" stroke-width="0.8" />
<ellipse cx="1547.0" cy="509.6" rx="5.5" ry="1.9" fill="#f2f2f2" stroke="#999" stroke-width="0.8" />
<ellipse cx="1565.0" cy="510.2" rx="5.5" ry="1.9" fill="#f2f2f2" stroke="#999" stroke-width="0.8" />
<ellipse cx="1583.0" cy="510.8" rx="5.5" ry="1.9" fill="#f2f2f2" stroke="#999" stroke-width="0.8" />
<ellipse cx="1416.0" cy="500.6" rx="5.5" ry="1.9" fill="#f2f2f2" stroke="#999" stroke-width="0.8" />
<ellipse cx="1434.0" cy="501.2" rx="5.5" ry="1.9" fill="#f2f2f2" stroke="#999" stroke-width="0.8" />
<ellipse cx="1452.0" cy="501.8" rx="5.5" ry="1.9" fill="#f2f2f2" stroke="#999" stroke-width="0.8" />
<ellipse cx="1470.0" cy="502.4" rx="5.5" ry="1.9" fill="#f2f2f2" stroke="#999" stroke-width="0.8" />
<ellipse cx="1488.0" cy="503.0" rx="5.5" ry="1.9" fill="#f2f2f2" stroke="#999" stroke-width="0.8" />
<ellipse cx="1506.0" cy="503.6" rx="5.5" ry="1.9" fill="#f2f2f2" stroke="#999" stroke-width="0.8" />
<ellipse cx="1524.0" cy="504.2" rx="5.5" ry="1.9" fill="#f2f2f2" stroke="#999" stroke-width="0.8" />
<ellipse cx="1542.0" cy="504.8" rx="5.5" ry="1.9" fill="#f2f2f2" stroke="#999" stroke-width="0.8" />
<ellipse cx="1560.0" cy="505.4" rx="5.5" ry="1.9" fill="#f2f2f2" stroke="#999" stroke-width="0.8" />
<ellipse cx="1578.0" cy="506.0" rx="5.5" ry="1.9" fill="#f2f2f2" stroke="#999" stroke-width="0.8" />
<ellipse cx="1596.0" cy="506.6" rx="5.5" ry="1.9" fill="#f2f2f2" stroke="#999" stroke-width="0.8" />
<ellipse cx="1429.0" cy="496.4" rx="5.5" ry="1.9" fill="#f2f2f2" stroke="#999" stroke-width="0.8" />
<ellipse cx="1447.0" cy="497.0" rx="5.5" ry="1.9" fill="#f2f2f2" stroke="#999" stroke-width="0.8" />
<ellipse cx="1465.0" cy="497.6" rx="5.5" ry="1.9" fill="#f2f2f2" stroke="#999" stroke-width="0.8" />
<ellipse cx="1483.0" cy="498.2" rx="5.5" ry="1.9" fill="#f2f2f2" stroke="#999" stroke-width="0.8" />
<ellipse cx="1501.0" cy="498.8" rx="5.5" ry="1.9" fill="#f2f2f2" stroke="#999" stroke-width="0.8" />
<ellipse cx="1519.0" cy="499.4" rx="5.5" ry="1.9" fill="#f2f2f2" stroke="#999" stroke-width="0.8" />
<ellipse cx="1537.0" cy="500.0" rx="5.5" ry="1.9" fill="#f2f2f2" stroke="#999" stroke-width="0.8" />
<ellipse cx="1555.0" cy="500.6" rx="5.5" ry="1.9" fill="#f2f2f2" stroke="#999" stroke-width="0.8" />
<ellipse cx="1573.0" cy="501.2" rx="5.5" ry="1.9" fill="#f2f2f2" stroke="#999" stroke-width="0.8" />
<ellipse cx="1591.0" cy="501.8" rx="5.5" ry="1.9" fill="#f2f2f2" stroke="#999" stroke-width="0.8" />
<ellipse cx="1609.0" cy="502.4" rx="5.5" ry="1.9" fill="#f2f2f2" stroke="#999" stroke-width="0.8" />
<ellipse cx="1442.0" cy="492.2" rx="5.5" ry="1.9" fill="#f2f2f2" stroke="#999" stroke-width="0.8" />
<ellipse cx="1460.0" cy="492.8" rx="5.5" ry="1.9" fill="#f2f2f2" stroke="#999" stroke-width="0.8" />
<ellipse cx="1478.0" cy="493.4" rx="5.5" ry="1.9" fill="#f2f2f2" stroke="#999" stroke-width="0.8" />
<ellipse cx="1496.0" cy="494.0" rx="5.5" ry="1.9" fill="#f2f2f2" stroke="#999" stroke-width="0.8" />
<ellipse cx="1514.0" cy="494.6" rx="5.5" ry="1.9" fill="#f2f2f2" stroke="#999" stroke-width="0.8" />
<ellipse cx="1532.0" cy="495.2" rx="5.5" ry="1.9" fill="#f2f2f2" stroke="#999" stroke-width="0.8" />
<ellipse cx="1550.0" cy="495.8" rx="5.5" ry="1.9" fill="#f2f2f2" stroke="#999" stroke-width="0.8" />
<ellipse cx="1568.0" cy="496.4" rx="5.5" ry="1.9" fill="#f2f2f2" stroke="#999" stroke-width="0.8" />
<ellipse cx="1586.0" cy="497.0" rx="5.5" ry="1.9" fill="#f2f2f2" stroke="#999" stroke-width="0.8" />
<ellipse cx="1604.0" cy="497.6" rx="5.5" ry="1.9" fill="#f2f2f2" stroke="#999" stroke-width="0.8" />
<ellipse cx="1455.0" cy="488.0" rx="5.5" ry="1.9" fill="#f2f2f2" stroke="#999" stroke-width="0.8" />
<ellipse cx="1473.0" cy="488.6" rx="5.5" ry="1.9" fill="#f2f2f2" stroke="#999" stroke-width="0.8" />
<ellipse cx="1491.0" cy="489.2" rx="5.5" ry="1.9" fill="#f2f2f2" stroke="#999" stroke-width="0.8" />
<ellipse cx="1509.0" cy="489.8" rx="5.5" ry="1.9" fill="#f2f2f2" stroke="#999" stroke-width="0.8" />
<ellipse cx="1527.0" cy="490.4" rx="5.5" ry="1.9" fill="#f2f2f2" stroke="#999" stroke-width="0.8" />
<ellipse cx="1545.0" cy="491.0" rx="5.5" ry="1.9" fill="#f2f2f2" stroke="#999" stroke-width="0.8" />
<ellipse cx="1563.0" cy="491.6" rx="5.5" ry="1.9" fill="#f2f2f2" stroke="#999" stroke-width="0.8" />
<ellipse cx="1581.0" cy="492.2" rx="5.5" ry="1.9" fill="#f2f2f2" stroke="#999" stroke-width="0.8" />
<ellipse cx="1599.0" cy="492.8" rx="5.5" ry="1.9" fill="#f2f2f2" stroke="#999" stroke-width="0.8" />
<path d="M779,1045 L779,508 Q779,491 792,491 L822.5,498 L822.5,484" fill="none" stroke="#000" stroke-width="1.4" />
<path d="M783,1046 L783,512 Q783,497 795,497.5 L829,505.5" fill="none" stroke="#000" stroke-width="1" />
<path d="M823.0,492.0L823.0,1056.0" fill="none" stroke="#000" stroke-width="0.8" />
<ellipse cx="801.0" cy="536.0" rx="10.5" ry="19.0" fill="#f2f2f2" stroke="#000" stroke-width="1" transform="rotate(-5 801.0 536.0)" />
<ellipse cx="805.0" cy="535.0" rx="5.5" ry="11.0" fill="#f2f2f2" stroke="#000" stroke-width="0.9" transform="rotate(-5 805.0 535.0)" />
<text x="807.6" y="598.7" font-family="Liberation Sans, sans-serif" font-size="18.5" fill="#4d4d4d" text-anchor="start" font-weight="normal" font-style="italic" transform="rotate(-90 807.6 598.7)" textLength="25" lengthAdjust="spacingAndGlyphs">A0</text>
<text x="819.3" y="602.7" font-family="Liberation Sans, sans-serif" font-size="12.3" fill="#4d4d4d" text-anchor="start" font-weight="normal" font-style="italic" transform="rotate(-90 819.3 602.7)" textLength="25" lengthAdjust="spacingAndGlyphs">RTN</text>
<text x="807.6" y="713.5" font-family="Liberation Sans, sans-serif" font-size="18.5" fill="#4d4d4d" text-anchor="start" font-weight="normal" font-style="italic" transform="rotate(-90 807.6 713.5)" textLength="25" lengthAdjust="spacingAndGlyphs">A0</text>
<text x="819.3" y="741.0" font-family="Liberation Sans, sans-serif" font-size="12.3" fill="#4d4d4d" text-anchor="start" font-weight="normal" font-style="italic" transform="rotate(-90 819.3 741.0)" textLength="67" lengthAdjust="spacingAndGlyphs">-48V/-60V</text>
<text x="807.6" y="829.0" font-family="Liberation Sans, sans-serif" font-size="18.5" fill="#4d4d4d" text-anchor="start" font-weight="normal" font-style="italic" transform="rotate(-90 807.6 829.0)" textLength="25" lengthAdjust="spacingAndGlyphs">B0</text>
<text x="819.3" y="833.0" font-family="Liberation Sans, sans-serif" font-size="12.3" fill="#4d4d4d" text-anchor="start" font-weight="normal" font-style="italic" transform="rotate(-90 819.3 833.0)" textLength="25" lengthAdjust="spacingAndGlyphs">RTN</text>
<text x="807.6" y="944.0" font-family="Liberation Sans, sans-serif" font-size="18.5" fill="#4d4d4d" text-anchor="start" font-weight="normal" font-style="italic" transform="rotate(-90 807.6 944.0)" textLength="25" lengthAdjust="spacingAndGlyphs">B0</text>
<text x="819.3" y="971.5" font-family="Liberation Sans, sans-serif" font-size="12.3" fill="#4d4d4d" text-anchor="start" font-weight="normal" font-style="italic" transform="rotate(-90 819.3 971.5)" textLength="67" lengthAdjust="spacingAndGlyphs">-48V/-60V</text>
<path d="M830.0,480.0 L1174.0,551.0 L1174.0,1126.0 L830.0,1056.0Z" fill="#f2f2f2" stroke="#000" stroke-width="1.5" />
<text x="849.0" y="698.5" font-family="Liberation Sans, sans-serif" font-size="20" fill="#4d4d4d" text-anchor="start" font-weight="normal" font-style="italic" transform="rotate(-90 849.0 698.5)" textLength="89.5" lengthAdjust="spacingAndGlyphs">INPUT A0</text>
<text x="864.0" y="622.0" font-family="Liberation Sans, sans-serif" font-size="14.5" fill="#4d4d4d" text-anchor="start" font-weight="normal" font-style="italic" transform="rotate(-90 864.0 622.0)" textLength="31" lengthAdjust="spacingAndGlyphs">RTN</text>
<text x="864.0" y="755.0" font-family="Liberation Sans, sans-serif" font-size="14.5" fill="#4d4d4d" text-anchor="start" font-weight="normal" font-style="italic" transform="rotate(-90 864.0 755.0)" textLength="85" lengthAdjust="spacingAndGlyphs">-48V/-60V</text>
<text x="1150.0" y="764.0" font-family="Liberation Sans, sans-serif" font-size="20" fill="#4d4d4d" text-anchor="start" font-weight="normal" font-style="italic" transform="rotate(-90 1150.0 764.0)" textLength="90" lengthAdjust="spacingAndGlyphs">INPUT A1</text>
<text x="1164.5" y="685.0" font-family="Liberation Sans, sans-serif" font-size="14.5" fill="#4d4d4d" text-anchor="start" font-weight="normal" font-style="italic" transform="rotate(-90 1164.5 685.0)" textLength="34" lengthAdjust="spacingAndGlyphs">RTN</text>
<text x="1164.5" y="803.0" font-family="Liberation Sans, sans-serif" font-size="14.5" fill="#4d4d4d" text-anchor="start" font-weight="normal" font-style="italic" transform="rotate(-90 1164.5 803.0)" textLength="83" lengthAdjust="spacingAndGlyphs">-48V/60V</text>
<text x="849.0" y="928.5" font-family="Liberation Sans, sans-serif" font-size="20" fill="#4d4d4d" text-anchor="start" font-weight="normal" font-style="italic" transform="rotate(-90 849.0 928.5)" textLength="89.5" lengthAdjust="spacingAndGlyphs">INPUT B0</text>
<text x="864.0" y="852.0" font-family="Liberation Sans, sans-serif" font-size="14.5" fill="#4d4d4d" text-anchor="start" font-weight="normal" font-style="italic" transform="rotate(-90 864.0 852.0)" textLength="31" lengthAdjust="spacingAndGlyphs">RTN</text>
<text x="864.0" y="985.0" font-family="Liberation Sans, sans-serif" font-size="14.5" fill="#4d4d4d" text-anchor="start" font-weight="normal" font-style="italic" transform="rotate(-90 864.0 985.0)" textLength="85" lengthAdjust="spacingAndGlyphs">-48V/-60V</text>
<text x="1150.0" y="994.0" font-family="Liberation Sans, sans-serif" font-size="20" fill="#4d4d4d" text-anchor="start" font-weight="normal" font-style="italic" transform="rotate(-90 1150.0 994.0)" textLength="90" lengthAdjust="spacingAndGlyphs">INPUT B1</text>
<text x="1164.5" y="915.0" font-family="Liberation Sans, sans-serif" font-size="14.5" fill="#4d4d4d" text-anchor="start" font-weight="normal" font-style="italic" transform="rotate(-90 1164.5 915.0)" textLength="34" lengthAdjust="spacingAndGlyphs">RTN</text>
<text x="1164.5" y="1033.0" font-family="Liberation Sans, sans-serif" font-size="14.5" fill="#4d4d4d" text-anchor="start" font-weight="normal" font-style="italic" transform="rotate(-90 1164.5 1033.0)" textLength="83" lengthAdjust="spacingAndGlyphs">-48V/60V</text>
<text x="1006.3" y="1052.0" font-family="Liberation Sans, sans-serif" font-size="20" fill="#4d4d4d" text-anchor="start" font-weight="normal" font-style="italic" transform="rotate(-90 1006.3 1052.0)" textLength="503" lengthAdjust="spacingAndGlyphs">COVER MUST BE IN PLACE WHEN POWER SUPPLY ON</text>
<text x="1058.0" y="965.0" font-family="Liberation Sans, sans-serif" font-size="20" fill="#4d4d4d" text-anchor="start" font-weight="normal" font-style="italic" transform="rotate(-90 1058.0 965.0)" textLength="72" lengthAdjust="spacingAndGlyphs">POWER</text>
<text x="1058.0" y="823.0" font-family="Liberation Sans, sans-serif" font-size="20" fill="#4d4d4d" text-anchor="start" font-weight="normal" font-style="italic" transform="rotate(-90 1058.0 823.0)" textLength="80" lengthAdjust="spacingAndGlyphs">TORQUE</text>
<text x="1058.0" y="729.5" font-family="Liberation Sans, sans-serif" font-size="20" fill="#4d4d4d" text-anchor="start" font-weight="normal" font-style="italic" transform="rotate(-90 1058.0 729.5)" textLength="111" lengthAdjust="spacingAndGlyphs">(M6 NUTS)</text>
<text x="1079.0" y="944.0" font-family="Liberation Sans, sans-serif" font-size="20" fill="#4d4d4d" text-anchor="start" font-weight="normal" font-style="italic" transform="rotate(-90 1079.0 944.0)" textLength="90" lengthAdjust="spacingAndGlyphs">MINIMUM</text>
<text x="1079.0" y="812.0" font-family="Liberation Sans, sans-serif" font-size="20" fill="#4d4d4d" text-anchor="start" font-weight="normal" font-style="italic" transform="rotate(-90 1079.0 812.0)" textLength="124" lengthAdjust="spacingAndGlyphs">lb-in(2.6Nm)</text>
<text x="1099.5" y="944.0" font-family="Liberation Sans, sans-serif" font-size="20" fill="#4d4d4d" text-anchor="start" font-weight="normal" font-style="italic" transform="rotate(-90 1099.5 944.0)" textLength="90" lengthAdjust="spacingAndGlyphs">MAXIMUM</text>
<text x="1099.5" y="812.0" font-family="Liberation Sans, sans-serif" font-size="20" fill="#4d4d4d" text-anchor="start" font-weight="normal" font-style="italic" transform="rotate(-90 1099.5 812.0)" textLength="124" lengthAdjust="spacingAndGlyphs">lb-in(2.8Nm)</text>
<text x="1119.0" y="931.0" font-family="Liberation Sans, sans-serif" font-size="20" fill="#4d4d4d" text-anchor="start" font-weight="normal" font-style="italic" transform="rotate(-90 1119.0 931.0)" textLength="62" lengthAdjust="spacingAndGlyphs">INPUT</text>
<text x="1119.0" y="830.0" font-family="Liberation Sans, sans-serif" font-size="20" fill="#4d4d4d" text-anchor="start" font-weight="normal" font-style="italic" transform="rotate(-90 1119.0 830.0)" textLength="91" lengthAdjust="spacingAndGlyphs">-48V/-60V</text>
<text x="1119.0" y="694.0" font-family="Liberation Sans, sans-serif" font-size="20" fill="#4d4d4d" text-anchor="start" font-weight="normal" font-style="italic" transform="rotate(-90 1119.0 694.0)" textLength="41" lengthAdjust="spacingAndGlyphs">80A</text>
<path d="M1106,705 L1106,732 M1112,705 l0,7 m0,3 l0,7 m0,3 l0,7" fill="none" stroke="#4d4d4d" stroke-width="1.6" />
<path d="M823.0,479.0 L948.0,462.0 L1128.0,498.0 L1212.0,490.0 L1426.0,537.0 L1252.0,553.5 L1174.0,550.0 L830.0,480.0Z" fill="#f2f2f2" stroke="#000" stroke-width="1.5" />
<path d="M830,480 L948,468 L1128,502 L1212,494 L1422,540" fill="none" stroke="#000" stroke-width="1.1" />
<path d="M1168.0,627.0 L1428.0,614.0 L1428.0,1121.0 L1168.0,1137.0Z" fill="#f2f2f2" stroke="#000" stroke-width="1.4" />
<path d="M1179,628 L1179,1136" fill="none" stroke="#000" stroke-width="2" />
<path d="M1238.0,624.0L1238.0,1130.0" fill="none" stroke="#000" stroke-width="1" />
<path d="M1247.7,624.0L1247.7,1130.0" fill="none" stroke="#000" stroke-width="1" />
<path d="M1334.6,618.0L1334.6,1124.0" fill="none" stroke="#333" stroke-width="0.9" />
<path d="M1360.0,618.0L1360.0,1124.0" fill="none" stroke="#333" stroke-width="0.9" />
<path d="M1384.0,618.0L1384.0,1124.0" fill="none" stroke="#333" stroke-width="0.9" />
<ellipse cx="1404.0" cy="679.0" rx="11.0" ry="19.0" fill="#f2f2f2" stroke="#000" stroke-width="1" transform="rotate(-5 1404.0 679.0)" />
<ellipse cx="1408.0" cy="678.0" rx="5.0" ry="10.0" fill="#f2f2f2" stroke="#000" stroke-width="0.9" transform="rotate(-5 1408.0 678.0)" />
<text x="1406.0" y="632.5" font-family="Liberation Sans, sans-serif" font-size="20" fill="#4d4d4d" text-anchor="start" font-weight="normal" font-style="italic" transform="rotate(-90 1406.0 632.5)" textLength="24" lengthAdjust="spacingAndGlyphs">A1</text>
<text x="1421.6" y="636.0" font-family="Liberation Sans, sans-serif" font-size="12.3" fill="#4d4d4d" text-anchor="start" font-weight="normal" font-style="italic" transform="rotate(-90 1421.6 636.0)" textLength="25" lengthAdjust="spacingAndGlyphs">RTN</text>
<path d="M1185.4,633.2 L1206,678.7 L1197.7,686.4" fill="none" stroke="#000" stroke-width="1.3" />
<path d="M1250,633 Q1258,655 1250,678 M1256,632 Q1266,655 1255,680 L1284,668 L1284,634 M1262,636 L1262,672 L1284,668 M1290,630 Q1300,655 1290,684 M1296,630 Q1306,655 1296,686" fill="none" stroke="#222" stroke-width="0.9" />
<path d="M1334.4,624.7 L1334.4,672.9 M1339,624 L1344.2,672" fill="none" stroke="#000" stroke-width="1" />
<path d="M1185.4,747.2 L1206,792.7 L1197.7,800.4" fill="none" stroke="#000" stroke-width="1.3" />
<path d="M1250,747 Q1258,769 1250,792 M1256,746 Q1266,769 1255,794 L1284,782 L1284,748 M1262,750 L1262,786 L1284,782 M1290,744 Q1300,769 1290,798 M1296,744 Q1306,769 1296,800" fill="none" stroke="#222" stroke-width="0.9" />
<path d="M1334.4,738.7 L1334.4,786.9 M1339,738 L1344.2,786" fill="none" stroke="#000" stroke-width="1" />
<path d="M1185.4,858.2 L1206,903.7 L1197.7,911.4" fill="none" stroke="#000" stroke-width="1.3" />
<path d="M1250,858 Q1258,880 1250,903 M1256,857 Q1266,880 1255,905 L1284,893 L1284,859 M1262,861 L1262,897 L1284,893 M1290,855 Q1300,880 1290,909 M1296,855 Q1306,880 1296,911" fill="none" stroke="#222" stroke-width="0.9" />
<path d="M1334.4,849.7 L1334.4,897.9 M1339,849 L1344.2,897" fill="none" stroke="#000" stroke-width="1" />
<path d="M1185.4,968.2 L1206,1013.7 L1197.7,1021.4" fill="none" stroke="#000" stroke-width="1.3" />
<path d="M1250,968 Q1258,990 1250,1013 M1256,967 Q1266,990 1255,1015 L1284,1003 L1284,969 M1262,971 L1262,1007 L1284,1003 M1290,965 Q1300,990 1290,1019 M1296,965 Q1306,990 1296,1021" fill="none" stroke="#222" stroke-width="0.9" />
<path d="M1334.4,959.7 L1334.4,1007.9 M1339,959 L1344.2,1007" fill="none" stroke="#000" stroke-width="1" />
<path d="M1252.0,553.5 L1426.0,537.5 L1426.0,614.0 L1252.0,619.0Z" fill="#f2f2f2" stroke="#000" stroke-width="1.4" />
<path d="M1174.0,550.0 L1208.0,547.0 L1252.0,553.5 L1252.0,619.0 L1174.0,614.0Z" fill="#f2f2f2" stroke="#000" stroke-width="1.5" />
<path d="M1208,547 L1208,612 L1174,614 M1208,612 L1252,619" fill="none" stroke="#000" stroke-width="1" />
<path d="M1174.0,614.0 L1216.0,636.0 L1428.0,623.0 L1428.0,614.0 L1252.0,619.0Z" fill="#f2f2f2" stroke="#000" stroke-width="1.3" />
<path d="M1174,614 L1174,550" fill="none" stroke="#000" stroke-width="1.5" />
<ellipse cx="1229.0" cy="588.0" rx="12.0" ry="20.0" fill="#f2f2f2" stroke="#000" stroke-width="1" transform="rotate(-5 1229.0 588.0)" />
<ellipse cx="1225.0" cy="587.5" rx="11.0" ry="18.0" fill="#f2f2f2" stroke="#000" stroke-width="1" transform="rotate(-5 1225.0 587.5)" />
<ellipse cx="1217.0" cy="586.0" rx="11.0" ry="15.5" fill="#f2f2f2" stroke="#000" stroke-width="1.3" transform="rotate(-5 1217.0 586.0)" />
<path d="M1215,573 l4,0 l0,9 l6,1 l0,6 l-6,-1 l0,10 l-4,-0.5 l0,-9 l-6,-1 l0,-6 l6,1 z" fill="none" stroke="#000" stroke-width="0.9" />
<path d="M1172.0,1097.0 L1250.0,1093.0 L1250.0,1129.0 L1172.0,1137.0Z" fill="#f2f2f2" stroke="#000" stroke-width="1.4" />
<path d="M1206,1095 L1206,1133" fill="none" stroke="#000" stroke-width="0.9" />
<ellipse cx="1229.0" cy="1112.0" rx="8.0" ry="13.0" fill="#f2f2f2" stroke="#000" stroke-width="0.9" transform="rotate(-5 1229.0 1112.0)" />
<ellipse cx="1224.0" cy="1112.0" rx="8.0" ry="13.0" fill="#f2f2f2" stroke="#000" stroke-width="0.9" transform="rotate(-5 1224.0 1112.0)" />
<ellipse cx="1209.0" cy="1111.5" rx="9.4" ry="13.4" fill="#f2f2f2" stroke="#000" stroke-width="1.2" transform="rotate(-5 1209.0 1111.5)" />
<path d="M1207,1100 l3.5,0 l0,8 l5,0.8 l0,5 l-5,-0.8 l0,9 l-3.5,-0.4 l0,-8 l-5,-0.8 l0,-5 l5,0.8 z" fill="none" stroke="#000" stroke-width="0.8" />
<path d="M1428.0,539.0 L1733.0,508.0 L1735.0,1063.0 L1460.0,1121.0 L1428.0,1121.0Z" fill="#f2f2f2" stroke="#000" stroke-width="2.2" /><path d="M1442,541 L1442,1118 M1453,560 L1453,1090" fill="none" stroke="#000" stroke-width="1.1" /><path d="M1442,549 L1728,518 L1728,1060" fill="none" stroke="#000" stroke-width="1.1" /><path d="M1484,1088 L1696,1067 M1453,1092 L1484,1088 M1462,1110 L1496,1108 L1500,1101 L1672,1085" fill="none" stroke="#000" stroke-width="1.2" /><use href="#hx" x="1464.2" y="573.8"/><use href="#hx" x="1487.9" y="571.4"/><use href="#hx" x="1476.1" y="597.8"/><use href="#hx" x="1618.3" y="583.4"/><use href="#hx" x="1464.2" y="624.2"/><use href="#hx" x="1487.9" y="621.8"/><use href="#hx" x="1630.1" y="607.4"/><use href="#hx" x="1476.1" y="648.2"/><use href="#hx" x="1618.3" y="633.8"/><use href="#hx" x="1464.2" y="674.6"/><use href="#hx" x="1487.9" y="672.2"/><use href="#hx" x="1511.6" y="669.8"/><use href="#hx" x="1630.1" y="657.8"/><use href="#hx" x="1476.1" y="698.6"/><use href="#hx" x="1499.8" y="696.2"/><use href="#hx" x="1594.6" y="686.6"/><use href="#hx" x="1618.3" y="684.2"/><use href="#hx" x="1642.0" y="681.8"/><use href="#hx" x="1665.7" y="679.4"/><use href="#hx" x="1689.4" y="677.0"/><use href="#hx" x="1464.2" y="725.0"/><use href="#hx" x="1487.9" y="722.6"/><use href="#hx" x="1511.6" y="720.2"/><use href="#hx" x="1606.4" y="710.6"/><use href="#hx" x="1630.1" y="708.2"/><use href="#hx" x="1653.8" y="705.8"/><use href="#hx" x="1677.5" y="703.4"/><use href="#hx" x="1701.2" y="701.0"/><use href="#hx" x="1499.8" y="746.6"/><use href="#hx" x="1618.3" y="734.6"/><use href="#hx" x="1642.0" y="732.2"/><use href="#hx" x="1665.7" y="729.8"/><use href="#hx" x="1689.4" y="727.4"/><use href="#hx" x="1606.4" y="761.0"/><use href="#hx" x="1630.1" y="758.6"/><use href="#hx" x="1653.8" y="756.2"/><use href="#hx" x="1677.5" y="753.8"/><use href="#hx" x="1464.2" y="825.8"/><use href="#hx" x="1476.1" y="849.8"/><use href="#hx" x="1499.8" y="847.4"/><use href="#hx" x="1523.5" y="845.0"/><use href="#hx" x="1547.2" y="842.6"/><use href="#hx" x="1464.2" y="876.2"/><use href="#hx" x="1487.9" y="873.8"/><use href="#hx" x="1511.6" y="871.4"/><use href="#hx" x="1535.3" y="869.0"/><use href="#hx" x="1606.4" y="861.8"/><use href="#hx" x="1630.1" y="859.4"/><use href="#hx" x="1653.8" y="857.0"/><use href="#hx" x="1677.5" y="854.6"/><use href="#hx" x="1701.2" y="852.2"/><use href="#hx" x="1476.1" y="900.2"/><use href="#hx" x="1499.8" y="897.8"/><use href="#hx" x="1523.5" y="895.4"/><use href="#hx" x="1594.6" y="888.2"/><use href="#hx" x="1618.3" y="885.8"/><use href="#hx" x="1642.0" y="883.4"/><use href="#hx" x="1665.7" y="881.0"/><use href="#hx" x="1689.4" y="878.6"/><use href="#hx" x="1464.2" y="926.6"/><use href="#hx" x="1487.9" y="924.2"/><use href="#hx" x="1511.6" y="921.8"/><use href="#hx" x="1535.3" y="919.4"/><use href="#hx" x="1559.0" y="917.0"/><use href="#hx" x="1606.4" y="912.2"/><use href="#hx" x="1630.1" y="909.8"/><use href="#hx" x="1653.8" y="907.4"/><use href="#hx" x="1677.5" y="905.0"/><use href="#hx" x="1701.2" y="902.6"/><use href="#hx" x="1476.1" y="950.6"/><use href="#hx" x="1499.8" y="948.2"/><use href="#hx" x="1523.5" y="945.8"/><use href="#hx" x="1547.2" y="943.4"/><use href="#hx" x="1570.9" y="941.0"/><use href="#hx" x="1594.6" y="938.6"/><use href="#hx" x="1618.3" y="936.2"/><use href="#hx" x="1642.0" y="933.8"/><use href="#hx" x="1665.7" y="931.4"/><use href="#hx" x="1689.4" y="929.0"/><use href="#hx" x="1464.2" y="977.0"/><use href="#hx" x="1487.9" y="974.6"/><use href="#hx" x="1511.6" y="972.2"/><use href="#hx" x="1535.3" y="969.8"/><use href="#hx" x="1559.0" y="967.4"/><use href="#hx" x="1582.7" y="965.0"/><use href="#hx" x="1606.4" y="962.6"/><use href="#hx" x="1630.1" y="960.2"/><use href="#hx" x="1653.8" y="957.8"/><use href="#hx" x="1677.5" y="955.4"/><use href="#hx" x="1701.2" y="953.0"/><use href="#hx" x="1476.1" y="1001.0"/><use href="#hx" x="1499.8" y="998.6"/><use href="#hx" x="1523.5" y="996.2"/><use href="#hx" x="1547.2" y="993.8"/><use href="#hx" x="1570.9" y="991.4"/><use href="#hx" x="1594.6" y="989.0"/><use href="#hx" x="1618.3" y="986.6"/><use href="#hx" x="1642.0" y="984.2"/><use href="#hx" x="1665.7" y="981.8"/><use href="#hx" x="1689.4" y="979.4"/><use href="#hx" x="1464.2" y="1027.4"/><use href="#hx" x="1487.9" y="1025.0"/><use href="#hx" x="1511.6" y="1022.6"/><use href="#hx" x="1535.3" y="1020.2"/><use href="#hx" x="1559.0" y="1017.8"/><use href="#hx" x="1582.7" y="1015.4"/><use href="#hx" x="1606.4" y="1013.0"/><use href="#hx" x="1630.1" y="1010.6"/><use href="#hx" x="1653.8" y="1008.2"/><use href="#hx" x="1677.5" y="1005.8"/><use href="#hx" x="1701.2" y="1003.4"/><use href="#hxR" x="1452.4" y="600.2"/><use href="#hxL" x="1499.8" y="595.4"/><use href="#hxR" x="1452.4" y="650.6"/><use href="#hxL" x="1499.8" y="645.8"/><use href="#hxR" x="1452.4" y="701.0"/><use href="#hxL" x="1713.1" y="725.0"/><use href="#hxR" x="1452.4" y="852.2"/><use href="#hxR" x="1452.4" y="902.6"/><use href="#hxL" x="1713.1" y="876.2"/><use href="#hxR" x="1452.4" y="953.0"/><use href="#hxL" x="1713.1" y="926.6"/><use href="#hxR" x="1452.4" y="1003.4"/><use href="#hxL" x="1713.1" y="977.0"/><path d="M1531.0,549.0 L1604.0,543.0 L1604.0,643.0 L1531.0,655.0Z" fill="#f2f2f2" stroke="#000" stroke-width="1.6" /><path d="M1535.0,553.0 L1600.0,548.0 L1600.0,640.0 L1535.0,650.0Z" fill="#f2f2f2" stroke="#000" stroke-width="1" /><path d="M1545.0,556.0 L1596.0,552.0 L1596.0,636.0 L1545.0,644.0Z" fill="#f2f2f2" stroke="#000" stroke-width="1" /><path d="M1600,548 L1608,552 L1608,640 L1604,643" fill="none" stroke="#000" stroke-width="1" /><path d="M1556.0,559.0 L1584.0,556.5 L1584.0,567.5 L1556.0,570.0Z" fill="#f2f2f2" stroke="#000" stroke-width="1" /><path d="M1568.0,558.0L1568.0,569.0" fill="none" stroke="#000" stroke-width="0.9" /><path d="M1570.5,557.8L1570.5,568.8" fill="none" stroke="#000" stroke-width="0.7" /><path d="M1556.0,576.3 L1584.0,573.8 L1584.0,584.8 L1556.0,587.3Z" fill="#f2f2f2" stroke="#000" stroke-width="1" /><path d="M1568.0,575.3L1568.0,586.3" fill="none" stroke="#000" stroke-width="0.9" /><path d="M1570.5,575.1L1570.5,586.1" fill="none" stroke="#000" stroke-width="0.7" /><path d="M1556.0,593.6 L1584.0,591.1 L1584.0,602.1 L1556.0,604.6Z" fill="#f2f2f2" stroke="#000" stroke-width="1" /><path d="M1568.0,592.6L1568.0,603.6" fill="none" stroke="#000" stroke-width="0.9" /><path d="M1570.5,592.4L1570.5,603.4" fill="none" stroke="#000" stroke-width="0.7" /><path d="M1556.0,610.9 L1584.0,608.4 L1584.0,619.4 L1556.0,621.9Z" fill="#f2f2f2" stroke="#000" stroke-width="1" /><path d="M1568.0,609.9L1568.0,620.9" fill="none" stroke="#000" stroke-width="0.9" /><path d="M1570.5,609.7L1570.5,620.7" fill="none" stroke="#000" stroke-width="0.7" /><path d="M1556.0,628.2 L1584.0,625.7 L1584.0,636.7 L1556.0,639.2Z" fill="#f2f2f2" stroke="#000" stroke-width="1" /><path d="M1568.0,627.2L1568.0,638.2" fill="none" stroke="#000" stroke-width="0.9" /><path d="M1570.5,627.0L1570.5,638.0" fill="none" stroke="#000" stroke-width="0.7" /><text x="1501.0" y="568.4" font-family="Liberation Sans, sans-serif" font-size="12.8" fill="#111" text-anchor="start" font-weight="normal" transform="rotate(-4 1501.0 568.4)" textLength="22" lengthAdjust="spacingAndGlyphs">80A</text><text x="1506.6" y="586.0" font-family="Liberation Sans, sans-serif" font-size="12.8" fill="#111" text-anchor="start" font-weight="normal" transform="rotate(-4 1506.6 586.0)" textLength="14" lengthAdjust="spacingAndGlyphs">B1</text><text x="1506.6" y="604.0" font-family="Liberation Sans, sans-serif" font-size="12.8" fill="#111" text-anchor="start" font-weight="normal" transform="rotate(-4 1506.6 604.0)" textLength="14" lengthAdjust="spacingAndGlyphs">B0</text><text x="1506.6" y="622.0" font-family="Liberation Sans, sans-serif" font-size="12.8" fill="#111" text-anchor="start" font-weight="normal" transform="rotate(-4 1506.6 622.0)" textLength="14" lengthAdjust="spacingAndGlyphs">A1</text><text x="1506.6" y="638.0" font-family="Liberation Sans, sans-serif" font-size="12.8" fill="#111" text-anchor="start" font-weight="normal" transform="rotate(-4 1506.6 638.0)" textLength="14" lengthAdjust="spacingAndGlyphs">A0</text><text x="1611.5" y="558.5" font-family="Liberation Sans, sans-serif" font-size="12.8" fill="#111" text-anchor="start" font-weight="normal" transform="rotate(-4 1611.5 558.5)" textLength="22.5" lengthAdjust="spacingAndGlyphs">60A</text><path d="M1733,506 L1737,509 L1737,1000" fill="none" stroke="#000" stroke-width="2.6" /><path d="M1656,538 L1737,531 Q1745,530.5 1745,538 L1745,654 Q1745,661 1738,662 L1656,669.5 Q1648,670 1648,662 L1648,546 Q1648,539 1656,538 Z" fill="#f2f2f2" stroke="#000" stroke-width="2.8" /><path d="M1675,545 L1733,541 Q1738.7,541 1738.7,546 L1738.7,652 Q1738.7,657.5 1733,658 L1675,665 Q1668.8,665.5 1668.8,660 L1668.8,551 Q1668.8,545.5 1675,545Z" fill="#f2f2f2" stroke="#000" stroke-width="1.3" /><path d="M1681,550.5 L1731,546.5 Q1736,546.5 1736,551 L1736,647 Q1736,652 1731,652.5 L1681,660.5 Q1676,661 1676,656 L1676,555 Q1676,550.5 1681,550.5Z" fill="#f2f2f2" stroke="#000" stroke-width="1.3" /><path d="M1711,548 L1711.5,643.7 M1714.5,548 L1714.5,646 M1677,645.4 L1711.8,643.7 M1714.5,646.3 L1736,651.7 M1677,633 L1709,628.4" fill="none" stroke="#000" stroke-width="0.9" /><path d="M1677.0,569.3 L1707.3,567.5 L1716.3,613.2 L1709.0,628.4 L1677.0,633.0Z" fill="#f2f2f2" stroke="#000" stroke-width="1.4" /><path d="M1677,569.3 L1682.3,618.6 L1716.3,613.2 M1682.3,618.6 L1677,633" fill="none" stroke="#000" stroke-width="0.9" /><path d="M1690,573 L1692.5,585" fill="none" stroke="#555" stroke-width="2" /><path d="M1692.5,596 A6,6.3 0 1 0 1701,594.5 M1696.3,590 L1697.5,600" fill="none" stroke="#555" stroke-width="2"/><path d="M1543,661 L1559,669 L1562,691 L1549,705 L1534,697 L1530,675 Z" fill="#f2f2f2" stroke="#000" stroke-width="1.1" /><ellipse cx="1546.0" cy="683.0" rx="11.5" ry="16.0" fill="#f2f2f2" stroke="#000" stroke-width="1.1" /><path d="M1558,864 L1574,872 L1577,894 L1564,908 L1549,900 L1545,878 Z" fill="#f2f2f2" stroke="#000" stroke-width="1.1" /><ellipse cx="1561.0" cy="886.0" rx="11.5" ry="16.0" fill="#f2f2f2" stroke="#000" stroke-width="1.1" /><path d="M1535,711 L1543,728 L1528,730 Z" fill="none" stroke="#888" stroke-width="1.1" /><path d="M1535.5,716.0L1536.0,724.0" fill="none" stroke="#888" stroke-width="1.2" /><text x="1562.0" y="719.0" font-family="Liberation Sans, sans-serif" font-size="12.5" fill="#111" text-anchor="start" font-weight="normal" font-style="italic" transform="rotate(-6 1562.0 719.0)" textLength="16" lengthAdjust="spacingAndGlyphs">OK</text><ellipse cx="1550.0" cy="737.0" rx="9.5" ry="10.5" fill="#f2f2f2" stroke="#000" stroke-width="1.2" /><path d="M1543,740 A8,9 0 0 0 1556,743" fill="none" stroke="#000" stroke-width="0.8" /><ellipse cx="1585.0" cy="734.0" rx="9.5" ry="10.5" fill="#f2f2f2" stroke="#000" stroke-width="1.2" /><path d="M1578,737 A8,9 0 0 0 1591,740" fill="none" stroke="#000" stroke-width="0.8" /><ellipse cx="1584.0" cy="771.0" rx="9.5" ry="10.5" fill="#f2f2f2" stroke="#000" stroke-width="1.2" /><ellipse cx="1500.0" cy="1043.0" rx="6.0" ry="9.0" fill="#f2f2f2" stroke="#000" stroke-width="1.1" /><path d="M1502,1036 Q1506,1043 1502,1051 M1500,1035 Q1503,1043 1500,1052" fill="none" stroke="#000" stroke-width="0.7" /><path d="M1452,770 Q1458,757 1474,756.5 C1500,760 1540,771 1580,775 C1610,776 1640,773 1672,769 C1672,752 1686,734 1705,733 L1790,748 Q1826,756 1826,786 Q1826,818 1795,826 L1700,835 Q1600,842 1530,832 Q1495,826 1452,805 Z" fill="#f2f2f2" stroke="#000" stroke-width="2.6" /><path d="M1674,765 Q1720,763 1776,757.5 Q1780,756 1781,754" fill="none" stroke="#000" stroke-width="1" />
<path d="M345,948 L1172,1128" fill="none" stroke="#000" stroke-width="1" />
<path d="M333,952 L1172,1137 L1172,1091" fill="none" stroke="#000" stroke-width="2.4" />
<path d="M1168,1137 L1428,1121" fill="none" stroke="#000" stroke-width="2" />
<g transform="translate(0,335)"><ellipse cx="1338.0" cy="698.0" rx="13.0" ry="30.0" fill="#f2f2f2" stroke="#000" stroke-width="2.16" transform="rotate(-38 1338.0 698.0)" /><path d="M1335,700 L1372,735 C1400,762 1445,800 1445,844 C1445,890 1400,925 1355,937 C1325,944 1298,943 1271,946 L120,1077" fill="none" stroke="#000" stroke-width="60" stroke-linecap="butt" stroke-linejoin="round"/><path d="M1335,700 L1372,735 C1400,762 1445,800 1445,844 C1445,890 1400,925 1355,937 C1325,944 1298,943 1271,946 L120,1077" fill="none" stroke="#f2f2f2" stroke-width="54.6" stroke-linecap="butt" stroke-linejoin="round"/><ellipse cx="1210.0" cy="705.0" rx="17.0" ry="29.5" fill="#f2f2f2" stroke="#000" stroke-width="1.62" transform="rotate(-12 1210.0 705.0)" /><path d="M1193.8,631.2 L1218.6,675.5" fill="none" stroke="#000" stroke-width="1.62" /><path d="M1178,708.7 L1197.7,732.8" fill="none" stroke="#000" stroke-width="2.7" /><path d="M1344.8,622.8 L1359,676" fill="none" stroke="#000" stroke-width="2.7" /><path d="M1209,705 L1280,720 C1320,727 1365,745 1383,762 C1398,776 1392,790 1378,796 C1350,808 1310,819 1275,823 L120,957" fill="none" stroke="#000" stroke-width="60" stroke-linecap="butt" stroke-linejoin="round"/><path d="M1209,705 L1280,720 C1320,727 1365,745 1383,762 C1398,776 1392,790 1378,796 C1350,808 1310,819 1275,823 L120,957" fill="none" stroke="#f2f2f2" stroke-width="54.6" stroke-linecap="butt" stroke-linejoin="round"/><path d="M1272,691.5 Q1262,705 1266,722 Q1269,738 1278,748" fill="none" stroke="#000" stroke-width="1.215" /><path d="M1276,692.5 Q1266,706 1270,722 Q1273,738 1282,748" fill="none" stroke="#000" stroke-width="1.215" /><path d="M1347,771 Q1354,768 1358,762" fill="none" stroke="#000" stroke-width="1.35" /></g><g transform="translate(0,225)"><ellipse cx="1338.0" cy="698.0" rx="13.0" ry="30.0" fill="#f2f2f2" stroke="#000" stroke-width="2.16" transform="rotate(-38 1338.0 698.0)" /><path d="M1335,700 L1372,735 C1400,762 1445,800 1445,844 C1445,890 1400,925 1355,937 C1325,944 1298,943 1271,946 L120,1077" fill="none" stroke="#000" stroke-width="60" stroke-linecap="butt" stroke-linejoin="round"/><path d="M1335,700 L1372,735 C1400,762 1445,800 1445,844 C1445,890 1400,925 1355,937 C1325,944 1298,943 1271,946 L120,1077" fill="none" stroke="#f2f2f2" stroke-width="54.6" stroke-linecap="butt" stroke-linejoin="round"/><ellipse cx="1210.0" cy="705.0" rx="17.0" ry="29.5" fill="#f2f2f2" stroke="#000" stroke-width="1.62" transform="rotate(-12 1210.0 705.0)" /><path d="M1193.8,631.2 L1218.6,675.5" fill="none" stroke="#000" stroke-width="1.62" /><path d="M1178,708.7 L1197.7,732.8" fill="none" stroke="#000" stroke-width="2.7" /><path d="M1344.8,622.8 L1359,676" fill="none" stroke="#000" stroke-width="2.7" /><path d="M1209,705 L1280,720 C1320,727 1365,745 1383,762 C1398,776 1392,790 1378,796 C1350,808 1310,819 1275,823 L120,957" fill="none" stroke="#000" stroke-width="60" stroke-linecap="butt" stroke-linejoin="round"/><path d="M1209,705 L1280,720 C1320,727 1365,745 1383,762 C1398,776 1392,790 1378,796 C1350,808 1310,819 1275,823 L120,957" fill="none" stroke="#f2f2f2" stroke-width="54.6" stroke-linecap="butt" stroke-linejoin="round"/><path d="M1272,691.5 Q1262,705 1266,722 Q1269,738 1278,748" fill="none" stroke="#000" stroke-width="1.215" /><path d="M1276,692.5 Q1266,706 1270,722 Q1273,738 1282,748" fill="none" stroke="#000" stroke-width="1.215" /><path d="M1347,771 Q1354,768 1358,762" fill="none" stroke="#000" stroke-width="1.35" /></g><g transform="translate(0,114)"><ellipse cx="1338.0" cy="698.0" rx="13.0" ry="30.0" fill="#f2f2f2" stroke="#000" stroke-width="2.16" transform="rotate(-38 1338.0 698.0)" /><path d="M1335,700 L1372,735 C1400,762 1445,800 1445,844 C1445,890 1400,925 1355,937 C1325,944 1298,943 1271,946 L120,1077" fill="none" stroke="#000" stroke-width="60" stroke-linecap="butt" stroke-linejoin="round"/><path d="M1335,700 L1372,735 C1400,762 1445,800 1445,844 C1445,890 1400,925 1355,937 C1325,944 1298,943 1271,946 L120,1077" fill="none" stroke="#f2f2f2" stroke-width="54.6" stroke-linecap="butt" stroke-linejoin="round"/><ellipse cx="1210.0" cy="705.0" rx="17.0" ry="29.5" fill="#f2f2f2" stroke="#000" stroke-width="1.62" transform="rotate(-12 1210.0 705.0)" /><path d="M1193.8,631.2 L1218.6,675.5" fill="none" stroke="#000" stroke-width="1.62" /><path d="M1178,708.7 L1197.7,732.8" fill="none" stroke="#000" stroke-width="2.7" /><path d="M1344.8,622.8 L1359,676" fill="none" stroke="#000" stroke-width="2.7" /><path d="M1209,705 L1280,720 C1320,727 1365,745 1383,762 C1398,776 1392,790 1378,796 C1350,808 1310,819 1275,823 L120,957" fill="none" stroke="#000" stroke-width="60" stroke-linecap="butt" stroke-linejoin="round"/><path d="M1209,705 L1280,720 C1320,727 1365,745 1383,762 C1398,776 1392,790 1378,796 C1350,808 1310,819 1275,823 L120,957" fill="none" stroke="#f2f2f2" stroke-width="54.6" stroke-linecap="butt" stroke-linejoin="round"/><path d="M1272,691.5 Q1262,705 1266,722 Q1269,738 1278,748" fill="none" stroke="#000" stroke-width="1.215" /><path d="M1276,692.5 Q1266,706 1270,722 Q1273,738 1282,748" fill="none" stroke="#000" stroke-width="1.215" /><path d="M1347,771 Q1354,768 1358,762" fill="none" stroke="#000" stroke-width="1.35" /></g><g transform="translate(0,0)"><ellipse cx="1338.0" cy="698.0" rx="13.0" ry="30.0" fill="#f2f2f2" stroke="#000" stroke-width="2.16" transform="rotate(-38 1338.0 698.0)" /><path d="M1335,700 L1372,735 C1400,762 1445,800 1445,844 C1445,890 1400,925 1355,937 C1325,944 1298,943 1271,946 L120,1077" fill="none" stroke="#000" stroke-width="60" stroke-linecap="butt" stroke-linejoin="round"/><path d="M1335,700 L1372,735 C1400,762 1445,800 1445,844 C1445,890 1400,925 1355,937 C1325,944 1298,943 1271,946 L120,1077" fill="none" stroke="#f2f2f2" stroke-width="54.6" stroke-linecap="butt" stroke-linejoin="round"/><ellipse cx="1210.0" cy="705.0" rx="17.0" ry="29.5" fill="#f2f2f2" stroke="#000" stroke-width="1.62" transform="rotate(-12 1210.0 705.0)" /><path d="M1193.8,631.2 L1218.6,675.5" fill="none" stroke="#000" stroke-width="2.7" /><path d="M1178,708.7 L1197.7,732.8" fill="none" stroke="#000" stroke-width="2.7" /><path d="M1344.8,622.8 L1359,676" fill="none" stroke="#000" stroke-width="2.7" /><path d="M1209,705 L1280,720 C1320,727 1365,745 1383,762 C1398,776 1392,790 1378,796 C1350,808 1310,819 1275,823 L120,957" fill="none" stroke="#000" stroke-width="60" stroke-linecap="butt" stroke-linejoin="round"/><path d="M1209,705 L1280,720 C1320,727 1365,745 1383,762 C1398,776 1392,790 1378,796 C1350,808 1310,819 1275,823 L120,957" fill="none" stroke="#f2f2f2" stroke-width="54.6" stroke-linecap="butt" stroke-linejoin="round"/><path d="M1272,691.5 Q1262,705 1266,722 Q1269,738 1278,748" fill="none" stroke="#000" stroke-width="1.215" /><path d="M1276,692.5 Q1266,706 1270,722 Q1273,738 1282,748" fill="none" stroke="#000" stroke-width="1.215" /><path d="M1347,771 Q1354,768 1358,762" fill="none" stroke="#000" stroke-width="1.35" /></g>
<rect x="0" y="0" width="260" height="2220" fill="url(#wL)"/>
<rect x="2075" y="290" width="925" height="480" fill="url(#wR2)"/>
<rect x="2085" y="770" width="915" height="1450" fill="url(#wR)"/>
<rect x="2180" y="0" width="820" height="300" fill="#fff"/>
<rect x="0" y="1930" width="3000" height="290" fill="url(#wB)"/>
<circle cx="1759" cy="1047" r="155" fill="none" stroke="#fff" stroke-width="4"/>
<path d="M1620,1078 L1696,1068 L1696,1010 Q1698,1000 1712,997 L1735,995 Q1746,995 1746,1006 L1746,1082 Q1746,1090 1738,1092 L1708,1100 Q1700,1101 1690,1100 L1648,1090 Z" fill="#cccccc" stroke="#000" stroke-width="2.4" /><path d="M1636,1082 L1704,1087 L1706,1020 Q1707,1008 1718,1004" fill="none" stroke="#000" stroke-width="1.1" /><path d="M1722,1012 L1746,1010 L1746,1066 L1722,1066 Q1712,1064 1712,1040 Q1712,1016 1722,1012Z" fill="#cccccc" stroke="#000" stroke-width="2" /><path d="M1755,1007 L1800,1012 Q1813,1016 1813,1046 Q1813,1078 1798,1082 L1755,1076 Q1742,1070 1742,1040 Q1742,1012 1755,1007 Z" fill="#bdbdbd" stroke="#000" stroke-width="2.4" /><path d="M1748.0,1010.0 L1748.0,1074.0" fill="none" stroke="#333" stroke-width="0.8" /><path d="M1751.2,1010.3 L1751.2,1074.4" fill="none" stroke="#333" stroke-width="0.8" /><path d="M1754.4,1010.6 L1754.4,1074.8" fill="none" stroke="#333" stroke-width="0.8" /><path d="M1757.6,1010.9 L1757.6,1075.2" fill="none" stroke="#333" stroke-width="0.8" /><path d="M1760.8,1011.2 L1760.8,1075.6" fill="none" stroke="#333" stroke-width="0.8" /><path d="M1764.0,1011.5 L1764.0,1076.0" fill="none" stroke="#333" stroke-width="0.8" /><path d="M1767.2,1011.8 L1767.2,1076.4" fill="none" stroke="#333" stroke-width="0.8" /><path d="M1770.4,1012.1 L1770.4,1076.8" fill="none" stroke="#333" stroke-width="0.8" /><path d="M1773.6,1012.4 L1773.6,1077.2" fill="none" stroke="#333" stroke-width="0.8" /><path d="M1776.8,1012.7 L1776.8,1077.6" fill="none" stroke="#333" stroke-width="0.8" /><path d="M1780.0,1013.0 L1780.0,1078.0" fill="none" stroke="#333" stroke-width="0.8" /><path d="M1783.2,1013.3 L1783.2,1078.4" fill="none" stroke="#333" stroke-width="0.8" /><path d="M1786.4,1013.6 L1786.4,1078.8" fill="none" stroke="#333" stroke-width="0.8" /><ellipse cx="1797.0" cy="1047.0" rx="15.0" ry="34.0" fill="#cccccc" stroke="#000" stroke-width="1.6" transform="rotate(-3 1797.0 1047.0)" /><ellipse cx="1798.0" cy="1047.0" rx="11.0" ry="26.0" fill="none" stroke="#000" stroke-width="1" transform="rotate(-3 1798.0 1047.0)" /><path d="M1795,1026 l5,0 l0,15 l8,1 l0,8 l-8,-1 l0,17 l-5,0 l0,-17 l-7,-1 l0,-8 l7,1 z" fill="#cccccc" stroke="#000" stroke-width="1" />
<circle cx="1759" cy="1047" r="148" fill="none" stroke="#8fac40" stroke-width="9"/>
<path d="M1691,1141 L1723,1122 L1723,1132 Q1765,1136 1801,1131 L1801,1156 Q1765,1162 1723,1159 L1723,1169 Z" fill="#8fac40" stroke="none" stroke-width="0" />
<path d="M1837.0,812.0 L1955.0,742.0 L1955.0,790.0 L2083.0,816.0 L2083.0,911.0 L1955.0,885.0 L1955.0,937.0Z" fill="#8fac40" stroke="#fff" stroke-width="10" stroke-linejoin="miter"/>
<path d="M1837.0,812.0 L1955.0,742.0 L1955.0,790.0 L2083.0,816.0 L2083.0,911.0 L1955.0,885.0 L1955.0,937.0Z" fill="#8fac40" stroke="none" stroke-width="0" />
<clipPath id="bigc"><circle cx="2485" cy="1124.5" r="318"/></clipPath>
<g clip-path="url(#bigc)"><circle cx="2485" cy="1124.5" r="318" fill="#fff"/><path d="M2202,800 L2200,1260 M2217,800 L2215,1300 M2250,800 L2248,1330" fill="none" stroke="#111" stroke-width="1.3" /><path d="M2178,1172 L2198,1165 L2178,1158 M2178,1152 L2198,1145 L2178,1138" fill="none" stroke="#555" stroke-width="2.2" /><g transform="translate(2284.8,879.0)"><path d="M1,-37 L27.5,-22 L27.5,14 L1,37 L-27,23 L-27,-14.5 Z" fill="#fff" stroke="#111" stroke-width="1.6"/><path d="M16.8,-28.5 L16.8,7.2 L-7.2,29.4" fill="none" stroke="#111" stroke-width="1.3"/></g><g transform="translate(2355.3,870.8)"><path d="M1,-37 L27.5,-22 L27.5,14 L1,37 L-27,23 L-27,-14.5 Z" fill="#fff" stroke="#111" stroke-width="1.6"/><path d="M16.8,-28.5 L16.8,7.2 L-7.2,29.4" fill="none" stroke="#111" stroke-width="1.3"/></g><g transform="translate(2425.8,862.6)"><path d="M1,-37 L27.5,-22 L27.5,14 L1,37 L-27,23 L-27,-14.5 Z" fill="#fff" stroke="#111" stroke-width="1.6"/><path d="M16.8,-28.5 L16.8,7.2 L-7.2,29.4" fill="none" stroke="#111" stroke-width="1.3"/></g><g transform="translate(2496.3,854.4)"><path d="M1,-37 L27.5,-22 L27.5,14 L1,37 L-27,23 L-27,-14.5 Z" fill="#fff" stroke="#111" stroke-width="1.6"/><path d="M16.8,-28.5 L16.8,7.2 L-7.2,29.4" fill="none" stroke="#111" stroke-width="1.3"/></g><g transform="translate(2566.8,846.2)"><path d="M1,-37 L27.5,-22 L27.5,14 L1,37 L-27,23 L-27,-14.5 Z" fill="#fff" stroke="#111" stroke-width="1.6"/><path d="M16.8,-28.5 L16.8,7.2 L-7.2,29.4" fill="none" stroke="#111" stroke-width="1.3"/></g><g transform="translate(2637.3,838.0)"><path d="M1,-37 L27.5,-22 L27.5,14 L1,37 L-27,23 L-27,-14.5 Z" fill="#fff" stroke="#111" stroke-width="1.6"/><path d="M16.8,-28.5 L16.8,7.2 L-7.2,29.4" fill="none" stroke="#111" stroke-width="1.3"/></g><g transform="translate(2707.8,829.8)"><path d="M1,-37 L27.5,-22 L27.5,14 L1,37 L-27,23 L-27,-14.5 Z" fill="#fff" stroke="#111" stroke-width="1.6"/><path d="M16.8,-28.5 L16.8,7.2 L-7.2,29.4" fill="none" stroke="#111" stroke-width="1.3"/></g><g transform="translate(2778.3,821.6)"><path d="M1,-37 L27.5,-22 L27.5,14 L1,37 L-27,23 L-27,-14.5 Z" fill="#fff" stroke="#111" stroke-width="1.6"/><path d="M16.8,-28.5 L16.8,7.2 L-7.2,29.4" fill="none" stroke="#111" stroke-width="1.3"/></g><g transform="translate(2848.8,813.4)"><path d="M1,-37 L27.5,-22 L27.5,14 L1,37 L-27,23 L-27,-14.5 Z" fill="#fff" stroke="#111" stroke-width="1.6"/><path d="M16.8,-28.5 L16.8,7.2 L-7.2,29.4" fill="none" stroke="#111" stroke-width="1.3"/></g><g transform="translate(2919.3,805.2)"><path d="M1,-37 L27.5,-22 L27.5,14 L1,37 L-27,23 L-27,-14.5 Z" fill="#fff" stroke="#111" stroke-width="1.6"/><path d="M16.8,-28.5 L16.8,7.2 L-7.2,29.4" fill="none" stroke="#111" stroke-width="1.3"/></g><g transform="translate(2989.8,797.0)"><path d="M1,-37 L27.5,-22 L27.5,14 L1,37 L-27,23 L-27,-14.5 Z" fill="#fff" stroke="#111" stroke-width="1.6"/><path d="M16.8,-28.5 L16.8,7.2 L-7.2,29.4" fill="none" stroke="#111" stroke-width="1.3"/></g><g transform="translate(2320.0,952.0)"><path d="M1,-37 L27.5,-22 L27.5,14 L1,37 L-27,23 L-27,-14.5 Z" fill="#fff" stroke="#111" stroke-width="1.6"/><path d="M16.8,-28.5 L16.8,7.2 L-7.2,29.4" fill="none" stroke="#111" stroke-width="1.3"/></g><g transform="translate(2390.5,943.8)"><path d="M1,-37 L27.5,-22 L27.5,14 L1,37 L-27,23 L-27,-14.5 Z" fill="#fff" stroke="#111" stroke-width="1.6"/><path d="M16.8,-28.5 L16.8,7.2 L-7.2,29.4" fill="none" stroke="#111" stroke-width="1.3"/></g><g transform="translate(2461.0,935.6)"><path d="M1,-37 L27.5,-22 L27.5,14 L1,37 L-27,23 L-27,-14.5 Z" fill="#fff" stroke="#111" stroke-width="1.6"/><path d="M16.8,-28.5 L16.8,7.2 L-7.2,29.4" fill="none" stroke="#111" stroke-width="1.3"/></g><g transform="translate(2531.5,927.4)"><path d="M1,-37 L27.5,-22 L27.5,14 L1,37 L-27,23 L-27,-14.5 Z" fill="#fff" stroke="#111" stroke-width="1.6"/><path d="M16.8,-28.5 L16.8,7.2 L-7.2,29.4" fill="none" stroke="#111" stroke-width="1.3"/></g><g transform="translate(2602.0,919.2)"><path d="M1,-37 L27.5,-22 L27.5,14 L1,37 L-27,23 L-27,-14.5 Z" fill="#fff" stroke="#111" stroke-width="1.6"/><path d="M16.8,-28.5 L16.8,7.2 L-7.2,29.4" fill="none" stroke="#111" stroke-width="1.3"/></g><g transform="translate(2672.5,911.0)"><path d="M1,-37 L27.5,-22 L27.5,14 L1,37 L-27,23 L-27,-14.5 Z" fill="#fff" stroke="#111" stroke-width="1.6"/><path d="M16.8,-28.5 L16.8,7.2 L-7.2,29.4" fill="none" stroke="#111" stroke-width="1.3"/></g><g transform="translate(2743.0,902.8)"><path d="M1,-37 L27.5,-22 L27.5,14 L1,37 L-27,23 L-27,-14.5 Z" fill="#fff" stroke="#111" stroke-width="1.6"/><path d="M16.8,-28.5 L16.8,7.2 L-7.2,29.4" fill="none" stroke="#111" stroke-width="1.3"/></g><g transform="translate(2813.5,894.6)"><path d="M1,-37 L27.5,-22 L27.5,14 L1,37 L-27,23 L-27,-14.5 Z" fill="#fff" stroke="#111" stroke-width="1.6"/><path d="M16.8,-28.5 L16.8,7.2 L-7.2,29.4" fill="none" stroke="#111" stroke-width="1.3"/></g><g transform="translate(2884.0,886.4)"><path d="M1,-37 L27.5,-22 L27.5,14 L1,37 L-27,23 L-27,-14.5 Z" fill="#fff" stroke="#111" stroke-width="1.6"/><path d="M16.8,-28.5 L16.8,7.2 L-7.2,29.4" fill="none" stroke="#111" stroke-width="1.3"/></g><g transform="translate(2954.5,878.2)"><path d="M1,-37 L27.5,-22 L27.5,14 L1,37 L-27,23 L-27,-14.5 Z" fill="#fff" stroke="#111" stroke-width="1.6"/><path d="M16.8,-28.5 L16.8,7.2 L-7.2,29.4" fill="none" stroke="#111" stroke-width="1.3"/></g><g transform="translate(2284.8,1033.2)"><path d="M1,-37 L27.5,-22 L27.5,14 L1,37 L-27,23 L-27,-14.5 Z" fill="#fff" stroke="#111" stroke-width="1.6"/><path d="M16.8,-28.5 L16.8,7.2 L-7.2,29.4" fill="none" stroke="#111" stroke-width="1.3"/></g><g transform="translate(2355.3,1025.0)"><path d="M1,-37 L27.5,-22 L27.5,14 L1,37 L-27,23 L-27,-14.5 Z" fill="#fff" stroke="#111" stroke-width="1.6"/><path d="M16.8,-28.5 L16.8,7.2 L-7.2,29.4" fill="none" stroke="#111" stroke-width="1.3"/></g><g transform="translate(2425.8,1016.8)"><path d="M1,-37 L27.5,-22 L27.5,14 L1,37 L-27,23 L-27,-14.5 Z" fill="#fff" stroke="#111" stroke-width="1.6"/><path d="M16.8,-28.5 L16.8,7.2 L-7.2,29.4" fill="none" stroke="#111" stroke-width="1.3"/></g><g transform="translate(2496.3,1008.6)"><path d="M1,-37 L27.5,-22 L27.5,14 L1,37 L-27,23 L-27,-14.5 Z" fill="#fff" stroke="#111" stroke-width="1.6"/><path d="M16.8,-28.5 L16.8,7.2 L-7.2,29.4" fill="none" stroke="#111" stroke-width="1.3"/></g><g transform="translate(2566.8,1000.4)"><path d="M1,-37 L27.5,-22 L27.5,14 L1,37 L-27,23 L-27,-14.5 Z" fill="#fff" stroke="#111" stroke-width="1.6"/><path d="M16.8,-28.5 L16.8,7.2 L-7.2,29.4" fill="none" stroke="#111" stroke-width="1.3"/></g><g transform="translate(2637.3,992.2)"><path d="M1,-37 L27.5,-22 L27.5,14 L1,37 L-27,23 L-27,-14.5 Z" fill="#fff" stroke="#111" stroke-width="1.6"/><path d="M16.8,-28.5 L16.8,7.2 L-7.2,29.4" fill="none" stroke="#111" stroke-width="1.3"/></g><g transform="translate(2707.8,984.0)"><path d="M1,-37 L27.5,-22 L27.5,14 L1,37 L-27,23 L-27,-14.5 Z" fill="#fff" stroke="#111" stroke-width="1.6"/><path d="M16.8,-28.5 L16.8,7.2 L-7.2,29.4" fill="none" stroke="#111" stroke-width="1.3"/></g><g transform="translate(2778.3,975.8)"><path d="M1,-37 L27.5,-22 L27.5,14 L1,37 L-27,23 L-27,-14.5 Z" fill="#fff" stroke="#111" stroke-width="1.6"/><path d="M16.8,-28.5 L16.8,7.2 L-7.2,29.4" fill="none" stroke="#111" stroke-width="1.3"/></g><g transform="translate(2848.8,967.6)"><path d="M1,-37 L27.5,-22 L27.5,14 L1,37 L-27,23 L-27,-14.5 Z" fill="#fff" stroke="#111" stroke-width="1.6"/><path d="M16.8,-28.5 L16.8,7.2 L-7.2,29.4" fill="none" stroke="#111" stroke-width="1.3"/></g><g transform="translate(2919.3,959.4)"><path d="M1,-37 L27.5,-22 L27.5,14 L1,37 L-27,23 L-27,-14.5 Z" fill="#fff" stroke="#111" stroke-width="1.6"/><path d="M16.8,-28.5 L16.8,7.2 L-7.2,29.4" fill="none" stroke="#111" stroke-width="1.3"/></g><g transform="translate(2989.8,951.2)"><path d="M1,-37 L27.5,-22 L27.5,14 L1,37 L-27,23 L-27,-14.5 Z" fill="#fff" stroke="#111" stroke-width="1.6"/><path d="M16.8,-28.5 L16.8,7.2 L-7.2,29.4" fill="none" stroke="#111" stroke-width="1.3"/></g><g transform="translate(2320.0,1106.2)"><path d="M1,-37 L27.5,-22 L27.5,14 L1,37 L-27,23 L-27,-14.5 Z" fill="#fff" stroke="#111" stroke-width="1.6"/><path d="M16.8,-28.5 L16.8,7.2 L-7.2,29.4" fill="none" stroke="#111" stroke-width="1.3"/></g><g transform="translate(2390.5,1098.0)"><path d="M1,-37 L27.5,-22 L27.5,14 L1,37 L-27,23 L-27,-14.5 Z" fill="#fff" stroke="#111" stroke-width="1.6"/><path d="M16.8,-28.5 L16.8,7.2 L-7.2,29.4" fill="none" stroke="#111" stroke-width="1.3"/></g><g transform="translate(2461.0,1089.8)"><path d="M1,-37 L27.5,-22 L27.5,14 L1,37 L-27,23 L-27,-14.5 Z" fill="#fff" stroke="#111" stroke-width="1.6"/><path d="M16.8,-28.5 L16.8,7.2 L-7.2,29.4" fill="none" stroke="#111" stroke-width="1.3"/></g><g transform="translate(2531.5,1081.6)"><path d="M1,-37 L27.5,-22 L27.5,14 L1,37 L-27,23 L-27,-14.5 Z" fill="#fff" stroke="#111" stroke-width="1.6"/><path d="M16.8,-28.5 L16.8,7.2 L-7.2,29.4" fill="none" stroke="#111" stroke-width="1.3"/></g><g transform="translate(2602.0,1073.4)"><path d="M1,-37 L27.5,-22 L27.5,14 L1,37 L-27,23 L-27,-14.5 Z" fill="#fff" stroke="#111" stroke-width="1.6"/><path d="M16.8,-28.5 L16.8,7.2 L-7.2,29.4" fill="none" stroke="#111" stroke-width="1.3"/></g><g transform="translate(2672.5,1065.2)"><path d="M1,-37 L27.5,-22 L27.5,14 L1,37 L-27,23 L-27,-14.5 Z" fill="#fff" stroke="#111" stroke-width="1.6"/><path d="M16.8,-28.5 L16.8,7.2 L-7.2,29.4" fill="none" stroke="#111" stroke-width="1.3"/></g><g transform="translate(2743.0,1057.0)"><path d="M1,-37 L27.5,-22 L27.5,14 L1,37 L-27,23 L-27,-14.5 Z" fill="#fff" stroke="#111" stroke-width="1.6"/><path d="M16.8,-28.5 L16.8,7.2 L-7.2,29.4" fill="none" stroke="#111" stroke-width="1.3"/></g><g transform="translate(2813.5,1048.8)"><path d="M1,-37 L27.5,-22 L27.5,14 L1,37 L-27,23 L-27,-14.5 Z" fill="#fff" stroke="#111" stroke-width="1.6"/><path d="M16.8,-28.5 L16.8,7.2 L-7.2,29.4" fill="none" stroke="#111" stroke-width="1.3"/></g><g transform="translate(2884.0,1040.6)"><path d="M1,-37 L27.5,-22 L27.5,14 L1,37 L-27,23 L-27,-14.5 Z" fill="#fff" stroke="#111" stroke-width="1.6"/><path d="M16.8,-28.5 L16.8,7.2 L-7.2,29.4" fill="none" stroke="#111" stroke-width="1.3"/></g><g transform="translate(2954.5,1032.4)"><path d="M1,-37 L27.5,-22 L27.5,14 L1,37 L-27,23 L-27,-14.5 Z" fill="#fff" stroke="#111" stroke-width="1.6"/><path d="M16.8,-28.5 L16.8,7.2 L-7.2,29.4" fill="none" stroke="#111" stroke-width="1.3"/></g><g transform="translate(2284.8,1187.4)"><path d="M1,-37 L27.5,-22 L27.5,14 L1,37 L-27,23 L-27,-14.5 Z" fill="#fff" stroke="#111" stroke-width="1.6"/><path d="M16.8,-28.5 L16.8,7.2 L-7.2,29.4" fill="none" stroke="#111" stroke-width="1.3"/></g><g transform="translate(2355.3,1179.2)"><path d="M1,-37 L27.5,-22 L27.5,14 L1,37 L-27,23 L-27,-14.5 Z" fill="#fff" stroke="#111" stroke-width="1.6"/><path d="M16.8,-28.5 L16.8,7.2 L-7.2,29.4" fill="none" stroke="#111" stroke-width="1.3"/></g><g transform="translate(2425.8,1171.0)"><path d="M1,-37 L27.5,-22 L27.5,14 L1,37 L-27,23 L-27,-14.5 Z" fill="#fff" stroke="#111" stroke-width="1.6"/><path d="M16.8,-28.5 L16.8,7.2 L-7.2,29.4" fill="none" stroke="#111" stroke-width="1.3"/></g><g transform="translate(2496.3,1162.8)"><path d="M1,-37 L27.5,-22 L27.5,14 L1,37 L-27,23 L-27,-14.5 Z" fill="#fff" stroke="#111" stroke-width="1.6"/><path d="M16.8,-28.5 L16.8,7.2 L-7.2,29.4" fill="none" stroke="#111" stroke-width="1.3"/></g><g transform="translate(2566.8,1154.6)"><path d="M1,-37 L27.5,-22 L27.5,14 L1,37 L-27,23 L-27,-14.5 Z" fill="#fff" stroke="#111" stroke-width="1.6"/><path d="M16.8,-28.5 L16.8,7.2 L-7.2,29.4" fill="none" stroke="#111" stroke-width="1.3"/></g><g transform="translate(2637.3,1146.4)"><path d="M1,-37 L27.5,-22 L27.5,14 L1,37 L-27,23 L-27,-14.5 Z" fill="#fff" stroke="#111" stroke-width="1.6"/><path d="M16.8,-28.5 L16.8,7.2 L-7.2,29.4" fill="none" stroke="#111" stroke-width="1.3"/></g><g transform="translate(2707.8,1138.2)"><path d="M1,-37 L27.5,-22 L27.5,14 L1,37 L-27,23 L-27,-14.5 Z" fill="#fff" stroke="#111" stroke-width="1.6"/><path d="M16.8,-28.5 L16.8,7.2 L-7.2,29.4" fill="none" stroke="#111" stroke-width="1.3"/></g><g transform="translate(2778.3,1130.0)"><path d="M1,-37 L27.5,-22 L27.5,14 L1,37 L-27,23 L-27,-14.5 Z" fill="#fff" stroke="#111" stroke-width="1.6"/><path d="M16.8,-28.5 L16.8,7.2 L-7.2,29.4" fill="none" stroke="#111" stroke-width="1.3"/></g><g transform="translate(2848.8,1121.8)"><path d="M1,-37 L27.5,-22 L27.5,14 L1,37 L-27,23 L-27,-14.5 Z" fill="#fff" stroke="#111" stroke-width="1.6"/><path d="M16.8,-28.5 L16.8,7.2 L-7.2,29.4" fill="none" stroke="#111" stroke-width="1.3"/></g><g transform="translate(2919.3,1113.6)"><path d="M1,-37 L27.5,-22 L27.5,14 L1,37 L-27,23 L-27,-14.5 Z" fill="#fff" stroke="#111" stroke-width="1.6"/><path d="M16.8,-28.5 L16.8,7.2 L-7.2,29.4" fill="none" stroke="#111" stroke-width="1.3"/></g><g transform="translate(2989.8,1105.4)"><path d="M1,-37 L27.5,-22 L27.5,14 L1,37 L-27,23 L-27,-14.5 Z" fill="#fff" stroke="#111" stroke-width="1.6"/><path d="M16.8,-28.5 L16.8,7.2 L-7.2,29.4" fill="none" stroke="#111" stroke-width="1.3"/></g><path d="M2282,1359 L2381,1348 M2420,1344 L2733,1308 M2304,1376 L2401,1365 M2326,1390 L2416,1381 L2426,1365 L2714,1332" fill="none" stroke="#000" stroke-width="1.6" /><path d="M2326,1390 L2416,1381 L2426,1365 L2714,1332" fill="none" stroke="#000" stroke-width="2.6" /><path d="M2692,1252 L2771,1244 M2677,1279 L2760,1269 M2366,1351 L2402,1363 L2410,1347" fill="none" stroke="#000" stroke-width="1.4" /><path d="M2368,1200 L2368,1120 Q2368,1075 2410,1068 L2530,1052 Q2575,1050 2585,1090 L2585,1300 Q2580,1322 2560,1326 L2420,1343 L2400,1346 Q2385,1346 2382,1330 L2382,1285 Q2368,1260 2368,1200 Z" fill="#d9d9d9" stroke="#000" stroke-width="2.2" /><path d="M2382,1290 Q2380,1200 2383,1120 Q2386,1082 2420,1076" fill="none" stroke="#000" stroke-width="1.3" /><path d="M2382,1286 L2404,1290 L2404,1318 L2382,1314 M2382,1308 L2404,1306 M2398,1290 Q2418,1290 2418,1305 L2418,1328 Q2416,1346 2400,1346" fill="none" stroke="#000" stroke-width="1.6" /><path d="M2382,1286 L2382,1345 L2392,1348" fill="none" stroke="#000" stroke-width="1.6" /><ellipse cx="2450.0" cy="1172.0" rx="27.0" ry="72.0" fill="#d9d9d9" stroke="#000" stroke-width="2.4" transform="rotate(8 2450.0 1172.0)" /><path d="M2460.0,1100.7 L2500.0,1108.7 L2480.0,1251.3 L2440.0,1243.3Z" fill="#d9d9d9" stroke="none" stroke-width="0" /><path d="M2460.0,1100.7 L2500.0,1108.7" fill="none" stroke="#000" stroke-width="2.4" /><path d="M2440.0,1243.3 L2480.0,1251.3" fill="none" stroke="#000" stroke-width="2.4" /><ellipse cx="2500.0" cy="1180.0" rx="31.0" ry="94.0" fill="#d9d9d9" stroke="#000" stroke-width="2.4" transform="rotate(8 2500.0 1180.0)" /><path d="M2513.1,1086.9 L2603.1,1104.9 L2576.9,1291.1 L2486.9,1273.1Z" fill="#d9d9d9" stroke="none" stroke-width="0" /><path d="M2513.1,1086.9 L2603.1,1104.9" fill="none" stroke="#000" stroke-width="2.4" /><path d="M2486.9,1273.1 L2576.9,1291.1" fill="none" stroke="#000" stroke-width="2.4" /><path d="M2524.7,1093.1 L2532.6,1093.8 L2528.5,1095.0 L2536.2,1096.5 L2531.9,1098.5 L2539.5,1101.0 L2535.0,1103.8 L2542.3,1107.0 L2537.6,1110.5 L2544.7,1114.5 L2539.6,1118.7 L2546.5,1123.3 L2541.1,1128.2 L2547.7,1133.3 L2542.1,1138.7 L2548.3,1144.3 L2542.4,1150.0 L2548.3,1156.0 L2542.1,1162.0 L2547.7,1168.2 L2541.2,1174.5 L2546.5,1180.7 L2539.7,1187.0 L2544.8,1193.3 L2537.7,1199.5 L2542.5,1205.7 L2535.1,1211.7 L2539.7,1217.6 L2532.1,1223.3 L2536.4,1228.9 L2528.6,1234.2 L2532.8,1239.2 L2524.9,1244.0 L2528.9,1248.5 L2520.8,1252.7 L2524.7,1256.5 L2516.6,1260.0 L2520.4,1263.1 L2512.2,1265.8 L2516.0,1268.1 L2507.8,1270.0 L2511.7,1271.4 L2503.5,1272.4 L2507.4,1273.0 L2499.3,1273.2" fill="none" stroke="#000" stroke-width="1.1" /><path d="M2528.6,1093.4 L2620.6,1110.4" fill="none" stroke="#000" stroke-width="1" /><path d="M2532.4,1095.7 L2624.4,1112.7" fill="none" stroke="#000" stroke-width="1" /><path d="M2535.7,1099.7 L2627.7,1116.7" fill="none" stroke="#000" stroke-width="1" /><path d="M2538.7,1105.3 L2630.7,1122.3" fill="none" stroke="#000" stroke-width="1" /><path d="M2541.1,1112.5 L2633.1,1129.5" fill="none" stroke="#000" stroke-width="1" /><path d="M2543.1,1121.0 L2635.1,1138.0" fill="none" stroke="#000" stroke-width="1" /><path d="M2544.4,1130.7 L2636.4,1147.7" fill="none" stroke="#000" stroke-width="1" /><path d="M2545.2,1141.4 L2637.2,1158.4" fill="none" stroke="#000" stroke-width="1" /><path d="M2545.4,1153.0 L2637.4,1170.0" fill="none" stroke="#000" stroke-width="1" /><path d="M2544.9,1165.1 L2636.9,1182.1" fill="none" stroke="#000" stroke-width="1" /><path d="M2543.9,1177.6 L2635.9,1194.6" fill="none" stroke="#000" stroke-width="1" /><path d="M2542.3,1190.2 L2634.3,1207.2" fill="none" stroke="#000" stroke-width="1" /><path d="M2540.1,1202.6 L2632.1,1219.6" fill="none" stroke="#000" stroke-width="1" /><path d="M2537.4,1214.7 L2629.4,1231.7" fill="none" stroke="#000" stroke-width="1" /><path d="M2534.3,1226.1 L2626.3,1243.1" fill="none" stroke="#000" stroke-width="1" /><path d="M2530.7,1236.7 L2622.7,1253.7" fill="none" stroke="#000" stroke-width="1" /><path d="M2526.9,1246.3 L2618.9,1263.3" fill="none" stroke="#000" stroke-width="1" /><path d="M2522.8,1254.6 L2614.8,1271.6" fill="none" stroke="#000" stroke-width="1" /><path d="M2518.5,1261.6 L2610.5,1278.6" fill="none" stroke="#000" stroke-width="1" /><path d="M2514.1,1267.0 L2606.1,1284.0" fill="none" stroke="#000" stroke-width="1" /><path d="M2509.7,1270.7 L2601.7,1287.7" fill="none" stroke="#000" stroke-width="1" /><path d="M2505.5,1272.8 L2597.5,1289.8" fill="none" stroke="#000" stroke-width="1" /><ellipse cx="2630.0" cy="1205.0" rx="77.0" ry="100.0" fill="#d9d9d9" stroke="#000" stroke-width="2.8" transform="rotate(8 2630.0 1205.0)" /><ellipse cx="2633.0" cy="1205.0" rx="70.0" ry="92.0" fill="none" stroke="#000" stroke-width="1.1" transform="rotate(8 2633.0 1205.0)" /><ellipse cx="2634" cy="1205" rx="57" ry="77" fill="none" stroke="#000" stroke-width="12" stroke-dasharray="62 22" stroke-linecap="round" transform="rotate(8 2634 1205)"/><ellipse cx="2634" cy="1205" rx="57" ry="77" fill="none" stroke="#d9d9d9" stroke-width="9.6" stroke-dasharray="62 22" stroke-linecap="round" transform="rotate(8 2634 1205)"/><ellipse cx="2635.0" cy="1206.0" rx="45.0" ry="60.0" fill="#d9d9d9" stroke="#000" stroke-width="1.6" transform="rotate(8 2635.0 1206.0)" /><ellipse cx="2632.0" cy="1207.0" rx="42.0" ry="56.0" fill="none" stroke="#000" stroke-width="1" transform="rotate(8 2632.0 1207.0)" /><path d="M2624,1153 L2638,1151 L2640,1190 Q2642,1196 2650,1195 L2672,1190 L2674,1206 L2650,1214 Q2640,1218 2640,1228 L2640,1258 L2626,1262 L2624,1232 Q2622,1222 2612,1224 L2592,1228 L2590,1212 L2612,1204 Q2623,1200 2624,1190 Z" fill="#d9d9d9" stroke="#000" stroke-width="1.5" /><path d="M2592,1228 L2592,1238 L2612,1230 M2626,1262 L2638,1266 L2640,1258 M2658,1194 L2660,1208" fill="none" stroke="#000" stroke-width="1" /></g>
<circle cx="2485" cy="1124.5" r="317.75" fill="none" stroke="#8fac40" stroke-width="8.5"/>
<path d="M2217,1189 L2260,1156 L2260,1178 Q2310,1186 2354,1176 L2354,1222 Q2310,1232 2260,1223 L2260,1244 Z" fill="#8fac40" stroke="#fff" stroke-width="1.5" />
<path d="M2443,1092 Q2465,1015 2510,995 Q2555,978 2609,992 Q2540,1010 2490,1098 Z" fill="#8fac40" stroke="#fff" stroke-width="2" />
<path d="M2609,992 Q2680,1010 2722,1070 L2736,1071 L2702,1123 L2645,1059 L2665,1062 Q2645,1020 2609,992 Z" fill="#6a8b2d" stroke="none" stroke-width="0" />
<circle cx="2557" cy="905" r="52.5" fill="#fff" stroke="#000" stroke-width="9"/>
<text x="2557.0" y="928.0" font-family="Liberation Sans, sans-serif" font-size="66" fill="#222" text-anchor="middle" font-weight="normal" >2</text>
<circle cx="2296" cy="1088" r="52.5" fill="#fff" stroke="#000" stroke-width="9"/>
<text x="2296.0" y="1111.0" font-family="Liberation Sans, sans-serif" font-size="66" fill="#222" text-anchor="middle" font-weight="normal" >1</text>
<text x="2687.0" y="1856.0" font-family="Liberation Sans, sans-serif" font-size="41" fill="#222" text-anchor="start" font-weight="normal" transform="rotate(-90 2687.0 1856.0)" textLength="178" lengthAdjust="spacingAndGlyphs">g103022</text>
</svg></body></html>
